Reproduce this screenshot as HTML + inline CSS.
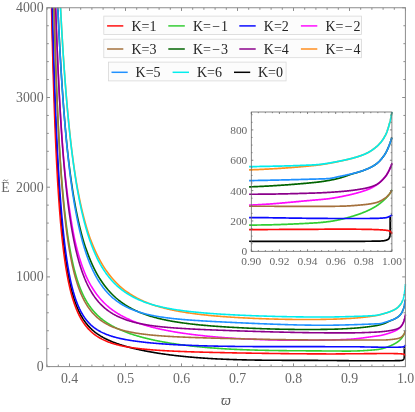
<!DOCTYPE html>
<html><head><meta charset="utf-8"><style>
html,body{margin:0;padding:0;background:#fff;}
svg{display:block;font-family:"Liberation Serif",serif;will-change:transform;}
</style></head><body>
<svg width="415" height="412" viewBox="0 0 415 412">
<rect width="415" height="412" fill="#fff"/>
<defs><clipPath id="cm"><rect x="46.8" y="7.75" width="359.80" height="358.85"/></clipPath>
<clipPath id="ci"><rect x="249.10000000000002" y="112.0" width="144.00" height="139.30"/></clipPath></defs>
<g clip-path="url(#cm)" fill="none" stroke-width="1.6" stroke-linejoin="round" stroke-linecap="butt">
<path d="M51.85,6.90 L52.01,13.29 L52.17,19.62 L52.33,25.90 L52.50,32.11 L52.67,38.26 L52.84,44.34 L53.01,50.35 L53.19,56.30 L53.37,62.17 L53.55,67.97 L53.73,73.69 L53.92,79.34 L54.11,84.91 L54.30,90.41 L54.49,95.82 L54.69,101.16 L54.88,106.41 L55.09,111.58 L55.29,116.68 L55.49,121.69 L55.70,126.61 L55.91,131.46 L56.12,136.22 L56.34,140.90 L56.56,145.50 L56.78,150.02 L57.00,154.45 L57.23,158.81 L57.45,163.08 L57.68,167.27 L57.91,171.38 L58.15,175.41 L58.39,179.36 L58.63,183.23 L58.87,187.03 L59.11,190.74 L59.36,194.38 L59.61,197.95 L59.86,201.44 L60.11,204.85 L60.37,208.20 L60.63,211.47 L60.89,214.67 L61.16,217.80 L61.42,220.86 L61.69,223.86 L61.96,226.78 L62.24,229.64 L62.51,232.44 L62.79,235.17 L63.07,237.84 L63.35,240.45 L63.64,242.99 L63.93,245.48 L64.22,247.91 L64.51,250.28 L64.81,252.60 L65.11,254.86 L65.41,257.07 L65.71,259.22 L66.01,261.32 L66.32,263.38 L66.63,265.38 L66.94,267.33 L67.26,269.24 L67.58,271.10 L67.90,272.91 L68.22,274.68 L68.54,276.41 L68.87,278.09 L69.20,279.74 L69.53,281.34 L69.87,282.90 L70.20,284.42 L70.54,285.91 L70.88,287.36 L71.23,288.77 L71.57,290.15 L71.92,291.50 L72.27,292.81 L72.63,294.09 L72.99,295.34 L73.34,296.55 L73.71,297.74 L74.07,298.90 L74.43,300.03 L74.80,301.13 L75.17,302.20 L75.55,303.25 L75.92,304.27 L76.30,305.27 L76.68,306.24 L77.06,307.19 L77.45,308.12 L77.84,309.02 L78.23,309.90 L78.62,310.77 L79.02,311.61 L79.41,312.43 L79.81,313.23 L80.22,314.01 L80.62,314.77 L81.03,315.52 L81.44,316.25 L81.85,316.96 L82.27,317.66 L82.68,318.34 L83.10,319.00 L83.52,319.65 L83.95,320.28 L84.38,320.90 L84.80,321.51 L85.24,322.10 L85.67,322.68 L86.11,323.25 L86.55,323.80 L86.99,324.35 L87.43,324.88 L87.88,325.40 L88.33,325.90 L88.78,326.40 L89.23,326.89 L89.69,327.37 L90.15,327.84 L90.61,328.29 L91.07,328.74 L91.54,329.18 L92.00,329.62 L92.47,330.04 L92.95,330.45 L93.42,330.86 L93.90,331.26 L94.38,331.65 L94.86,332.04 L95.35,332.41 L95.84,332.79 L96.33,333.15 L96.82,333.51 L97.31,333.86 L97.81,334.20 L98.31,334.54 L98.81,334.87 L99.32,335.20 L99.83,335.52 L100.33,335.84 L100.85,336.15 L101.36,336.46 L101.88,336.76 L102.40,337.06 L102.92,337.35 L103.44,337.64 L103.97,337.92 L104.50,338.20 L105.03,338.48 L105.56,338.75 L106.10,339.01 L106.64,339.28 L107.18,339.54 L107.72,339.79 L108.27,340.05 L108.82,340.29 L109.37,340.54 L109.92,340.78 L110.48,341.02 L111.04,341.26 L111.60,341.49 L112.16,341.72 L112.72,341.95 L113.29,342.17 L113.86,342.39 L114.44,342.61 L115.01,342.83 L115.59,343.04 L116.17,343.25 L116.75,343.46 L117.34,343.67 L117.92,343.87 L118.51,344.08 L119.11,344.28 L119.70,344.47 L120.30,344.67 L120.90,344.86 L121.50,345.05 L122.10,345.24 L122.71,345.43 L123.32,345.62 L123.93,345.80 L124.54,345.98 L125.16,346.16 L125.78,346.34 L126.40,346.52 L127.03,346.69 L127.65,346.86 L128.28,347.04 L128.91,347.20 L129.54,347.37 L130.18,347.54 L130.82,347.70 L131.46,347.87 L132.10,348.03 L132.75,348.19 L133.40,348.35 L134.05,348.51 L134.70,348.66 L135.36,348.82 L136.01,348.97 L136.67,349.12 L137.34,349.27 L138.00,349.42 L138.67,349.57 L139.34,349.72 L140.01,349.86 L140.69,350.01 L141.36,350.15 L142.04,350.29 L142.73,350.43 L143.41,350.57 L144.10,350.71 L144.79,350.85 L145.48,350.98 L146.17,351.12 L146.87,351.25 L147.57,351.38 L148.27,351.51 L148.98,351.64 L149.68,351.77 L150.39,351.90 L151.10,352.03 L151.82,352.15 L152.53,352.28 L153.25,352.40 L153.97,352.52 L154.70,352.64 L155.42,352.76 L156.15,352.88 L156.88,353.00 L157.61,353.12 L158.35,353.23 L159.09,353.35 L159.83,353.46 L160.57,353.57 L161.32,353.68 L162.07,353.79 L162.82,353.90 L163.57,354.01 L164.32,354.12 L165.08,354.22 L165.84,354.33 L166.60,354.43 L167.37,354.54 L168.14,354.64 L168.91,354.74 L169.68,354.84 L170.45,354.94 L171.23,355.04 L172.01,355.13 L172.79,355.23 L173.57,355.32 L174.36,355.42 L175.15,355.51 L175.94,355.60 L176.74,355.69 L177.53,355.78 L178.33,355.87 L179.13,355.96 L179.94,356.05 L180.74,356.14 L181.55,356.22 L182.36,356.30 L183.18,356.39 L183.99,356.47 L184.81,356.55 L185.63,356.63 L186.46,356.71 L187.28,356.79 L188.11,356.87 L188.94,356.94 L189.77,357.02 L190.61,357.09 L191.45,357.17 L192.29,357.24 L193.13,357.31 L193.97,357.38 L194.82,357.45 L195.67,357.52 L196.52,357.59 L197.38,357.65 L198.24,357.72 L199.10,357.78 L199.96,357.85 L200.82,357.91 L201.69,357.97 L202.56,358.03 L203.43,358.09 L204.31,358.15 L205.18,358.21 L206.06,358.27 L206.94,358.32 L207.83,358.38 L208.71,358.44 L209.60,358.49 L210.49,358.54 L211.39,358.59 L212.28,358.64 L213.18,358.69 L214.08,358.74 L214.99,358.79 L215.89,358.84 L216.80,358.89 L217.71,358.93 L218.63,358.98 L219.54,359.02 L220.46,359.06 L221.38,359.11 L222.30,359.15 L223.23,359.19 L224.16,359.23 L225.09,359.27 L226.02,359.30 L226.95,359.34 L227.89,359.38 L228.83,359.41 L229.77,359.45 L230.72,359.48 L231.67,359.51 L232.62,359.55 L233.57,359.58 L234.52,359.61 L235.48,359.64 L236.44,359.67 L237.40,359.70 L238.36,359.72 L239.33,359.75 L240.30,359.78 L241.27,359.80 L242.25,359.83 L243.22,359.85 L244.20,359.87 L245.18,359.90 L246.17,359.92 L247.15,359.94 L248.14,359.96 L249.13,359.98 L250.13,360.00 L251.12,360.02 L252.12,360.04 L253.12,360.05 L254.12,360.07 L255.13,360.09 L256.14,360.10 L257.15,360.12 L258.16,360.13 L259.18,360.14 L260.19,360.16 L261.22,360.17 L262.24,360.18 L263.26,360.19 L264.29,360.20 L265.32,360.21 L266.35,360.23 L267.39,360.23 L268.43,360.24 L269.46,360.25 L270.51,360.26 L271.55,360.27 L272.60,360.28 L273.65,360.28 L274.70,360.29 L275.75,360.30 L276.81,360.30 L277.87,360.31 L278.93,360.31 L280.00,360.32 L281.06,360.32 L282.13,360.33 L283.20,360.33 L284.28,360.33 L285.35,360.34 L286.43,360.34 L287.51,360.34 L288.60,360.35 L289.68,360.35 L290.77,360.35 L291.86,360.36 L292.95,360.36 L294.05,360.36 L295.15,360.36 L296.25,360.37 L297.35,360.37 L298.46,360.37 L299.56,360.37 L300.67,360.37 L301.79,360.38 L302.90,360.38 L304.02,360.38 L305.14,360.38 L306.26,360.39 L307.39,360.39 L308.51,360.39 L309.64,360.39 L310.78,360.40 L311.91,360.40 L313.05,360.40 L314.19,360.41 L315.33,360.41 L316.47,360.42 L317.62,360.42 L318.77,360.43 L319.92,360.43 L321.07,360.44 L322.23,360.45 L323.39,360.45 L324.55,360.46 L325.71,360.47 L326.88,360.48 L328.05,360.49 L329.22,360.49 L330.39,360.50 L331.57,360.52 L332.75,360.53 L333.93,360.54 L335.11,360.55 L336.30,360.56 L337.49,360.58 L338.68,360.59 L339.87,360.60 L341.06,360.62 L342.26,360.63 L343.46,360.64 L344.67,360.65 L345.87,360.66 L347.08,360.67 L348.29,360.67 L349.50,360.68 L349.50,360.68 L349.85,360.68 L350.19,360.68 L350.53,360.69 L350.88,360.69 L351.22,360.69 L351.56,360.69 L351.89,360.69 L352.23,360.69 L352.57,360.70 L352.90,360.70 L353.23,360.70 L353.56,360.70 L353.89,360.70 L354.22,360.70 L354.55,360.71 L354.88,360.71 L355.20,360.71 L355.53,360.71 L355.85,360.71 L356.17,360.71 L356.49,360.72 L356.81,360.72 L357.13,360.72 L357.44,360.72 L357.76,360.72 L358.07,360.72 L358.39,360.72 L358.70,360.73 L359.01,360.73 L359.32,360.73 L359.62,360.73 L359.93,360.73 L360.23,360.73 L360.54,360.73 L360.84,360.74 L361.14,360.74 L361.44,360.74 L361.74,360.74 L362.04,360.74 L362.34,360.74 L362.63,360.74 L362.92,360.74 L363.22,360.74 L363.51,360.75 L363.80,360.75 L364.09,360.75 L364.38,360.75 L364.66,360.75 L364.95,360.75 L365.23,360.75 L365.51,360.75 L365.80,360.75 L366.08,360.75 L366.35,360.76 L366.63,360.76 L366.91,360.76 L367.19,360.76 L367.46,360.76 L367.73,360.76 L368.00,360.76 L368.28,360.76 L368.55,360.76 L368.81,360.76 L369.08,360.76 L369.35,360.76 L369.61,360.76 L369.87,360.76 L370.14,360.76 L370.40,360.77 L370.66,360.77 L370.92,360.77 L371.18,360.77 L371.43,360.77 L371.69,360.77 L371.94,360.77 L372.19,360.77 L372.45,360.77 L372.70,360.77 L372.95,360.77 L373.19,360.77 L373.44,360.77 L373.69,360.77 L373.93,360.77 L374.18,360.77 L374.42,360.77 L374.66,360.77 L374.90,360.77 L375.14,360.77 L375.38,360.77 L375.61,360.77 L375.85,360.77 L376.08,360.77 L376.32,360.77 L376.55,360.77 L376.78,360.77 L377.01,360.77 L377.24,360.77 L377.47,360.77 L377.69,360.77 L377.92,360.77 L378.14,360.77 L378.36,360.77 L378.59,360.77 L378.81,360.76 L379.03,360.76 L379.25,360.76 L379.46,360.76 L379.68,360.76 L379.89,360.76 L380.11,360.76 L380.32,360.76 L380.53,360.76 L380.74,360.76 L380.95,360.76 L381.16,360.76 L381.37,360.76 L381.58,360.76 L381.78,360.76 L381.99,360.76 L382.19,360.75 L382.39,360.75 L382.59,360.75 L382.79,360.75 L382.99,360.75 L383.19,360.75 L383.39,360.75 L383.58,360.75 L383.78,360.75 L383.97,360.75 L384.16,360.75 L384.35,360.74 L384.54,360.74 L384.73,360.74 L384.92,360.74 L385.11,360.74 L385.29,360.74 L385.48,360.74 L385.66,360.74 L385.84,360.74 L386.03,360.74 L386.21,360.73 L386.39,360.73 L386.57,360.73 L386.74,360.73 L386.92,360.73 L387.10,360.73 L387.27,360.73 L387.44,360.73 L387.62,360.73 L387.79,360.73 L387.96,360.72 L388.13,360.72 L388.29,360.72 L388.46,360.72 L388.63,360.72 L388.79,360.72 L388.96,360.72 L389.12,360.72 L389.28,360.72 L389.44,360.71 L389.60,360.71 L389.76,360.71 L389.92,360.71 L390.08,360.71 L390.23,360.71 L390.39,360.71 L390.54,360.71 L390.70,360.71 L390.85,360.71 L391.00,360.70 L391.15,360.70 L391.30,360.70 L391.45,360.70 L391.59,360.70 L391.74,360.70 L391.89,360.70 L392.03,360.70 L392.17,360.70 L392.32,360.69 L392.46,360.69 L392.60,360.69 L392.74,360.69 L392.88,360.69 L393.01,360.69 L393.15,360.69 L393.29,360.69 L393.42,360.69 L393.55,360.68 L393.69,360.68 L393.82,360.68 L393.95,360.68 L394.08,360.68 L394.21,360.68 L394.34,360.68 L394.46,360.68 L394.59,360.68 L394.72,360.68 L394.84,360.67 L394.96,360.67 L395.09,360.67 L395.21,360.67 L395.33,360.67 L395.45,360.67 L395.57,360.67 L395.68,360.67 L395.80,360.67 L395.92,360.66 L396.03,360.66 L396.15,360.66 L396.26,360.66 L396.37,360.66 L396.48,360.66 L396.60,360.66 L396.70,360.65 L396.81,360.65 L396.92,360.65 L397.03,360.65 L397.14,360.65 L397.24,360.65 L397.35,360.65 L397.45,360.64 L397.55,360.64 L397.65,360.64 L397.75,360.64 L397.86,360.64 L397.95,360.64 L398.05,360.63 L398.15,360.63 L398.25,360.63 L398.34,360.63 L398.44,360.63 L398.53,360.62 L398.63,360.62 L398.72,360.62 L398.81,360.62 L398.90,360.62 L398.99,360.61 L399.08,360.61 L399.17,360.61 L399.26,360.61 L399.34,360.61 L399.43,360.60 L399.51,360.60 L399.60,360.60 L399.68,360.60 L399.76,360.59 L399.85,360.59 L399.92,360.59 L400.00,360.59 L400.07,360.58 L400.14,360.58 L400.21,360.58 L400.27,360.57 L400.34,360.57 L400.41,360.57 L400.48,360.56 L400.54,360.56 L400.61,360.55 L400.67,360.55 L400.73,360.54 L400.80,360.53 L400.86,360.53 L400.92,360.52 L400.98,360.52 L401.04,360.51 L401.10,360.50 L401.16,360.50 L401.22,360.49 L401.28,360.48 L401.33,360.48 L401.39,360.47 L401.45,360.46 L401.50,360.45 L401.55,360.45 L401.61,360.44 L401.66,360.43 L401.71,360.42 L401.77,360.41 L401.82,360.41 L401.87,360.40 L401.92,360.39 L401.97,360.38 L402.01,360.37 L402.06,360.36 L402.11,360.35 L402.16,360.33 L402.20,360.32 L402.25,360.31 L402.29,360.29 L402.34,360.28 L402.38,360.26 L402.42,360.25 L402.47,360.23 L402.51,360.22 L402.55,360.20 L402.59,360.18 L402.63,360.16 L402.67,360.15 L402.71,360.13 L402.75,360.11 L402.78,360.09 L402.82,360.07 L402.86,360.05 L402.89,360.03 L402.93,360.01 L402.96,359.99 L403.00,359.97 L403.03,359.95 L403.07,359.92 L403.10,359.90 L403.13,359.88 L403.16,359.86 L403.19,359.84 L403.22,359.81 L403.25,359.79 L403.28,359.77 L403.31,359.75 L403.34,359.72 L403.37,359.70 L403.40,359.68 L403.42,359.65 L403.45,359.63 L403.48,359.61 L403.50,359.59 L403.53,359.56 L403.55,359.54 L403.57,359.51 L403.60,359.48 L403.62,359.45 L403.64,359.41 L403.66,359.38 L403.69,359.34 L403.71,359.31 L403.73,359.27 L403.75,359.23 L403.77,359.19 L403.79,359.14 L403.80,359.10 L403.82,359.06 L403.84,359.01 L403.86,358.96 L403.87,358.92 L403.89,358.87 L403.91,358.82 L403.93,358.77 L403.94,358.72 L403.96,358.67 L403.98,358.62 L403.99,358.57 L404.01,358.52 L404.02,358.47 L404.04,358.42 L404.05,358.37 L404.06,358.32 L404.08,358.27 L404.09,358.23 L404.10,358.18 L404.11,358.13 L404.12,358.09 L404.13,358.05 L404.15,358.00 L404.16,357.95 L404.16,357.90 L404.17,357.85 L404.18,357.79 L404.19,357.72 L404.20,357.65 L404.21,357.58 L404.21,357.50 L404.22,357.42 L404.23,357.33 L404.23,357.24 L404.24,357.16 L404.25,357.07 L404.25,356.97 L404.26,356.88 L404.26,356.80 L404.26,356.71 L404.27,356.62 L404.27,356.54 L404.28,356.36 L404.28,356.09 L404.28,355.76 L404.28,355.41 L404.29,355.07 L404.29,354.75 L404.29,354.45 L404.29,354.19 L404.29,353.96 L404.30,353.76 L404.30,353.60 L404.30,353.47 L404.30,353.36 L404.30,353.28 L404.30,353.22 L404.30,353.18 L404.30,353.16 L404.30,353.15 L404.30,353.15 L404.30,346.33" stroke="#000000"/>
<path d="M51.53,5.75 L51.69,12.92 L51.85,19.99 L52.01,26.94 L52.17,33.79 L52.33,40.53 L52.50,47.16 L52.67,53.68 L52.84,60.08 L53.01,66.38 L53.19,72.57 L53.37,78.64 L53.55,84.60 L53.73,90.46 L53.92,96.20 L54.11,101.84 L54.30,107.36 L54.49,112.78 L54.69,118.09 L54.88,123.30 L55.09,128.40 L55.29,133.40 L55.49,138.29 L55.70,143.08 L55.91,147.78 L56.12,152.37 L56.34,156.87 L56.56,161.27 L56.78,165.58 L57.00,169.79 L57.23,173.92 L57.45,177.95 L57.68,181.89 L57.91,185.75 L58.15,189.52 L58.39,193.21 L58.63,196.81 L58.87,200.33 L59.11,203.78 L59.36,207.14 L59.61,210.43 L59.86,213.65 L60.11,216.79 L60.37,219.86 L60.63,222.86 L60.89,225.79 L61.16,228.65 L61.42,231.45 L61.69,234.18 L61.96,236.84 L62.24,239.45 L62.51,242.00 L62.79,244.48 L63.07,246.91 L63.35,249.28 L63.64,251.60 L63.93,253.86 L64.22,256.07 L64.51,258.22 L64.81,260.33 L65.11,262.39 L65.41,264.40 L65.71,266.36 L66.01,268.28 L66.32,270.15 L66.63,271.97 L66.94,273.76 L67.26,275.50 L67.58,277.20 L67.90,278.87 L68.22,280.49 L68.54,282.07 L68.87,283.62 L69.20,285.13 L69.53,286.61 L69.87,288.05 L70.20,289.46 L70.54,290.84 L70.88,292.18 L71.23,293.49 L71.57,294.78 L71.92,296.03 L72.27,297.25 L72.63,298.45 L72.99,299.61 L73.34,300.75 L73.71,301.87 L74.07,302.96 L74.43,304.02 L74.80,305.06 L75.17,306.07 L75.55,307.07 L75.92,308.04 L76.30,308.98 L76.68,309.91 L77.06,310.81 L77.45,311.70 L77.84,312.56 L78.23,313.40 L78.62,314.23 L79.02,315.04 L79.41,315.82 L79.81,316.59 L80.22,317.35 L80.62,318.08 L81.03,318.80 L81.44,319.51 L81.85,320.20 L82.27,320.87 L82.68,321.53 L83.10,322.17 L83.52,322.80 L83.95,323.41 L84.38,324.01 L84.80,324.60 L85.24,325.18 L85.67,325.74 L86.11,326.29 L86.55,326.83 L86.99,327.35 L87.43,327.87 L87.88,328.37 L88.33,328.86 L88.78,329.35 L89.23,329.82 L89.69,330.28 L90.15,330.73 L90.61,331.17 L91.07,331.60 L91.54,332.02 L92.00,332.44 L92.47,332.84 L92.95,333.24 L93.42,333.63 L93.90,334.01 L94.38,334.38 L94.86,334.74 L95.35,335.10 L95.84,335.44 L96.33,335.79 L96.82,336.12 L97.31,336.45 L97.81,336.77 L98.31,337.08 L98.81,337.39 L99.32,337.69 L99.83,337.98 L100.33,338.27 L100.85,338.55 L101.36,338.82 L101.88,339.10 L102.40,339.36 L102.92,339.62 L103.44,339.87 L103.97,340.12 L104.50,340.37 L105.03,340.60 L105.56,340.84 L106.10,341.07 L106.64,341.29 L107.18,341.51 L107.72,341.73 L108.27,341.94 L108.82,342.14 L109.37,342.35 L109.92,342.54 L110.48,342.74 L111.04,342.93 L111.60,343.12 L112.16,343.30 L112.72,343.48 L113.29,343.65 L113.86,343.83 L114.44,343.99 L115.01,344.16 L115.59,344.32 L116.17,344.48 L116.75,344.64 L117.34,344.79 L117.92,344.94 L118.51,345.09 L119.11,345.23 L119.70,345.37 L120.30,345.51 L120.90,345.65 L121.50,345.78 L122.10,345.91 L122.71,346.04 L123.32,346.16 L123.93,346.29 L124.54,346.41 L125.16,346.52 L125.78,346.64 L126.40,346.76 L127.03,346.87 L127.65,346.98 L128.28,347.08 L128.91,347.19 L129.54,347.29 L130.18,347.40 L130.82,347.49 L131.46,347.59 L132.10,347.69 L132.75,347.78 L133.40,347.88 L134.05,347.97 L134.70,348.06 L135.36,348.14 L136.01,348.23 L136.67,348.31 L137.34,348.40 L138.00,348.48 L138.67,348.56 L139.34,348.64 L140.01,348.71 L140.69,348.79 L141.36,348.86 L142.04,348.94 L142.73,349.01 L143.41,349.08 L144.10,349.15 L144.79,349.21 L145.48,349.28 L146.17,349.35 L146.87,349.41 L147.57,349.47 L148.27,349.54 L148.98,349.60 L149.68,349.66 L150.39,349.72 L151.10,349.77 L151.82,349.83 L152.53,349.89 L153.25,349.94 L153.97,350.00 L154.70,350.05 L155.42,350.10 L156.15,350.15 L156.88,350.21 L157.61,350.26 L158.35,350.30 L159.09,350.35 L159.83,350.40 L160.57,350.45 L161.32,350.49 L162.07,350.54 L162.82,350.58 L163.57,350.63 L164.32,350.67 L165.08,350.71 L165.84,350.76 L166.60,350.80 L167.37,350.84 L168.14,350.88 L168.91,350.92 L169.68,350.96 L170.45,350.99 L171.23,351.03 L172.01,351.07 L172.79,351.11 L173.57,351.14 L174.36,351.18 L175.15,351.21 L175.94,351.25 L176.74,351.28 L177.53,351.32 L178.33,351.35 L179.13,351.38 L179.94,351.41 L180.74,351.45 L181.55,351.48 L182.36,351.51 L183.18,351.54 L183.99,351.57 L184.81,351.60 L185.63,351.63 L186.46,351.66 L187.28,351.69 L188.11,351.72 L188.94,351.75 L189.77,351.77 L190.61,351.80 L191.45,351.83 L192.29,351.86 L193.13,351.88 L193.97,351.91 L194.82,351.94 L195.67,351.96 L196.52,351.99 L197.38,352.01 L198.24,352.04 L199.10,352.06 L199.96,352.09 L200.82,352.11 L201.69,352.14 L202.56,352.16 L203.43,352.18 L204.31,352.21 L205.18,352.23 L206.06,352.25 L206.94,352.27 L207.83,352.30 L208.71,352.32 L209.60,352.34 L210.49,352.36 L211.39,352.39 L212.28,352.41 L213.18,352.43 L214.08,352.45 L214.99,352.47 L215.89,352.49 L216.80,352.51 L217.71,352.53 L218.63,352.55 L219.54,352.57 L220.46,352.59 L221.38,352.61 L222.30,352.63 L223.23,352.65 L224.16,352.67 L225.09,352.69 L226.02,352.71 L226.95,352.73 L227.89,352.75 L228.83,352.77 L229.77,352.79 L230.72,352.80 L231.67,352.82 L232.62,352.84 L233.57,352.86 L234.52,352.88 L235.48,352.90 L236.44,352.91 L237.40,352.93 L238.36,352.95 L239.33,352.97 L240.30,352.98 L241.27,353.00 L242.25,353.02 L243.22,353.03 L244.20,353.05 L245.18,353.07 L246.17,353.09 L247.15,353.10 L248.14,353.12 L249.13,353.13 L250.13,353.15 L251.12,353.17 L252.12,353.18 L253.12,353.20 L254.12,353.21 L255.13,353.23 L256.14,353.25 L257.15,353.26 L258.16,353.28 L259.18,353.29 L260.19,353.31 L261.22,353.32 L262.24,353.34 L263.26,353.35 L264.29,353.37 L265.32,353.38 L266.35,353.39 L267.39,353.41 L268.43,353.42 L269.46,353.44 L270.51,353.45 L271.55,353.46 L272.60,353.48 L273.65,353.49 L274.70,353.50 L275.75,353.52 L276.81,353.53 L277.87,353.54 L278.93,353.56 L280.00,353.57 L281.06,353.58 L282.13,353.59 L283.20,353.61 L284.28,353.62 L285.35,353.63 L286.43,353.64 L287.51,353.65 L288.60,353.66 L289.68,353.68 L290.77,353.69 L291.86,353.70 L292.95,353.71 L294.05,353.72 L295.15,353.73 L296.25,353.74 L297.35,353.75 L298.46,353.76 L299.56,353.77 L300.67,353.78 L301.79,353.79 L302.90,353.80 L304.02,353.80 L305.14,353.81 L306.26,353.82 L307.39,353.83 L308.51,353.84 L309.64,353.84 L310.78,353.85 L311.91,353.86 L313.05,353.87 L314.19,353.87 L315.33,353.88 L316.47,353.88 L317.62,353.89 L318.77,353.90 L319.92,353.90 L321.07,353.91 L322.23,353.91 L323.39,353.92 L324.55,353.92 L325.71,353.92 L326.88,353.93 L328.05,353.93 L329.22,353.93 L330.39,353.93 L331.57,353.94 L332.75,353.93 L333.93,353.93 L335.11,353.93 L336.30,353.92 L337.49,353.91 L338.68,353.90 L339.87,353.89 L341.06,353.88 L342.26,353.86 L343.46,353.84 L344.67,353.83 L345.87,353.81 L347.08,353.80 L348.29,353.78 L349.50,353.77 L349.50,353.77 L349.85,353.77 L350.20,353.77 L350.55,353.77 L350.89,353.76 L351.24,353.76 L351.58,353.76 L351.92,353.76 L352.26,353.75 L352.60,353.75 L352.94,353.75 L353.28,353.75 L353.62,353.74 L353.95,353.74 L354.28,353.74 L354.62,353.74 L354.95,353.74 L355.28,353.73 L355.60,353.73 L355.93,353.73 L356.26,353.73 L356.58,353.72 L356.90,353.72 L357.22,353.72 L357.54,353.72 L357.86,353.72 L358.18,353.71 L358.50,353.71 L358.81,353.71 L359.13,353.71 L359.44,353.71 L359.75,353.70 L360.06,353.70 L360.37,353.70 L360.68,353.70 L360.98,353.70 L361.29,353.69 L361.59,353.69 L361.90,353.69 L362.20,353.69 L362.50,353.68 L362.80,353.68 L363.09,353.68 L363.39,353.68 L363.69,353.68 L363.98,353.67 L364.27,353.67 L364.56,353.67 L364.85,353.67 L365.14,353.67 L365.43,353.66 L365.72,353.66 L366.00,353.66 L366.29,353.66 L366.57,353.66 L366.85,353.65 L367.13,353.65 L367.41,353.65 L367.69,353.65 L367.96,353.65 L368.24,353.64 L368.51,353.64 L368.79,353.64 L369.06,353.64 L369.33,353.64 L369.60,353.63 L369.87,353.63 L370.13,353.63 L370.40,353.63 L370.66,353.63 L370.93,353.62 L371.19,353.62 L371.45,353.62 L371.71,353.62 L371.97,353.62 L372.22,353.61 L372.48,353.61 L372.74,353.61 L372.99,353.61 L373.24,353.61 L373.49,353.60 L373.74,353.60 L373.99,353.60 L374.24,353.60 L374.49,353.60 L374.73,353.59 L374.98,353.59 L375.22,353.59 L375.46,353.59 L375.70,353.59 L375.94,353.58 L376.18,353.58 L376.42,353.58 L376.66,353.58 L376.89,353.57 L377.12,353.57 L377.36,353.57 L377.59,353.57 L377.82,353.56 L378.05,353.56 L378.28,353.56 L378.50,353.55 L378.73,353.55 L378.95,353.55 L379.18,353.55 L379.40,353.54 L379.62,353.54 L379.84,353.54 L380.06,353.54 L380.28,353.53 L380.50,353.53 L380.71,353.53 L380.93,353.53 L381.14,353.52 L381.35,353.52 L381.56,353.52 L381.77,353.52 L381.98,353.52 L382.19,353.51 L382.40,353.51 L382.60,353.51 L382.81,353.51 L383.01,353.51 L383.21,353.51 L383.42,353.51 L383.62,353.51 L383.81,353.51 L384.01,353.50 L384.21,353.50 L384.41,353.50 L384.60,353.50 L384.79,353.50 L384.99,353.50 L385.18,353.50 L385.37,353.50 L385.56,353.50 L385.75,353.50 L385.93,353.51 L386.12,353.51 L386.30,353.51 L386.49,353.51 L386.67,353.51 L386.85,353.51 L387.03,353.51 L387.21,353.51 L387.39,353.51 L387.57,353.51 L387.75,353.51 L387.92,353.51 L388.10,353.52 L388.27,353.52 L388.44,353.52 L388.62,353.52 L388.79,353.52 L388.95,353.52 L389.12,353.52 L389.29,353.53 L389.46,353.53 L389.62,353.53 L389.79,353.53 L389.95,353.53 L390.11,353.53 L390.27,353.53 L390.43,353.54 L390.59,353.54 L390.75,353.54 L390.91,353.54 L391.06,353.54 L391.22,353.54 L391.37,353.55 L391.53,353.55 L391.68,353.55 L391.83,353.55 L391.98,353.55 L392.13,353.56 L392.28,353.56 L392.42,353.56 L392.57,353.56 L392.71,353.56 L392.86,353.57 L393.00,353.57 L393.14,353.57 L393.28,353.57 L393.42,353.57 L393.56,353.57 L393.70,353.58 L393.84,353.58 L393.98,353.58 L394.11,353.58 L394.25,353.58 L394.38,353.59 L394.51,353.59 L394.64,353.59 L394.77,353.59 L394.90,353.59 L395.03,353.60 L395.16,353.60 L395.29,353.60 L395.41,353.60 L395.54,353.61 L395.66,353.61 L395.79,353.61 L395.91,353.61 L396.03,353.62 L396.15,353.62 L396.27,353.62 L396.39,353.63 L396.50,353.63 L396.62,353.63 L396.74,353.64 L396.85,353.64 L396.97,353.64 L397.08,353.65 L397.19,353.65 L397.30,353.65 L397.41,353.66 L397.52,353.66 L397.63,353.67 L397.74,353.67 L397.85,353.67 L397.95,353.68 L398.06,353.68 L398.16,353.69 L398.26,353.69 L398.37,353.70 L398.47,353.70 L398.57,353.70 L398.67,353.71 L398.77,353.71 L398.86,353.72 L398.96,353.72 L399.06,353.73 L399.15,353.73 L399.25,353.74 L399.34,353.74 L399.43,353.75 L399.53,353.75 L399.62,353.76 L399.71,353.76 L399.80,353.76 L399.89,353.77 L399.97,353.77 L400.06,353.78 L400.15,353.78 L400.23,353.79 L400.32,353.79 L400.40,353.80 L400.48,353.80 L400.57,353.81 L400.65,353.81 L400.73,353.82 L400.81,353.82 L400.89,353.83 L400.96,353.84 L401.04,353.84 L401.12,353.85 L401.19,353.85 L401.27,353.86 L401.34,353.87 L401.42,353.87 L401.49,353.88 L401.56,353.88 L401.63,353.89 L401.70,353.90 L401.77,353.90 L401.84,353.91 L401.91,353.92 L401.97,353.92 L402.04,353.93 L402.11,353.94 L402.17,353.94 L402.24,353.95 L402.30,353.96 L402.36,353.97 L402.42,353.97 L402.48,353.98 L402.55,353.99 L402.60,354.00 L402.66,354.01 L402.72,354.01 L402.78,354.02 L402.84,354.03 L402.89,354.04 L402.95,354.05 L403.00,354.06 L403.06,354.06 L403.11,354.07 L403.16,354.08 L403.21,354.09 L403.27,354.10 L403.32,354.11 L403.37,354.12 L403.41,354.12 L403.46,354.13 L403.51,354.14 L403.56,354.15 L403.60,354.16 L403.65,354.17 L403.69,354.18 L403.74,354.19 L403.78,354.20 L403.83,354.21 L403.87,354.22 L403.91,354.23 L403.95,354.24 L403.99,354.25 L404.03,354.26 L404.07,354.28 L404.11,354.29 L404.15,354.30 L404.18,354.31 L404.22,354.33 L404.26,354.34 L404.29,354.35 L404.33,354.37 L404.36,354.38 L404.39,354.40 L404.43,354.41 L404.46,354.43 L404.49,354.44 L404.52,354.46 L404.55,354.48 L404.58,354.49 L404.61,354.51 L404.64,354.52 L404.67,354.54 L404.70,354.56 L404.73,354.57 L404.75,354.59 L404.78,354.61 L404.80,354.63 L404.83,354.64 L404.85,354.66 L404.88,354.68 L404.90,354.70 L404.92,354.71 L404.95,354.73 L404.97,354.75 L404.99,354.77 L405.01,354.79 L405.03,354.81 L405.05,354.84 L405.07,354.87 L405.09,354.91 L405.10,354.94 L405.12,354.98 L405.14,355.02 L405.16,355.06 L405.17,355.10 L405.19,355.14 L405.20,355.18 L405.22,355.22 L405.23,355.26 L405.25,355.30 L405.26,355.34 L405.27,355.38 L405.29,355.42 L405.30,355.45 L405.31,355.49 L405.32,355.53 L405.33,355.56 L405.34,355.60 L405.35,355.63 L405.36,355.66 L405.37,355.69 L405.38,355.72 L405.39,355.75 L405.40,355.77 L405.41,355.80 L405.41,355.82 L405.42,355.85 L405.43,355.87 L405.43,355.89 L405.44,355.91 L405.44,355.93 L405.45,355.94 L405.46,355.96 L405.46,355.98 L405.46,355.99 L405.47,356.00 L405.47,356.02 L405.48,356.03 L405.48,356.04 L405.48,356.05 L405.48,356.06 L405.49,356.06 L405.49,356.07 L405.49,356.08 L405.49,356.08 L405.49,356.09 L405.50,356.09 L405.50,356.09 L405.50,356.10 L405.50,356.10 L405.50,356.10 L405.50,356.10 L405.50,356.10 L405.50,356.10 L405.50,356.11 L405.50,356.11" stroke="#ff0d0d"/>
<path d="M53.87,3.74 L53.90,4.74 L53.92,5.74 L53.95,6.74 L53.98,7.73 L54.00,8.73 L54.03,9.73 L54.06,10.73 L54.08,11.72 L54.11,12.72 L54.14,13.72 L54.17,14.72 L54.20,15.71 L54.22,16.71 L54.25,17.71 L54.28,18.71 L54.31,19.70 L54.34,20.70 L54.37,21.70 L54.39,22.70 L54.42,23.69 L54.45,24.69 L54.48,25.69 L54.51,26.69 L54.54,27.68 L54.57,28.68 L54.60,29.68 L54.63,30.68 L54.66,31.67 L54.69,32.67 L54.72,33.67 L54.75,34.67 L54.78,35.66 L54.81,36.66 L54.84,37.66 L54.87,38.66 L54.90,39.65 L54.94,40.65 L54.97,41.65 L55.00,42.65 L55.03,43.64 L55.06,44.64 L55.09,45.64 L55.13,46.64 L55.16,47.63 L55.19,48.63 L55.22,49.63 L55.26,50.63 L55.29,51.62 L55.32,52.62 L55.36,53.62 L55.39,54.62 L55.42,55.61 L55.46,56.61 L55.49,57.61 L55.53,58.61 L55.56,59.60 L55.59,60.60 L55.63,61.60 L55.66,62.60 L55.70,63.59 L55.73,64.59 L55.77,65.59 L55.80,66.59 L55.84,67.58 L55.88,68.58 L55.91,69.58 L55.95,70.58 L55.99,71.57 L56.02,72.57 L56.06,73.57 L56.10,74.57 L56.13,75.56 L56.17,76.56 L56.21,77.56 L56.25,78.56 L56.28,79.55 L56.32,80.55 L56.36,81.55 L56.40,82.55 L56.44,83.54 L56.48,84.54 L56.52,85.54 L56.56,86.54 L56.60,87.53 L56.64,88.53 L56.68,89.53 L56.72,90.53 L56.76,91.52 L56.80,92.52 L56.84,93.52 L56.88,94.52 L56.92,95.51 L56.97,96.51 L57.01,97.51 L57.05,98.51 L57.09,99.50 L57.14,100.50 L57.18,101.50 L57.22,102.50 L57.27,103.49 L57.31,104.49 L57.35,105.49 L57.40,106.49 L57.44,107.48 L57.49,108.48 L57.53,109.48 L57.58,110.48 L57.62,111.47 L57.67,112.47 L57.72,113.47 L57.76,114.47 L57.81,115.46 L57.86,116.46 L57.91,117.46 L57.95,118.46 L58.00,119.45 L58.05,120.45 L58.10,121.45 L58.15,122.45 L58.20,123.44 L58.25,124.44 L58.30,125.44 L58.35,126.44 L58.40,127.43 L58.45,128.43 L58.50,129.43 L58.55,130.43 L58.60,131.42 L58.66,132.42 L58.71,133.42 L58.76,134.42 L58.82,135.41 L58.87,136.41 L58.92,137.41 L58.98,138.41 L59.03,139.40 L59.09,140.40 L59.15,141.40 L59.20,142.40 L59.26,143.39 L59.32,144.39 L59.37,145.39 L59.43,146.39 L59.49,147.38 L59.55,148.38 L59.61,149.38 L59.67,150.38 L59.73,151.37 L59.79,152.37 L59.86,153.37 L59.92,154.37 L59.99,155.36 L60.05,156.36 L60.12,157.36 L60.18,158.36 L60.25,159.35 L60.32,160.35 L60.38,161.35 L60.45,162.35 L60.52,163.34 L60.59,164.34 L60.66,165.34 L60.73,166.34 L60.80,167.33 L60.87,168.33 L60.94,169.33 L61.02,170.33 L61.09,171.32 L61.16,172.32 L61.24,173.32 L61.31,174.32 L61.39,175.31 L61.46,176.31 L61.54,177.31 L61.62,178.31 L61.70,179.30 L61.78,180.30 L61.86,181.30 L61.94,182.30 L62.03,183.29 L62.11,184.29 L62.20,185.29 L62.28,186.29 L62.37,187.28 L62.46,188.28 L62.54,189.28 L62.63,190.28 L62.72,191.27 L62.81,192.27 L62.90,193.27 L63.00,194.27 L63.09,195.26 L63.18,196.26 L63.28,197.26 L63.37,198.26 L63.47,199.25 L63.57,200.25 L63.66,201.25 L63.76,202.25 L63.86,203.24 L63.96,204.24 L64.07,205.24 L64.17,206.24 L64.27,207.23 L64.38,208.23 L64.48,209.23 L64.59,210.23 L64.70,211.22 L64.81,212.22 L64.92,213.22 L65.03,214.22 L65.15,215.21 L65.26,216.21 L65.38,217.21 L65.49,218.21 L65.61,219.20 L65.73,220.20 L65.85,221.20 L65.98,222.20 L66.10,223.19 L66.22,224.19 L66.35,225.19 L66.48,226.19 L66.61,227.18 L66.74,228.18 L66.87,229.18 L67.01,230.18 L67.14,231.17 L67.28,232.17 L67.42,233.17 L67.56,234.17 L67.70,235.16 L67.85,236.16 L68.00,237.16 L68.14,238.16 L68.30,239.15 L68.45,240.15 L68.62,241.15 L68.78,242.15 L68.94,243.14 L69.11,244.14 L69.28,245.14 L69.45,246.14 L69.63,247.13 L69.80,248.13 L69.98,249.13 L70.16,250.13 L70.34,251.12 L70.53,252.12 L70.72,253.12 L70.91,254.12 L71.10,255.11 L71.30,256.11 L71.50,257.11 L71.71,258.11 L71.91,259.10 L72.12,260.10 L72.34,261.10 L72.55,262.10 L72.77,263.09 L73.00,264.09 L73.23,265.09 L73.46,266.09 L73.70,267.08 L73.94,268.08 L74.19,269.08 L74.44,270.08 L74.70,271.07 L74.96,272.07 L75.23,273.07 L75.51,274.07 L75.79,275.06 L76.08,276.06 L76.37,277.06 L76.67,278.06 L76.98,279.05 L77.29,280.05 L77.62,281.05 L77.95,282.05 L78.29,283.04 L78.63,284.04 L78.99,285.04 L79.36,286.04 L79.73,287.03 L80.12,288.03 L80.52,289.03 L80.93,290.03 L81.35,291.02 L81.78,292.02 L82.23,293.02 L82.69,294.02 L83.16,295.01 L83.65,296.01 L84.15,297.01 L84.67,298.01 L85.21,299.00 L85.76,300.00 L86.11,300.60 L86.55,301.35 L86.99,302.09 L87.43,302.81 L87.88,303.51 L88.33,304.21 L88.78,304.88 L89.23,305.55 L89.69,306.20 L90.15,306.84 L90.61,307.46 L91.07,308.08 L91.54,308.68 L92.00,309.27 L92.47,309.85 L92.95,310.42 L93.42,310.98 L93.90,311.53 L94.38,312.06 L94.86,312.59 L95.35,313.11 L95.84,313.62 L96.33,314.12 L96.82,314.61 L97.31,315.10 L97.81,315.57 L98.31,316.04 L98.81,316.50 L99.32,316.95 L99.83,317.39 L100.33,317.83 L100.85,318.26 L101.36,318.68 L101.88,319.09 L102.40,319.50 L102.92,319.91 L103.44,320.30 L103.97,320.69 L104.50,321.07 L105.03,321.45 L105.56,321.82 L106.10,322.19 L106.64,322.55 L107.18,322.91 L107.72,323.26 L108.27,323.60 L108.82,323.94 L109.37,324.28 L109.92,324.61 L110.48,324.93 L111.04,325.26 L111.60,325.57 L112.16,325.89 L112.72,326.19 L113.29,326.50 L113.86,326.80 L114.44,327.10 L115.01,327.39 L115.59,327.68 L116.17,327.96 L116.75,328.25 L117.34,328.52 L117.92,328.80 L118.51,329.07 L119.11,329.34 L119.70,329.60 L120.30,329.87 L120.90,330.12 L121.50,330.38 L122.10,330.63 L122.71,330.88 L123.32,331.13 L123.93,331.37 L124.54,331.61 L125.16,331.85 L125.78,332.09 L126.40,332.32 L127.03,332.55 L127.65,332.78 L128.28,333.01 L128.91,333.23 L129.54,333.45 L130.18,333.67 L130.82,333.89 L131.46,334.10 L132.10,334.31 L132.75,334.52 L133.40,334.73 L134.05,334.94 L134.70,335.14 L135.36,335.34 L136.01,335.54 L136.67,335.74 L137.34,335.93 L138.00,336.13 L138.67,336.32 L139.34,336.51 L140.01,336.70 L140.69,336.88 L141.36,337.07 L142.04,337.25 L142.73,337.43 L143.41,337.61 L144.10,337.79 L144.79,337.96 L145.48,338.14 L146.17,338.31 L146.87,338.48 L147.57,338.65 L148.27,338.82 L148.98,338.98 L149.68,339.15 L150.39,339.31 L151.10,339.47 L151.82,339.63 L152.53,339.79 L153.25,339.95 L153.97,340.10 L154.70,340.26 L155.42,340.41 L156.15,340.56 L156.88,340.71 L157.61,340.86 L158.35,341.00 L159.09,341.15 L159.83,341.29 L160.57,341.44 L161.32,341.58 L162.07,341.72 L162.82,341.86 L163.57,341.99 L164.32,342.13 L165.08,342.26 L165.84,342.40 L166.60,342.53 L167.37,342.66 L168.14,342.79 L168.91,342.92 L169.68,343.05 L170.45,343.17 L171.23,343.30 L172.01,343.42 L172.79,343.54 L173.57,343.66 L174.36,343.78 L175.15,343.90 L175.94,344.02 L176.74,344.13 L177.53,344.25 L178.33,344.36 L179.13,344.47 L179.94,344.58 L180.74,344.69 L181.55,344.80 L182.36,344.91 L183.18,345.02 L183.99,345.12 L184.81,345.23 L185.63,345.33 L186.46,345.43 L187.28,345.53 L188.11,345.63 L188.94,345.73 L189.77,345.83 L190.61,345.92 L191.45,346.02 L192.29,346.11 L193.13,346.20 L193.97,346.30 L194.82,346.39 L195.67,346.48 L196.52,346.56 L197.38,346.65 L198.24,346.74 L199.10,346.82 L199.96,346.91 L200.82,346.99 L201.69,347.07 L202.56,347.15 L203.43,347.23 L204.31,347.31 L205.18,347.39 L206.06,347.46 L206.94,347.54 L207.83,347.61 L208.71,347.69 L209.60,347.76 L210.49,347.83 L211.39,347.90 L212.28,347.97 L213.18,348.04 L214.08,348.10 L214.99,348.17 L215.89,348.23 L216.80,348.30 L217.71,348.36 L218.63,348.42 L219.54,348.48 L220.46,348.54 L221.38,348.60 L222.30,348.66 L223.23,348.72 L224.16,348.78 L225.09,348.83 L226.02,348.88 L226.95,348.94 L227.89,348.99 L228.83,349.04 L229.77,349.09 L230.72,349.14 L231.67,349.19 L232.62,349.24 L233.57,349.28 L234.52,349.33 L235.48,349.38 L236.44,349.42 L237.40,349.46 L238.36,349.50 L239.33,349.55 L240.30,349.59 L241.27,349.63 L242.25,349.67 L243.22,349.70 L244.20,349.74 L245.18,349.78 L246.17,349.81 L247.15,349.85 L248.14,349.88 L249.13,349.91 L250.13,349.95 L251.12,349.98 L252.12,350.01 L253.12,350.04 L254.12,350.07 L255.13,350.10 L256.14,350.13 L257.15,350.15 L258.16,350.18 L259.18,350.20 L260.19,350.23 L261.22,350.25 L262.24,350.28 L263.26,350.30 L264.29,350.32 L265.32,350.35 L266.35,350.37 L267.39,350.39 L268.43,350.41 L269.46,350.43 L270.51,350.44 L271.55,350.46 L272.60,350.48 L273.65,350.50 L274.70,350.51 L275.75,350.53 L276.81,350.55 L277.87,350.56 L278.93,350.58 L280.00,350.59 L281.06,350.60 L282.13,350.62 L283.20,350.63 L284.28,350.64 L285.35,350.65 L286.43,350.66 L287.51,350.68 L288.60,350.69 L289.68,350.70 L290.77,350.71 L291.86,350.72 L292.95,350.73 L294.05,350.74 L295.15,350.75 L296.25,350.75 L297.35,350.76 L298.46,350.77 L299.56,350.78 L300.67,350.79 L301.79,350.79 L302.90,350.80 L304.02,350.81 L305.14,350.82 L306.26,350.83 L307.39,350.83 L308.51,350.84 L309.64,350.85 L310.78,350.85 L311.91,350.86 L313.05,350.87 L314.19,350.88 L315.33,350.88 L316.47,350.89 L317.62,350.90 L318.77,350.91 L319.92,350.91 L321.07,350.92 L322.23,350.93 L323.39,350.94 L324.55,350.95 L325.71,350.96 L326.88,350.97 L328.05,350.98 L329.22,350.99 L330.39,351.00 L331.57,351.01 L332.75,351.02 L333.93,351.03 L335.11,351.04 L336.30,351.05 L337.49,351.05 L338.68,351.06 L339.87,351.07 L341.06,351.07 L342.26,351.08 L343.46,351.08 L344.67,351.08 L345.87,351.08 L347.08,351.08 L348.29,351.08 L349.50,351.08 L349.50,351.08 L349.85,351.08 L350.20,351.08 L350.55,351.08 L350.89,351.08 L351.24,351.07 L351.58,351.07 L351.92,351.07 L352.26,351.06 L352.60,351.06 L352.94,351.05 L353.28,351.05 L353.62,351.04 L353.95,351.03 L354.28,351.02 L354.62,351.02 L354.95,351.01 L355.28,351.00 L355.60,350.99 L355.93,350.98 L356.26,350.97 L356.58,350.96 L356.90,350.95 L357.22,350.94 L357.54,350.92 L357.86,350.91 L358.18,350.90 L358.50,350.89 L358.81,350.87 L359.13,350.86 L359.44,350.85 L359.75,350.83 L360.06,350.82 L360.37,350.80 L360.68,350.79 L360.98,350.77 L361.29,350.76 L361.59,350.74 L361.90,350.73 L362.20,350.71 L362.50,350.69 L362.80,350.68 L363.09,350.66 L363.39,350.64 L363.69,350.63 L363.98,350.61 L364.27,350.59 L364.56,350.57 L364.85,350.56 L365.14,350.54 L365.43,350.52 L365.72,350.50 L366.00,350.48 L366.29,350.47 L366.57,350.45 L366.85,350.43 L367.13,350.41 L367.41,350.39 L367.69,350.37 L367.96,350.35 L368.24,350.33 L368.51,350.31 L368.79,350.29 L369.06,350.27 L369.33,350.26 L369.60,350.24 L369.87,350.22 L370.13,350.20 L370.40,350.18 L370.66,350.16 L370.93,350.14 L371.19,350.12 L371.45,350.10 L371.71,350.08 L371.97,350.06 L372.22,350.04 L372.48,350.02 L372.74,350.00 L372.99,349.98 L373.24,349.96 L373.49,349.94 L373.74,349.92 L373.99,349.90 L374.24,349.88 L374.49,349.86 L374.73,349.84 L374.98,349.82 L375.22,349.80 L375.46,349.78 L375.70,349.75 L375.94,349.73 L376.18,349.70 L376.42,349.67 L376.66,349.65 L376.89,349.62 L377.12,349.59 L377.36,349.55 L377.59,349.52 L377.82,349.49 L378.05,349.46 L378.28,349.42 L378.50,349.39 L378.73,349.35 L378.95,349.31 L379.18,349.28 L379.40,349.24 L379.62,349.20 L379.84,349.16 L380.06,349.12 L380.28,349.09 L380.50,349.04 L380.71,349.00 L380.93,348.96 L381.14,348.91 L381.35,348.86 L381.56,348.81 L381.77,348.76 L381.98,348.71 L382.19,348.66 L382.40,348.61 L382.60,348.55 L382.81,348.50 L383.01,348.44 L383.21,348.39 L383.42,348.33 L383.62,348.27 L383.81,348.21 L384.01,348.16 L384.21,348.10 L384.41,348.04 L384.60,347.98 L384.79,347.92 L384.99,347.86 L385.18,347.80 L385.37,347.74 L385.56,347.68 L385.75,347.61 L385.93,347.55 L386.12,347.48 L386.30,347.42 L386.49,347.35 L386.67,347.29 L386.85,347.22 L387.03,347.15 L387.21,347.08 L387.39,347.01 L387.57,346.94 L387.75,346.87 L387.92,346.80 L388.10,346.74 L388.27,346.67 L388.44,346.60 L388.62,346.53 L388.79,346.46 L388.95,346.39 L389.12,346.32 L389.29,346.25 L389.46,346.18 L389.62,346.11 L389.79,346.04 L389.95,345.97 L390.11,345.91 L390.27,345.84 L390.43,345.77 L390.59,345.70 L390.75,345.64 L390.91,345.57 L391.06,345.50 L391.22,345.43 L391.37,345.36 L391.53,345.30 L391.68,345.23 L391.83,345.16 L391.98,345.09 L392.13,345.02 L392.28,344.96 L392.42,344.89 L392.57,344.82 L392.71,344.75 L392.86,344.68 L393.00,344.61 L393.14,344.54 L393.28,344.47 L393.42,344.41 L393.56,344.34 L393.70,344.27 L393.84,344.20 L393.98,344.13 L394.11,344.05 L394.25,343.98 L394.38,343.91 L394.51,343.84 L394.64,343.77 L394.77,343.70 L394.90,343.63 L395.03,343.55 L395.16,343.48 L395.29,343.41 L395.41,343.34 L395.54,343.26 L395.66,343.19 L395.79,343.12 L395.91,343.04 L396.03,342.97 L396.15,342.90 L396.27,342.82 L396.39,342.75 L396.50,342.68 L396.62,342.60 L396.74,342.53 L396.85,342.45 L396.97,342.38 L397.08,342.30 L397.19,342.23 L397.30,342.15 L397.41,342.08 L397.52,342.00 L397.63,341.93 L397.74,341.85 L397.85,341.77 L397.95,341.70 L398.06,341.62 L398.16,341.54 L398.26,341.46 L398.37,341.39 L398.47,341.31 L398.57,341.23 L398.67,341.15 L398.77,341.07 L398.86,340.99 L398.96,340.91 L399.06,340.84 L399.15,340.76 L399.25,340.68 L399.34,340.60 L399.43,340.51 L399.53,340.43 L399.62,340.35 L399.71,340.27 L399.80,340.19 L399.89,340.11 L399.97,340.03 L400.06,339.94 L400.15,339.86 L400.23,339.78 L400.32,339.69 L400.40,339.61 L400.48,339.52 L400.57,339.44 L400.65,339.35 L400.73,339.27 L400.81,339.18 L400.89,339.09 L400.96,339.00 L401.04,338.92 L401.12,338.83 L401.19,338.74 L401.27,338.65 L401.34,338.56 L401.42,338.47 L401.49,338.38 L401.56,338.29 L401.63,338.20 L401.70,338.11 L401.77,338.02 L401.84,337.93 L401.91,337.84 L401.97,337.75 L402.04,337.66 L402.11,337.57 L402.17,337.48 L402.24,337.39 L402.30,337.30 L402.36,337.21 L402.42,337.12 L402.48,337.03 L402.55,336.94 L402.60,336.85 L402.66,336.76 L402.72,336.67 L402.78,336.58 L402.84,336.49 L402.89,336.40 L402.95,336.31 L403.00,336.23 L403.06,336.14 L403.11,336.05 L403.16,335.96 L403.21,335.88 L403.27,335.79 L403.32,335.71 L403.37,335.62 L403.41,335.54 L403.46,335.45 L403.51,335.37 L403.56,335.29 L403.60,335.20 L403.65,335.12 L403.69,335.04 L403.74,334.96 L403.78,334.88 L403.83,334.79 L403.87,334.71 L403.91,334.63 L403.95,334.55 L403.99,334.47 L404.03,334.39 L404.07,334.31 L404.11,334.23 L404.15,334.15 L404.18,334.07 L404.22,334.00 L404.26,333.92 L404.29,333.84 L404.33,333.76 L404.36,333.69 L404.39,333.61 L404.43,333.54 L404.46,333.46 L404.49,333.39 L404.52,333.32 L404.55,333.24 L404.58,333.17 L404.61,333.10 L404.64,333.03 L404.67,332.96 L404.70,332.89 L404.73,332.82 L404.75,332.76 L404.78,332.69 L404.80,332.62 L404.83,332.56 L404.85,332.50 L404.88,332.43 L404.90,332.37 L404.92,332.31 L404.95,332.25 L404.97,332.19 L404.99,332.13 L405.01,332.08 L405.03,332.02 L405.05,331.96 L405.07,331.90 L405.09,331.85 L405.10,331.79 L405.12,331.74 L405.14,331.68 L405.16,331.63 L405.17,331.58 L405.19,331.53 L405.20,331.48 L405.22,331.43 L405.23,331.38 L405.25,331.33 L405.26,331.29 L405.27,331.24 L405.29,331.20 L405.30,331.16 L405.31,331.12 L405.32,331.08 L405.33,331.04 L405.34,331.01 L405.35,330.97 L405.36,330.94 L405.37,330.90 L405.38,330.87 L405.39,330.84 L405.40,330.81 L405.41,330.79 L405.41,330.76 L405.42,330.73 L405.43,330.71 L405.43,330.69 L405.44,330.67 L405.44,330.65 L405.45,330.63 L405.46,330.61 L405.46,330.59 L405.46,330.58 L405.47,330.56 L405.47,330.55 L405.48,330.54 L405.48,330.53 L405.48,330.52 L405.48,330.51 L405.49,330.50 L405.49,330.49 L405.49,330.48 L405.49,330.48 L405.49,330.47 L405.50,330.47 L405.50,330.46 L405.50,330.46 L405.50,330.46 L405.50,330.45 L405.50,330.45 L405.50,330.45 L405.50,330.45 L405.50,330.45 L405.50,330.45" stroke="#32cd32"/>
<path d="M52.17,3.76 L52.33,10.10 L52.50,16.37 L52.67,22.59 L52.84,28.75 L53.01,34.85 L53.19,40.88 L53.37,46.85 L53.55,52.75 L53.73,58.58 L53.92,64.34 L54.11,70.03 L54.30,75.64 L54.49,81.19 L54.69,86.65 L54.88,92.04 L55.09,97.35 L55.29,102.59 L55.49,107.74 L55.70,112.82 L55.91,117.82 L56.12,122.74 L56.34,127.58 L56.56,132.34 L56.78,137.02 L57.00,141.62 L57.23,146.14 L57.45,150.58 L57.68,154.94 L57.91,159.22 L58.15,163.43 L58.39,167.55 L58.63,171.60 L58.87,175.57 L59.11,179.46 L59.36,183.28 L59.61,187.02 L59.86,190.69 L60.11,194.28 L60.37,197.80 L60.63,201.24 L60.89,204.62 L61.16,207.92 L61.42,211.15 L61.69,214.32 L61.96,217.41 L62.24,220.44 L62.51,223.40 L62.79,226.30 L63.07,229.13 L63.35,231.90 L63.64,234.61 L63.93,237.25 L64.22,239.84 L64.51,242.36 L64.81,244.83 L65.11,247.24 L65.41,249.59 L65.71,251.89 L66.01,254.13 L66.32,256.32 L66.63,258.46 L66.94,260.55 L67.26,262.59 L67.58,264.57 L67.90,266.51 L68.22,268.41 L68.54,270.25 L68.87,272.05 L69.20,273.81 L69.53,275.52 L69.87,277.19 L70.20,278.82 L70.54,280.41 L70.88,281.96 L71.23,283.47 L71.57,284.95 L71.92,286.38 L72.27,287.78 L72.63,289.14 L72.99,290.47 L73.34,291.77 L73.71,293.03 L74.07,294.27 L74.43,295.47 L74.80,296.63 L75.17,297.77 L75.55,298.89 L75.92,299.97 L76.30,301.02 L76.68,302.05 L77.06,303.05 L77.45,304.03 L77.84,304.98 L78.23,305.91 L78.62,306.81 L79.02,307.69 L79.41,308.55 L79.81,309.38 L80.22,310.20 L80.62,310.99 L81.03,311.76 L81.44,312.52 L81.85,313.25 L82.27,313.97 L82.68,314.66 L83.10,315.34 L83.52,316.01 L83.95,316.65 L84.38,317.28 L84.80,317.90 L85.24,318.49 L85.67,319.08 L86.11,319.65 L86.55,320.20 L86.99,320.74 L87.43,321.27 L87.88,321.78 L88.33,322.29 L88.78,322.78 L89.23,323.25 L89.69,323.72 L90.15,324.17 L90.61,324.62 L91.07,325.05 L91.54,325.47 L92.00,325.88 L92.47,326.28 L92.95,326.68 L93.42,327.06 L93.90,327.43 L94.38,327.80 L94.86,328.15 L95.35,328.50 L95.84,328.84 L96.33,329.17 L96.82,329.50 L97.31,329.82 L97.81,330.13 L98.31,330.43 L98.81,330.72 L99.32,331.01 L99.83,331.30 L100.33,331.57 L100.85,331.84 L101.36,332.11 L101.88,332.37 L102.40,332.62 L102.92,332.87 L103.44,333.11 L103.97,333.35 L104.50,333.58 L105.03,333.80 L105.56,334.03 L106.10,334.24 L106.64,334.46 L107.18,334.67 L107.72,334.87 L108.27,335.07 L108.82,335.27 L109.37,335.46 L109.92,335.65 L110.48,335.83 L111.04,336.01 L111.60,336.19 L112.16,336.37 L112.72,336.54 L113.29,336.71 L113.86,336.87 L114.44,337.03 L115.01,337.19 L115.59,337.34 L116.17,337.50 L116.75,337.65 L117.34,337.79 L117.92,337.94 L118.51,338.08 L119.11,338.22 L119.70,338.36 L120.30,338.49 L120.90,338.62 L121.50,338.75 L122.10,338.88 L122.71,339.01 L123.32,339.13 L123.93,339.25 L124.54,339.37 L125.16,339.49 L125.78,339.61 L126.40,339.72 L127.03,339.83 L127.65,339.94 L128.28,340.05 L128.91,340.16 L129.54,340.26 L130.18,340.37 L130.82,340.47 L131.46,340.57 L132.10,340.67 L132.75,340.76 L133.40,340.86 L134.05,340.96 L134.70,341.05 L135.36,341.14 L136.01,341.23 L136.67,341.32 L137.34,341.41 L138.00,341.49 L138.67,341.58 L139.34,341.66 L140.01,341.75 L140.69,341.83 L141.36,341.91 L142.04,341.99 L142.73,342.07 L143.41,342.15 L144.10,342.22 L144.79,342.30 L145.48,342.37 L146.17,342.45 L146.87,342.52 L147.57,342.59 L148.27,342.66 L148.98,342.73 L149.68,342.80 L150.39,342.87 L151.10,342.93 L151.82,343.00 L152.53,343.06 L153.25,343.13 L153.97,343.19 L154.70,343.25 L155.42,343.32 L156.15,343.38 L156.88,343.44 L157.61,343.50 L158.35,343.55 L159.09,343.61 L159.83,343.67 L160.57,343.73 L161.32,343.78 L162.07,343.84 L162.82,343.89 L163.57,343.94 L164.32,344.00 L165.08,344.05 L165.84,344.10 L166.60,344.15 L167.37,344.20 L168.14,344.25 L168.91,344.30 L169.68,344.35 L170.45,344.39 L171.23,344.44 L172.01,344.49 L172.79,344.53 L173.57,344.58 L174.36,344.62 L175.15,344.66 L175.94,344.71 L176.74,344.75 L177.53,344.79 L178.33,344.83 L179.13,344.87 L179.94,344.91 L180.74,344.95 L181.55,344.99 L182.36,345.03 L183.18,345.07 L183.99,345.11 L184.81,345.14 L185.63,345.18 L186.46,345.21 L187.28,345.25 L188.11,345.28 L188.94,345.32 L189.77,345.35 L190.61,345.38 L191.45,345.42 L192.29,345.45 L193.13,345.48 L193.97,345.51 L194.82,345.54 L195.67,345.57 L196.52,345.60 L197.38,345.63 L198.24,345.66 L199.10,345.69 L199.96,345.71 L200.82,345.74 L201.69,345.77 L202.56,345.79 L203.43,345.82 L204.31,345.84 L205.18,345.87 L206.06,345.89 L206.94,345.91 L207.83,345.94 L208.71,345.96 L209.60,345.98 L210.49,346.00 L211.39,346.03 L212.28,346.05 L213.18,346.07 L214.08,346.09 L214.99,346.11 L215.89,346.13 L216.80,346.14 L217.71,346.16 L218.63,346.18 L219.54,346.20 L220.46,346.21 L221.38,346.23 L222.30,346.25 L223.23,346.26 L224.16,346.28 L225.09,346.29 L226.02,346.31 L226.95,346.32 L227.89,346.34 L228.83,346.35 L229.77,346.36 L230.72,346.38 L231.67,346.39 L232.62,346.40 L233.57,346.41 L234.52,346.42 L235.48,346.43 L236.44,346.44 L237.40,346.45 L238.36,346.46 L239.33,346.47 L240.30,346.48 L241.27,346.49 L242.25,346.50 L243.22,346.51 L244.20,346.52 L245.18,346.52 L246.17,346.53 L247.15,346.54 L248.14,346.55 L249.13,346.55 L250.13,346.56 L251.12,346.56 L252.12,346.57 L253.12,346.58 L254.12,346.58 L255.13,346.59 L256.14,346.59 L257.15,346.59 L258.16,346.60 L259.18,346.60 L260.19,346.61 L261.22,346.61 L262.24,346.61 L263.26,346.62 L264.29,346.62 L265.32,346.62 L266.35,346.62 L267.39,346.63 L268.43,346.63 L269.46,346.63 L270.51,346.63 L271.55,346.63 L272.60,346.63 L273.65,346.64 L274.70,346.64 L275.75,346.64 L276.81,346.64 L277.87,346.64 L278.93,346.64 L280.00,346.64 L281.06,346.64 L282.13,346.64 L283.20,346.64 L284.28,346.64 L285.35,346.64 L286.43,346.64 L287.51,346.64 L288.60,346.64 L289.68,346.64 L290.77,346.64 L291.86,346.64 L292.95,346.64 L294.05,346.64 L295.15,346.64 L296.25,346.64 L297.35,346.64 L298.46,346.64 L299.56,346.64 L300.67,346.64 L301.79,346.64 L302.90,346.64 L304.02,346.64 L305.14,346.64 L306.26,346.64 L307.39,346.64 L308.51,346.64 L309.64,346.64 L310.78,346.65 L311.91,346.65 L313.05,346.65 L314.19,346.65 L315.33,346.65 L316.47,346.65 L317.62,346.66 L318.77,346.66 L319.92,346.66 L321.07,346.66 L322.23,346.67 L323.39,346.67 L324.55,346.67 L325.71,346.68 L326.88,346.68 L328.05,346.69 L329.22,346.69 L330.39,346.70 L331.57,346.70 L332.75,346.71 L333.93,346.71 L335.11,346.71 L336.30,346.71 L337.49,346.71 L338.68,346.71 L339.87,346.71 L341.06,346.71 L342.26,346.71 L343.46,346.70 L344.67,346.70 L345.87,346.69 L347.08,346.69 L348.29,346.69 L349.50,346.69 L349.50,346.69 L349.85,346.69 L350.20,346.69 L350.55,346.69 L350.89,346.69 L351.24,346.69 L351.58,346.69 L351.92,346.70 L352.26,346.70 L352.60,346.70 L352.94,346.71 L353.28,346.71 L353.62,346.71 L353.95,346.72 L354.28,346.72 L354.62,346.73 L354.95,346.73 L355.28,346.73 L355.60,346.74 L355.93,346.75 L356.26,346.75 L356.58,346.76 L356.90,346.76 L357.22,346.77 L357.54,346.77 L357.86,346.78 L358.18,346.79 L358.50,346.79 L358.81,346.80 L359.13,346.81 L359.44,346.81 L359.75,346.82 L360.06,346.83 L360.37,346.83 L360.68,346.84 L360.98,346.85 L361.29,346.85 L361.59,346.86 L361.90,346.87 L362.20,346.88 L362.50,346.88 L362.80,346.89 L363.09,346.90 L363.39,346.90 L363.69,346.91 L363.98,346.92 L364.27,346.92 L364.56,346.93 L364.85,346.94 L365.14,346.95 L365.43,346.95 L365.72,346.96 L366.00,346.97 L366.29,346.97 L366.57,346.98 L366.85,346.99 L367.13,346.99 L367.41,347.00 L367.69,347.01 L367.96,347.01 L368.24,347.02 L368.51,347.02 L368.79,347.03 L369.06,347.04 L369.33,347.04 L369.60,347.05 L369.87,347.05 L370.13,347.06 L370.40,347.06 L370.66,347.07 L370.93,347.07 L371.19,347.08 L371.45,347.08 L371.71,347.09 L371.97,347.09 L372.22,347.10 L372.48,347.10 L372.74,347.11 L372.99,347.11 L373.24,347.11 L373.49,347.12 L373.74,347.12 L373.99,347.12 L374.24,347.13 L374.49,347.13 L374.73,347.13 L374.98,347.14 L375.22,347.14 L375.46,347.14 L375.70,347.14 L375.94,347.15 L376.18,347.15 L376.42,347.15 L376.66,347.16 L376.89,347.16 L377.12,347.16 L377.36,347.17 L377.59,347.17 L377.82,347.17 L378.05,347.17 L378.28,347.18 L378.50,347.18 L378.73,347.18 L378.95,347.18 L379.18,347.19 L379.40,347.19 L379.62,347.19 L379.84,347.19 L380.06,347.20 L380.28,347.20 L380.50,347.20 L380.71,347.20 L380.93,347.21 L381.14,347.21 L381.35,347.21 L381.56,347.21 L381.77,347.21 L381.98,347.21 L382.19,347.22 L382.40,347.22 L382.60,347.22 L382.81,347.22 L383.01,347.22 L383.21,347.22 L383.42,347.22 L383.62,347.22 L383.81,347.22 L384.01,347.22 L384.21,347.22 L384.41,347.22 L384.60,347.22 L384.79,347.22 L384.99,347.22 L385.18,347.22 L385.37,347.22 L385.56,347.22 L385.75,347.22 L385.93,347.22 L386.12,347.22 L386.30,347.22 L386.49,347.22 L386.67,347.22 L386.85,347.22 L387.03,347.22 L387.21,347.22 L387.39,347.22 L387.57,347.22 L387.75,347.22 L387.92,347.22 L388.10,347.22 L388.27,347.22 L388.44,347.22 L388.62,347.22 L388.79,347.22 L388.95,347.22 L389.12,347.22 L389.29,347.22 L389.46,347.22 L389.62,347.22 L389.79,347.22 L389.95,347.22 L390.11,347.22 L390.27,347.22 L390.43,347.22 L390.59,347.22 L390.75,347.22 L390.91,347.22 L391.06,347.22 L391.22,347.22 L391.37,347.22 L391.53,347.22 L391.68,347.22 L391.83,347.22 L391.98,347.22 L392.13,347.22 L392.28,347.22 L392.42,347.22 L392.57,347.22 L392.71,347.22 L392.86,347.22 L393.00,347.22 L393.14,347.22 L393.28,347.22 L393.42,347.22 L393.56,347.22 L393.70,347.22 L393.84,347.22 L393.98,347.22 L394.11,347.22 L394.25,347.22 L394.38,347.22 L394.51,347.22 L394.64,347.22 L394.77,347.22 L394.90,347.22 L395.03,347.22 L395.16,347.22 L395.29,347.22 L395.41,347.22 L395.54,347.22 L395.66,347.22 L395.79,347.22 L395.91,347.22 L396.03,347.22 L396.15,347.22 L396.27,347.22 L396.39,347.22 L396.50,347.21 L396.62,347.21 L396.74,347.21 L396.85,347.21 L396.97,347.21 L397.08,347.21 L397.19,347.20 L397.30,347.20 L397.41,347.20 L397.52,347.20 L397.63,347.20 L397.74,347.19 L397.85,347.19 L397.95,347.19 L398.06,347.19 L398.16,347.18 L398.26,347.18 L398.37,347.18 L398.47,347.18 L398.57,347.17 L398.67,347.17 L398.77,347.17 L398.86,347.17 L398.96,347.16 L399.06,347.16 L399.15,347.16 L399.25,347.16 L399.34,347.15 L399.43,347.15 L399.53,347.15 L399.62,347.15 L399.71,347.14 L399.80,347.14 L399.89,347.14 L399.97,347.13 L400.06,347.13 L400.15,347.13 L400.23,347.12 L400.32,347.12 L400.40,347.12 L400.48,347.11 L400.57,347.11 L400.65,347.11 L400.73,347.10 L400.81,347.10 L400.89,347.09 L400.96,347.09 L401.04,347.08 L401.12,347.08 L401.19,347.07 L401.27,347.07 L401.34,347.06 L401.42,347.06 L401.49,347.05 L401.56,347.04 L401.63,347.04 L401.70,347.03 L401.77,347.02 L401.84,347.02 L401.91,347.01 L401.97,347.00 L402.04,347.00 L402.11,346.99 L402.17,346.98 L402.24,346.97 L402.30,346.96 L402.36,346.96 L402.42,346.95 L402.48,346.94 L402.55,346.93 L402.60,346.92 L402.66,346.91 L402.72,346.91 L402.78,346.90 L402.84,346.89 L402.89,346.88 L402.95,346.87 L403.00,346.86 L403.06,346.85 L403.11,346.84 L403.16,346.83 L403.21,346.82 L403.27,346.81 L403.32,346.80 L403.37,346.79 L403.41,346.78 L403.46,346.77 L403.51,346.76 L403.56,346.75 L403.60,346.74 L403.65,346.72 L403.69,346.71 L403.74,346.69 L403.78,346.67 L403.83,346.65 L403.87,346.63 L403.91,346.61 L403.95,346.59 L403.99,346.57 L404.03,346.54 L404.07,346.52 L404.11,346.50 L404.15,346.47 L404.18,346.45 L404.22,346.42 L404.26,346.40 L404.29,346.37 L404.33,346.35 L404.36,346.32 L404.39,346.30 L404.43,346.27 L404.46,346.25 L404.49,346.22 L404.52,346.20 L404.55,346.17 L404.58,346.15 L404.61,346.12 L404.64,346.10 L404.67,346.07 L404.70,346.05 L404.73,346.02 L404.75,346.00 L404.78,345.98 L404.80,345.95 L404.83,345.93 L404.85,345.91 L404.88,345.89 L404.90,345.87 L404.92,345.84 L404.95,345.82 L404.97,345.80 L404.99,345.78 L405.01,345.76 L405.03,345.74 L405.05,345.72 L405.07,345.70 L405.09,345.68 L405.10,345.65 L405.12,345.63 L405.14,345.61 L405.16,345.59 L405.17,345.57 L405.19,345.54 L405.20,345.52 L405.22,345.50 L405.23,345.48 L405.25,345.46 L405.26,345.44 L405.27,345.42 L405.29,345.40 L405.30,345.39 L405.31,345.37 L405.32,345.35 L405.33,345.33 L405.34,345.32 L405.35,345.30 L405.36,345.29 L405.37,345.27 L405.38,345.26 L405.39,345.25 L405.40,345.23 L405.41,345.22 L405.41,345.21 L405.42,345.20 L405.43,345.19 L405.43,345.18 L405.44,345.17 L405.44,345.16 L405.45,345.15 L405.46,345.14 L405.46,345.14 L405.46,345.13 L405.47,345.12 L405.47,345.12 L405.48,345.11 L405.48,345.11 L405.48,345.10 L405.48,345.10 L405.49,345.09 L405.49,345.09 L405.49,345.09 L405.49,345.08 L405.49,345.08 L405.50,345.08 L405.50,345.08 L405.50,345.08 L405.50,345.07 L405.50,345.07 L405.50,345.07 L405.50,345.07 L405.50,345.07 L405.50,345.07 L405.50,345.07" stroke="#0a0aff"/>
<path d="M55.50,3.74 L55.54,4.74 L55.57,5.74 L55.60,6.74 L55.64,7.73 L55.67,8.73 L55.70,9.73 L55.74,10.73 L55.77,11.72 L55.81,12.72 L55.84,13.72 L55.88,14.72 L55.91,15.71 L55.95,16.71 L55.99,17.71 L56.02,18.71 L56.06,19.70 L56.09,20.70 L56.13,21.70 L56.17,22.70 L56.20,23.69 L56.24,24.69 L56.28,25.69 L56.31,26.69 L56.35,27.68 L56.39,28.68 L56.43,29.68 L56.46,30.68 L56.50,31.67 L56.54,32.67 L56.58,33.67 L56.62,34.67 L56.66,35.66 L56.69,36.66 L56.73,37.66 L56.77,38.66 L56.81,39.65 L56.85,40.65 L56.89,41.65 L56.93,42.65 L56.97,43.64 L57.01,44.64 L57.05,45.64 L57.09,46.64 L57.14,47.63 L57.18,48.63 L57.22,49.63 L57.26,50.63 L57.30,51.62 L57.34,52.62 L57.39,53.62 L57.43,54.62 L57.47,55.61 L57.51,56.61 L57.56,57.61 L57.60,58.61 L57.64,59.60 L57.69,60.60 L57.73,61.60 L57.78,62.60 L57.82,63.59 L57.87,64.59 L57.91,65.59 L57.96,66.59 L58.00,67.58 L58.05,68.58 L58.09,69.58 L58.14,70.58 L58.19,71.57 L58.23,72.57 L58.28,73.57 L58.33,74.57 L58.38,75.56 L58.42,76.56 L58.47,77.56 L58.52,78.56 L58.57,79.55 L58.62,80.55 L58.67,81.55 L58.72,82.55 L58.77,83.54 L58.82,84.54 L58.87,85.54 L58.92,86.54 L58.97,87.53 L59.02,88.53 L59.07,89.53 L59.12,90.53 L59.18,91.52 L59.23,92.52 L59.28,93.52 L59.33,94.52 L59.39,95.51 L59.44,96.51 L59.49,97.51 L59.55,98.51 L59.60,99.50 L59.66,100.50 L59.71,101.50 L59.77,102.50 L59.83,103.49 L59.88,104.49 L59.94,105.49 L60.00,106.49 L60.05,107.48 L60.11,108.48 L60.17,109.48 L60.23,110.48 L60.29,111.47 L60.35,112.47 L60.41,113.47 L60.47,114.47 L60.53,115.46 L60.59,116.46 L60.65,117.46 L60.71,118.46 L60.77,119.45 L60.84,120.45 L60.90,121.45 L60.96,122.45 L61.03,123.44 L61.09,124.44 L61.15,125.44 L61.22,126.44 L61.28,127.43 L61.35,128.43 L61.42,129.43 L61.48,130.43 L61.55,131.42 L61.62,132.42 L61.69,133.42 L61.76,134.42 L61.83,135.41 L61.90,136.41 L61.97,137.41 L62.04,138.41 L62.11,139.40 L62.18,140.40 L62.25,141.40 L62.33,142.40 L62.40,143.39 L62.47,144.39 L62.55,145.39 L62.62,146.39 L62.70,147.38 L62.77,148.38 L62.85,149.38 L62.93,150.38 L63.02,151.37 L63.10,152.37 L63.19,153.37 L63.27,154.37 L63.36,155.36 L63.45,156.36 L63.53,157.36 L63.62,158.36 L63.71,159.35 L63.80,160.35 L63.89,161.35 L63.98,162.35 L64.08,163.34 L64.17,164.34 L64.26,165.34 L64.36,166.34 L64.45,167.33 L64.55,168.33 L64.64,169.33 L64.74,170.33 L64.84,171.32 L64.94,172.32 L65.04,173.32 L65.14,174.32 L65.24,175.31 L65.34,176.31 L65.44,177.31 L65.55,178.31 L65.66,179.30 L65.77,180.30 L65.88,181.30 L65.99,182.30 L66.11,183.29 L66.22,184.29 L66.34,185.29 L66.46,186.29 L66.58,187.28 L66.70,188.28 L66.82,189.28 L66.94,190.28 L67.06,191.27 L67.18,192.27 L67.31,193.27 L67.43,194.27 L67.56,195.26 L67.69,196.26 L67.82,197.26 L67.95,198.26 L68.08,199.25 L68.22,200.25 L68.35,201.25 L68.49,202.25 L68.62,203.24 L68.76,204.24 L68.90,205.24 L69.04,206.24 L69.18,207.23 L69.33,208.23 L69.47,209.23 L69.62,210.23 L69.77,211.22 L69.91,212.22 L70.06,213.22 L70.21,214.22 L70.37,215.21 L70.52,216.21 L70.68,217.21 L70.83,218.21 L70.99,219.20 L71.15,220.20 L71.32,221.20 L71.48,222.20 L71.65,223.19 L71.82,224.19 L71.99,225.19 L72.16,226.19 L72.34,227.18 L72.51,228.18 L72.69,229.18 L72.88,230.18 L73.06,231.17 L73.25,232.17 L73.44,233.17 L73.63,234.17 L73.82,235.16 L74.02,236.16 L74.22,237.16 L74.42,238.16 L74.63,239.15 L74.85,240.15 L75.08,241.15 L75.32,242.15 L75.55,243.14 L75.79,244.14 L76.04,245.14 L76.28,246.14 L76.53,247.13 L76.78,248.13 L77.04,249.13 L77.30,250.13 L77.57,251.12 L77.84,252.12 L78.11,253.12 L78.39,254.12 L78.67,255.11 L78.96,256.11 L79.25,257.11 L79.55,258.11 L79.85,259.10 L80.16,260.10 L80.47,261.10 L80.79,262.10 L81.12,263.09 L81.45,264.09 L81.79,265.09 L82.14,266.09 L82.50,267.08 L82.86,268.08 L83.24,269.08 L83.62,270.08 L84.00,271.07 L84.40,272.07 L84.81,273.07 L85.22,274.07 L85.65,275.06 L86.09,276.06 L86.54,277.06 L87.00,278.06 L87.48,279.05 L87.97,280.05 L88.47,281.05 L88.99,282.05 L89.52,283.04 L90.06,284.04 L90.62,285.04 L91.20,286.04 L91.79,287.03 L92.40,288.03 L93.03,289.03 L93.68,290.03 L94.35,291.02 L95.03,292.02 L95.74,293.02 L96.46,294.02 L97.21,295.01 L97.99,296.01 L98.79,297.01 L99.61,298.01 L100.47,299.00 L101.36,300.00 L101.36,300.00 L101.88,300.56 L102.40,301.12 L102.92,301.66 L103.44,302.20 L103.97,302.73 L104.50,303.25 L105.03,303.76 L105.56,304.26 L106.10,304.76 L106.64,305.25 L107.18,305.73 L107.72,306.20 L108.27,306.67 L108.82,307.13 L109.37,307.58 L109.92,308.02 L110.48,308.46 L111.04,308.89 L111.60,309.32 L112.16,309.74 L112.72,310.15 L113.29,310.56 L113.86,310.96 L114.44,311.35 L115.01,311.74 L115.59,312.12 L116.17,312.50 L116.75,312.87 L117.34,313.24 L117.92,313.60 L118.51,313.96 L119.11,314.31 L119.70,314.66 L120.30,315.00 L120.90,315.34 L121.50,315.67 L122.10,316.00 L122.71,316.32 L123.32,316.64 L123.93,316.95 L124.54,317.26 L125.16,317.57 L125.78,317.87 L126.40,318.17 L127.03,318.47 L127.65,318.76 L128.28,319.04 L128.91,319.32 L129.54,319.60 L130.18,319.88 L130.82,320.15 L131.46,320.42 L132.10,320.68 L132.75,320.95 L133.40,321.20 L134.05,321.46 L134.70,321.71 L135.36,321.96 L136.01,322.20 L136.67,322.45 L137.34,322.69 L138.00,322.92 L138.67,323.16 L139.34,323.39 L140.01,323.62 L140.69,323.84 L141.36,324.06 L142.04,324.28 L142.73,324.50 L143.41,324.71 L144.10,324.93 L144.79,325.14 L145.48,325.34 L146.17,325.55 L146.87,325.75 L147.57,325.95 L148.27,326.15 L148.98,326.34 L149.68,326.54 L150.39,326.73 L151.10,326.92 L151.82,327.10 L152.53,327.29 L153.25,327.47 L153.97,327.65 L154.70,327.83 L155.42,328.00 L156.15,328.18 L156.88,328.35 L157.61,328.52 L158.35,328.69 L159.09,328.86 L159.83,329.02 L160.57,329.18 L161.32,329.35 L162.07,329.51 L162.82,329.66 L163.57,329.82 L164.32,329.97 L165.08,330.13 L165.84,330.28 L166.60,330.43 L167.37,330.58 L168.14,330.72 L168.91,330.87 L169.68,331.01 L170.45,331.15 L171.23,331.29 L172.01,331.43 L172.79,331.57 L173.57,331.70 L174.36,331.84 L175.15,331.97 L175.94,332.10 L176.74,332.23 L177.53,332.36 L178.33,332.49 L179.13,332.62 L179.94,332.74 L180.74,332.87 L181.55,332.99 L182.36,333.11 L183.18,333.23 L183.99,333.35 L184.81,333.46 L185.63,333.58 L186.46,333.70 L187.28,333.81 L188.11,333.92 L188.94,334.03 L189.77,334.14 L190.61,334.25 L191.45,334.36 L192.29,334.47 L193.13,334.57 L193.97,334.68 L194.82,334.78 L195.67,334.88 L196.52,334.98 L197.38,335.08 L198.24,335.18 L199.10,335.28 L199.96,335.38 L200.82,335.47 L201.69,335.57 L202.56,335.66 L203.43,335.75 L204.31,335.84 L205.18,335.94 L206.06,336.02 L206.94,336.11 L207.83,336.20 L208.71,336.29 L209.60,336.37 L210.49,336.46 L211.39,336.54 L212.28,336.62 L213.18,336.71 L214.08,336.79 L214.99,336.87 L215.89,336.95 L216.80,337.02 L217.71,337.10 L218.63,337.18 L219.54,337.25 L220.46,337.33 L221.38,337.40 L222.30,337.47 L223.23,337.54 L224.16,337.61 L225.09,337.68 L226.02,337.75 L226.95,337.82 L227.89,337.88 L228.83,337.95 L229.77,338.02 L230.72,338.08 L231.67,338.14 L232.62,338.20 L233.57,338.27 L234.52,338.33 L235.48,338.39 L236.44,338.44 L237.40,338.50 L238.36,338.56 L239.33,338.62 L240.30,338.67 L241.27,338.72 L242.25,338.78 L243.22,338.83 L244.20,338.88 L245.18,338.93 L246.17,338.98 L247.15,339.03 L248.14,339.08 L249.13,339.13 L250.13,339.17 L251.12,339.22 L252.12,339.26 L253.12,339.31 L254.12,339.35 L255.13,339.39 L256.14,339.43 L257.15,339.47 L258.16,339.51 L259.18,339.55 L260.19,339.59 L261.22,339.62 L262.24,339.66 L263.26,339.69 L264.29,339.73 L265.32,339.76 L266.35,339.79 L267.39,339.82 L268.43,339.85 L269.46,339.88 L270.51,339.91 L271.55,339.94 L272.60,339.96 L273.65,339.99 L274.70,340.01 L275.75,340.03 L276.81,340.06 L277.87,340.08 L278.93,340.10 L280.00,340.12 L281.06,340.14 L282.13,340.16 L283.20,340.17 L284.28,340.19 L285.35,340.20 L286.43,340.22 L287.51,340.23 L288.60,340.24 L289.68,340.26 L290.77,340.27 L291.86,340.27 L292.95,340.28 L294.05,340.29 L295.15,340.30 L296.25,340.30 L297.35,340.31 L298.46,340.31 L299.56,340.31 L300.67,340.31 L301.79,340.31 L302.90,340.31 L304.02,340.31 L305.14,340.31 L306.26,340.30 L307.39,340.30 L308.51,340.29 L309.64,340.29 L310.78,340.28 L311.91,340.27 L313.05,340.26 L314.19,340.25 L315.33,340.23 L316.47,340.22 L317.62,340.21 L318.77,340.19 L319.92,340.17 L321.07,340.16 L322.23,340.14 L323.39,340.12 L324.55,340.10 L325.71,340.07 L326.88,340.05 L328.05,340.03 L329.22,340.00 L330.39,339.97 L331.57,339.95 L332.75,339.92 L333.93,339.89 L335.11,339.85 L336.30,339.82 L337.49,339.78 L338.68,339.74 L339.87,339.70 L341.06,339.65 L342.26,339.60 L343.46,339.55 L344.67,339.49 L345.87,339.43 L347.08,339.37 L348.29,339.31 L349.50,339.24 L349.50,339.24 L349.85,339.22 L350.20,339.20 L350.55,339.18 L350.89,339.16 L351.24,339.13 L351.58,339.11 L351.92,339.08 L352.26,339.06 L352.60,339.03 L352.94,339.00 L353.28,338.98 L353.62,338.95 L353.95,338.92 L354.28,338.89 L354.62,338.86 L354.95,338.83 L355.28,338.79 L355.60,338.76 L355.93,338.73 L356.26,338.70 L356.58,338.66 L356.90,338.63 L357.22,338.59 L357.54,338.56 L357.86,338.52 L358.18,338.49 L358.50,338.45 L358.81,338.41 L359.13,338.38 L359.44,338.34 L359.75,338.30 L360.06,338.26 L360.37,338.23 L360.68,338.19 L360.98,338.15 L361.29,338.11 L361.59,338.07 L361.90,338.03 L362.20,338.00 L362.50,337.96 L362.80,337.92 L363.09,337.88 L363.39,337.84 L363.69,337.80 L363.98,337.76 L364.27,337.72 L364.56,337.68 L364.85,337.64 L365.14,337.60 L365.43,337.57 L365.72,337.53 L366.00,337.49 L366.29,337.45 L366.57,337.41 L366.85,337.37 L367.13,337.33 L367.41,337.29 L367.69,337.26 L367.96,337.22 L368.24,337.18 L368.51,337.14 L368.79,337.10 L369.06,337.07 L369.33,337.03 L369.60,336.99 L369.87,336.95 L370.13,336.92 L370.40,336.88 L370.66,336.84 L370.93,336.81 L371.19,336.77 L371.45,336.74 L371.71,336.70 L371.97,336.67 L372.22,336.63 L372.48,336.60 L372.74,336.56 L372.99,336.53 L373.24,336.50 L373.49,336.46 L373.74,336.43 L373.99,336.40 L374.24,336.37 L374.49,336.33 L374.73,336.30 L374.98,336.27 L375.22,336.24 L375.46,336.21 L375.70,336.18 L375.94,336.15 L376.18,336.12 L376.42,336.09 L376.66,336.06 L376.89,336.03 L377.12,336.00 L377.36,335.97 L377.59,335.94 L377.82,335.91 L378.05,335.88 L378.28,335.85 L378.50,335.82 L378.73,335.79 L378.95,335.76 L379.18,335.72 L379.40,335.69 L379.62,335.65 L379.84,335.62 L380.06,335.58 L380.28,335.54 L380.50,335.50 L380.71,335.46 L380.93,335.42 L381.14,335.38 L381.35,335.33 L381.56,335.28 L381.77,335.24 L381.98,335.19 L382.19,335.14 L382.40,335.09 L382.60,335.04 L382.81,334.99 L383.01,334.94 L383.21,334.89 L383.42,334.84 L383.62,334.79 L383.81,334.73 L384.01,334.68 L384.21,334.63 L384.41,334.58 L384.60,334.52 L384.79,334.47 L384.99,334.42 L385.18,334.36 L385.37,334.31 L385.56,334.26 L385.75,334.20 L385.93,334.15 L386.12,334.10 L386.30,334.04 L386.49,333.99 L386.67,333.94 L386.85,333.88 L387.03,333.83 L387.21,333.78 L387.39,333.72 L387.57,333.67 L387.75,333.62 L387.92,333.56 L388.10,333.51 L388.27,333.45 L388.44,333.40 L388.62,333.34 L388.79,333.29 L388.95,333.24 L389.12,333.18 L389.29,333.13 L389.46,333.07 L389.62,333.02 L389.79,332.96 L389.95,332.91 L390.11,332.85 L390.27,332.80 L390.43,332.74 L390.59,332.68 L390.75,332.63 L390.91,332.57 L391.06,332.52 L391.22,332.46 L391.37,332.41 L391.53,332.35 L391.68,332.29 L391.83,332.24 L391.98,332.18 L392.13,332.12 L392.28,332.07 L392.42,332.01 L392.57,331.95 L392.71,331.90 L392.86,331.84 L393.00,331.78 L393.14,331.73 L393.28,331.67 L393.42,331.61 L393.56,331.56 L393.70,331.50 L393.84,331.44 L393.98,331.38 L394.11,331.33 L394.25,331.27 L394.38,331.21 L394.51,331.15 L394.64,331.10 L394.77,331.04 L394.90,330.98 L395.03,330.92 L395.16,330.86 L395.29,330.81 L395.41,330.75 L395.54,330.69 L395.66,330.63 L395.79,330.57 L395.91,330.51 L396.03,330.44 L396.15,330.38 L396.27,330.32 L396.39,330.26 L396.50,330.19 L396.62,330.13 L396.74,330.06 L396.85,330.00 L396.97,329.93 L397.08,329.87 L397.19,329.80 L397.30,329.73 L397.41,329.66 L397.52,329.59 L397.63,329.52 L397.74,329.45 L397.85,329.38 L397.95,329.31 L398.06,329.24 L398.16,329.17 L398.26,329.09 L398.37,329.02 L398.47,328.94 L398.57,328.87 L398.67,328.79 L398.77,328.71 L398.86,328.63 L398.96,328.55 L399.06,328.47 L399.15,328.39 L399.25,328.31 L399.34,328.23 L399.43,328.15 L399.53,328.06 L399.62,327.98 L399.71,327.89 L399.80,327.81 L399.89,327.72 L399.97,327.63 L400.06,327.54 L400.15,327.45 L400.23,327.36 L400.32,327.27 L400.40,327.18 L400.48,327.09 L400.57,327.00 L400.65,326.90 L400.73,326.81 L400.81,326.71 L400.89,326.62 L400.96,326.52 L401.04,326.42 L401.12,326.33 L401.19,326.23 L401.27,326.13 L401.34,326.03 L401.42,325.93 L401.49,325.83 L401.56,325.73 L401.63,325.62 L401.70,325.52 L401.77,325.42 L401.84,325.32 L401.91,325.21 L401.97,325.11 L402.04,325.01 L402.11,324.90 L402.17,324.80 L402.24,324.69 L402.30,324.58 L402.36,324.48 L402.42,324.37 L402.48,324.27 L402.55,324.16 L402.60,324.05 L402.66,323.95 L402.72,323.84 L402.78,323.73 L402.84,323.63 L402.89,323.52 L402.95,323.41 L403.00,323.31 L403.06,323.20 L403.11,323.09 L403.16,322.99 L403.21,322.88 L403.27,322.77 L403.32,322.67 L403.37,322.56 L403.41,322.46 L403.46,322.35 L403.51,322.25 L403.56,322.14 L403.60,322.03 L403.65,321.91 L403.69,321.80 L403.74,321.68 L403.78,321.57 L403.83,321.45 L403.87,321.33 L403.91,321.21 L403.95,321.09 L403.99,320.97 L404.03,320.84 L404.07,320.72 L404.11,320.60 L404.15,320.48 L404.18,320.35 L404.22,320.23 L404.26,320.11 L404.29,319.99 L404.33,319.87 L404.36,319.75 L404.39,319.63 L404.43,319.51 L404.46,319.39 L404.49,319.28 L404.52,319.16 L404.55,319.05 L404.58,318.93 L404.61,318.82 L404.64,318.71 L404.67,318.60 L404.70,318.49 L404.73,318.39 L404.75,318.28 L404.78,318.18 L404.80,318.08 L404.83,317.98 L404.85,317.88 L404.88,317.78 L404.90,317.69 L404.92,317.59 L404.95,317.50 L404.97,317.41 L404.99,317.32 L405.01,317.23 L405.03,317.15 L405.05,317.06 L405.07,316.97 L405.09,316.89 L405.10,316.80 L405.12,316.72 L405.14,316.64 L405.16,316.56 L405.17,316.48 L405.19,316.40 L405.20,316.32 L405.22,316.25 L405.23,316.17 L405.25,316.10 L405.26,316.03 L405.27,315.97 L405.29,315.90 L405.30,315.84 L405.31,315.77 L405.32,315.71 L405.33,315.66 L405.34,315.60 L405.35,315.55 L405.36,315.50 L405.37,315.45 L405.38,315.40 L405.39,315.35 L405.40,315.31 L405.41,315.27 L405.41,315.23 L405.42,315.19 L405.43,315.15 L405.43,315.12 L405.44,315.08 L405.44,315.05 L405.45,315.02 L405.46,315.00 L405.46,314.97 L405.46,314.95 L405.47,314.93 L405.47,314.90 L405.48,314.89 L405.48,314.87 L405.48,314.85 L405.48,314.84 L405.49,314.82 L405.49,314.81 L405.49,314.80 L405.49,314.79 L405.49,314.78 L405.50,314.78 L405.50,314.77 L405.50,314.77 L405.50,314.76 L405.50,314.76 L405.50,314.76 L405.50,314.75 L405.50,314.75 L405.50,314.75 L405.50,314.75" stroke="#ff0aff"/>
<path d="M53.92,5.55 L54.11,12.64 L54.30,19.60 L54.49,26.43 L54.69,33.14 L54.88,39.72 L55.09,46.18 L55.29,52.51 L55.49,58.72 L55.70,64.80 L55.91,70.77 L56.12,76.62 L56.34,82.35 L56.56,87.96 L56.78,93.46 L57.00,98.85 L57.23,104.12 L57.45,109.28 L57.68,114.34 L57.91,119.29 L58.15,124.13 L58.39,128.88 L58.63,133.52 L58.87,138.05 L59.11,142.50 L59.36,146.84 L59.61,151.09 L59.86,155.25 L60.11,159.32 L60.37,163.29 L60.63,167.18 L60.89,170.99 L61.16,174.71 L61.42,178.34 L61.69,181.90 L61.96,185.37 L62.24,188.77 L62.51,192.09 L62.79,195.34 L63.07,198.51 L63.35,201.62 L63.64,204.65 L63.93,207.61 L64.22,210.51 L64.51,213.34 L64.81,216.11 L65.11,218.81 L65.41,221.45 L65.71,224.04 L66.01,226.56 L66.32,229.03 L66.63,231.44 L66.94,233.79 L67.26,236.10 L67.58,238.35 L67.90,240.54 L68.22,242.69 L68.54,244.79 L68.87,246.84 L69.20,248.85 L69.53,250.81 L69.87,252.72 L70.20,254.59 L70.54,256.42 L70.88,258.21 L71.23,259.96 L71.57,261.66 L71.92,263.33 L72.27,264.96 L72.63,266.56 L72.99,268.11 L73.34,269.64 L73.71,271.12 L74.07,272.58 L74.43,274.00 L74.80,275.39 L75.17,276.75 L75.55,278.07 L75.92,279.37 L76.30,280.64 L76.68,281.88 L77.06,283.09 L77.45,284.28 L77.84,285.44 L78.23,286.57 L78.62,287.67 L79.02,288.76 L79.41,289.82 L79.81,290.85 L80.22,291.86 L80.62,292.85 L81.03,293.82 L81.44,294.77 L81.85,295.69 L82.27,296.60 L82.68,297.48 L83.10,298.34 L83.52,299.19 L83.95,300.02 L84.38,300.83 L84.80,301.62 L85.24,302.39 L85.67,303.15 L86.11,303.89 L86.55,304.61 L86.99,305.32 L87.43,306.02 L87.88,306.69 L88.33,307.36 L88.78,308.01 L89.23,308.64 L89.69,309.26 L90.15,309.87 L90.61,310.46 L91.07,311.04 L91.54,311.61 L92.00,312.17 L92.47,312.71 L92.95,313.25 L93.42,313.77 L93.90,314.28 L94.38,314.78 L94.86,315.27 L95.35,315.74 L95.84,316.21 L96.33,316.67 L96.82,317.12 L97.31,317.56 L97.81,317.99 L98.31,318.41 L98.81,318.82 L99.32,319.22 L99.83,319.61 L100.33,320.00 L100.85,320.38 L101.36,320.75 L101.88,321.11 L102.40,321.46 L102.92,321.81 L103.44,322.15 L103.97,322.48 L104.50,322.80 L105.03,323.12 L105.56,323.43 L106.10,323.74 L106.64,324.04 L107.18,324.33 L107.72,324.61 L108.27,324.89 L108.82,325.17 L109.37,325.44 L109.92,325.70 L110.48,325.96 L111.04,326.21 L111.60,326.46 L112.16,326.70 L112.72,326.93 L113.29,327.17 L113.86,327.39 L114.44,327.62 L115.01,327.83 L115.59,328.05 L116.17,328.26 L116.75,328.46 L117.34,328.66 L117.92,328.86 L118.51,329.05 L119.11,329.24 L119.70,329.42 L120.30,329.60 L120.90,329.78 L121.50,329.95 L122.10,330.12 L122.71,330.29 L123.32,330.45 L123.93,330.61 L124.54,330.76 L125.16,330.92 L125.78,331.07 L126.40,331.21 L127.03,331.36 L127.65,331.50 L128.28,331.64 L128.91,331.77 L129.54,331.91 L130.18,332.04 L130.82,332.16 L131.46,332.29 L132.10,332.41 L132.75,332.53 L133.40,332.65 L134.05,332.76 L134.70,332.87 L135.36,332.98 L136.01,333.09 L136.67,333.20 L137.34,333.30 L138.00,333.41 L138.67,333.51 L139.34,333.60 L140.01,333.70 L140.69,333.79 L141.36,333.89 L142.04,333.98 L142.73,334.07 L143.41,334.15 L144.10,334.24 L144.79,334.32 L145.48,334.40 L146.17,334.49 L146.87,334.56 L147.57,334.64 L148.27,334.72 L148.98,334.79 L149.68,334.87 L150.39,334.94 L151.10,335.01 L151.82,335.08 L152.53,335.15 L153.25,335.21 L153.97,335.28 L154.70,335.34 L155.42,335.41 L156.15,335.47 L156.88,335.53 L157.61,335.59 L158.35,335.65 L159.09,335.71 L159.83,335.76 L160.57,335.82 L161.32,335.87 L162.07,335.93 L162.82,335.98 L163.57,336.03 L164.32,336.08 L165.08,336.13 L165.84,336.18 L166.60,336.23 L167.37,336.28 L168.14,336.33 L168.91,336.37 L169.68,336.42 L170.45,336.46 L171.23,336.51 L172.01,336.55 L172.79,336.59 L173.57,336.64 L174.36,336.68 L175.15,336.72 L175.94,336.76 L176.74,336.80 L177.53,336.84 L178.33,336.88 L179.13,336.92 L179.94,336.95 L180.74,336.99 L181.55,337.03 L182.36,337.06 L183.18,337.10 L183.99,337.13 L184.81,337.17 L185.63,337.20 L186.46,337.24 L187.28,337.27 L188.11,337.30 L188.94,337.34 L189.77,337.37 L190.61,337.40 L191.45,337.43 L192.29,337.46 L193.13,337.49 L193.97,337.53 L194.82,337.56 L195.67,337.59 L196.52,337.62 L197.38,337.64 L198.24,337.67 L199.10,337.70 L199.96,337.73 L200.82,337.76 L201.69,337.79 L202.56,337.82 L203.43,337.84 L204.31,337.87 L205.18,337.90 L206.06,337.92 L206.94,337.95 L207.83,337.98 L208.71,338.00 L209.60,338.03 L210.49,338.06 L211.39,338.08 L212.28,338.11 L213.18,338.13 L214.08,338.16 L214.99,338.18 L215.89,338.21 L216.80,338.23 L217.71,338.26 L218.63,338.28 L219.54,338.31 L220.46,338.33 L221.38,338.36 L222.30,338.38 L223.23,338.40 L224.16,338.43 L225.09,338.45 L226.02,338.48 L226.95,338.50 L227.89,338.52 L228.83,338.55 L229.77,338.57 L230.72,338.59 L231.67,338.61 L232.62,338.64 L233.57,338.66 L234.52,338.68 L235.48,338.71 L236.44,338.73 L237.40,338.75 L238.36,338.77 L239.33,338.79 L240.30,338.82 L241.27,338.84 L242.25,338.86 L243.22,338.88 L244.20,338.90 L245.18,338.93 L246.17,338.95 L247.15,338.97 L248.14,338.99 L249.13,339.01 L250.13,339.03 L251.12,339.05 L252.12,339.07 L253.12,339.09 L254.12,339.11 L255.13,339.14 L256.14,339.16 L257.15,339.18 L258.16,339.20 L259.18,339.22 L260.19,339.24 L261.22,339.26 L262.24,339.28 L263.26,339.30 L264.29,339.31 L265.32,339.33 L266.35,339.35 L267.39,339.37 L268.43,339.39 L269.46,339.41 L270.51,339.43 L271.55,339.45 L272.60,339.46 L273.65,339.48 L274.70,339.50 L275.75,339.52 L276.81,339.54 L277.87,339.55 L278.93,339.57 L280.00,339.59 L281.06,339.60 L282.13,339.62 L283.20,339.64 L284.28,339.65 L285.35,339.67 L286.43,339.68 L287.51,339.70 L288.60,339.71 L289.68,339.73 L290.77,339.74 L291.86,339.76 L292.95,339.77 L294.05,339.78 L295.15,339.80 L296.25,339.81 L297.35,339.82 L298.46,339.84 L299.56,339.85 L300.67,339.86 L301.79,339.87 L302.90,339.88 L304.02,339.89 L305.14,339.90 L306.26,339.91 L307.39,339.92 L308.51,339.93 L309.64,339.94 L310.78,339.95 L311.91,339.96 L313.05,339.97 L314.19,339.97 L315.33,339.98 L316.47,339.99 L317.62,339.99 L318.77,340.00 L319.92,340.00 L321.07,340.01 L322.23,340.01 L323.39,340.02 L324.55,340.02 L325.71,340.02 L326.88,340.02 L328.05,340.02 L329.22,340.02 L330.39,340.02 L331.57,340.02 L332.75,340.02 L333.93,340.02 L335.11,340.01 L336.30,340.01 L337.49,340.00 L338.68,340.00 L339.87,339.99 L341.06,339.98 L342.26,339.98 L343.46,339.97 L344.67,339.97 L345.87,339.96 L347.08,339.96 L348.29,339.96 L349.50,339.96 L349.50,339.96 L349.85,339.96 L350.20,339.96 L350.55,339.96 L350.89,339.96 L351.24,339.96 L351.58,339.96 L351.92,339.96 L352.26,339.96 L352.60,339.96 L352.94,339.96 L353.28,339.96 L353.62,339.97 L353.95,339.97 L354.28,339.97 L354.62,339.97 L354.95,339.97 L355.28,339.97 L355.60,339.97 L355.93,339.97 L356.26,339.97 L356.58,339.98 L356.90,339.98 L357.22,339.98 L357.54,339.98 L357.86,339.98 L358.18,339.98 L358.50,339.98 L358.81,339.99 L359.13,339.99 L359.44,339.99 L359.75,339.99 L360.06,339.99 L360.37,339.99 L360.68,340.00 L360.98,340.00 L361.29,340.00 L361.59,340.00 L361.90,340.00 L362.20,340.00 L362.50,340.01 L362.80,340.01 L363.09,340.01 L363.39,340.01 L363.69,340.01 L363.98,340.01 L364.27,340.01 L364.56,340.02 L364.85,340.02 L365.14,340.02 L365.43,340.02 L365.72,340.02 L366.00,340.02 L366.29,340.02 L366.57,340.03 L366.85,340.03 L367.13,340.03 L367.41,340.03 L367.69,340.03 L367.96,340.03 L368.24,340.03 L368.51,340.03 L368.79,340.04 L369.06,340.04 L369.33,340.04 L369.60,340.04 L369.87,340.04 L370.13,340.04 L370.40,340.04 L370.66,340.04 L370.93,340.04 L371.19,340.04 L371.45,340.04 L371.71,340.04 L371.97,340.05 L372.22,340.05 L372.48,340.05 L372.74,340.05 L372.99,340.05 L373.24,340.05 L373.49,340.05 L373.74,340.05 L373.99,340.05 L374.24,340.05 L374.49,340.05 L374.73,340.05 L374.98,340.05 L375.22,340.05 L375.46,340.05 L375.70,340.05 L375.94,340.05 L376.18,340.05 L376.42,340.05 L376.66,340.05 L376.89,340.04 L377.12,340.04 L377.36,340.04 L377.59,340.04 L377.82,340.04 L378.05,340.04 L378.28,340.04 L378.50,340.04 L378.73,340.03 L378.95,340.03 L379.18,340.03 L379.40,340.03 L379.62,340.03 L379.84,340.02 L380.06,340.02 L380.28,340.02 L380.50,340.02 L380.71,340.01 L380.93,340.01 L381.14,340.01 L381.35,340.01 L381.56,340.00 L381.77,340.00 L381.98,340.00 L382.19,340.00 L382.40,339.99 L382.60,339.99 L382.81,339.99 L383.01,339.99 L383.21,339.98 L383.42,339.98 L383.62,339.98 L383.81,339.97 L384.01,339.97 L384.21,339.97 L384.41,339.96 L384.60,339.96 L384.79,339.96 L384.99,339.95 L385.18,339.95 L385.37,339.94 L385.56,339.94 L385.75,339.93 L385.93,339.93 L386.12,339.92 L386.30,339.91 L386.49,339.90 L386.67,339.89 L386.85,339.88 L387.03,339.87 L387.21,339.86 L387.39,339.85 L387.57,339.84 L387.75,339.83 L387.92,339.81 L388.10,339.80 L388.27,339.79 L388.44,339.77 L388.62,339.76 L388.79,339.75 L388.95,339.73 L389.12,339.72 L389.29,339.70 L389.46,339.69 L389.62,339.67 L389.79,339.66 L389.95,339.64 L390.11,339.62 L390.27,339.61 L390.43,339.59 L390.59,339.58 L390.75,339.56 L390.91,339.54 L391.06,339.53 L391.22,339.51 L391.37,339.49 L391.53,339.48 L391.68,339.46 L391.83,339.44 L391.98,339.42 L392.13,339.41 L392.28,339.39 L392.42,339.37 L392.57,339.35 L392.71,339.34 L392.86,339.32 L393.00,339.30 L393.14,339.28 L393.28,339.27 L393.42,339.25 L393.56,339.23 L393.70,339.21 L393.84,339.20 L393.98,339.18 L394.11,339.16 L394.25,339.15 L394.38,339.13 L394.51,339.11 L394.64,339.09 L394.77,339.08 L394.90,339.06 L395.03,339.04 L395.16,339.02 L395.29,339.01 L395.41,338.99 L395.54,338.97 L395.66,338.95 L395.79,338.93 L395.91,338.91 L396.03,338.89 L396.15,338.87 L396.27,338.85 L396.39,338.83 L396.50,338.81 L396.62,338.79 L396.74,338.77 L396.85,338.75 L396.97,338.72 L397.08,338.70 L397.19,338.68 L397.30,338.65 L397.41,338.63 L397.52,338.61 L397.63,338.58 L397.74,338.56 L397.85,338.53 L397.95,338.51 L398.06,338.48 L398.16,338.45 L398.26,338.43 L398.37,338.40 L398.47,338.37 L398.57,338.35 L398.67,338.32 L398.77,338.29 L398.86,338.26 L398.96,338.23 L399.06,338.20 L399.15,338.17 L399.25,338.14 L399.34,338.11 L399.43,338.08 L399.53,338.05 L399.62,338.02 L399.71,337.98 L399.80,337.95 L399.89,337.92 L399.97,337.89 L400.06,337.85 L400.15,337.82 L400.23,337.78 L400.32,337.74 L400.40,337.70 L400.48,337.66 L400.57,337.62 L400.65,337.57 L400.73,337.53 L400.81,337.48 L400.89,337.43 L400.96,337.38 L401.04,337.33 L401.12,337.28 L401.19,337.23 L401.27,337.18 L401.34,337.12 L401.42,337.07 L401.49,337.01 L401.56,336.96 L401.63,336.90 L401.70,336.84 L401.77,336.79 L401.84,336.73 L401.91,336.67 L401.97,336.61 L402.04,336.55 L402.11,336.49 L402.17,336.43 L402.24,336.37 L402.30,336.31 L402.36,336.24 L402.42,336.18 L402.48,336.12 L402.55,336.06 L402.60,336.00 L402.66,335.94 L402.72,335.87 L402.78,335.81 L402.84,335.75 L402.89,335.69 L402.95,335.62 L403.00,335.56 L403.06,335.50 L403.11,335.44 L403.16,335.38 L403.21,335.31 L403.27,335.25 L403.32,335.19 L403.37,335.13 L403.41,335.07 L403.46,335.01 L403.51,334.95 L403.56,334.89 L403.60,334.83 L403.65,334.76 L403.69,334.70 L403.74,334.63 L403.78,334.57 L403.83,334.50 L403.87,334.44 L403.91,334.37 L403.95,334.30 L403.99,334.24 L404.03,334.17 L404.07,334.10 L404.11,334.03 L404.15,333.96 L404.18,333.90 L404.22,333.83 L404.26,333.76 L404.29,333.69 L404.33,333.62 L404.36,333.56 L404.39,333.49 L404.43,333.42 L404.46,333.35 L404.49,333.29 L404.52,333.22 L404.55,333.16 L404.58,333.09 L404.61,333.03 L404.64,332.96 L404.67,332.90 L404.70,332.83 L404.73,332.77 L404.75,332.71 L404.78,332.65 L404.80,332.59 L404.83,332.53 L404.85,332.47 L404.88,332.41 L404.90,332.36 L404.92,332.30 L404.95,332.24 L404.97,332.19 L404.99,332.14 L405.01,332.08 L405.03,332.03 L405.05,331.97 L405.07,331.92 L405.09,331.86 L405.10,331.81 L405.12,331.76 L405.14,331.70 L405.16,331.65 L405.17,331.60 L405.19,331.55 L405.20,331.50 L405.22,331.45 L405.23,331.40 L405.25,331.35 L405.26,331.31 L405.27,331.26 L405.29,331.22 L405.30,331.18 L405.31,331.13 L405.32,331.09 L405.33,331.06 L405.34,331.02 L405.35,330.98 L405.36,330.95 L405.37,330.91 L405.38,330.88 L405.39,330.85 L405.40,330.82 L405.41,330.79 L405.41,330.77 L405.42,330.74 L405.43,330.72 L405.43,330.69 L405.44,330.67 L405.44,330.65 L405.45,330.63 L405.46,330.61 L405.46,330.60 L405.46,330.58 L405.47,330.57 L405.47,330.55 L405.48,330.54 L405.48,330.53 L405.48,330.52 L405.48,330.51 L405.49,330.50 L405.49,330.49 L405.49,330.48 L405.49,330.48 L405.49,330.47 L405.50,330.47 L405.50,330.46 L405.50,330.46 L405.50,330.46 L405.50,330.45 L405.50,330.45 L405.50,330.45 L405.50,330.45 L405.50,330.45 L405.50,330.45" stroke="#a5713c"/>
<path d="M57.67,3.74 L57.71,4.74 L57.75,5.74 L57.80,6.74 L57.84,7.73 L57.88,8.73 L57.93,9.73 L57.97,10.73 L58.02,11.72 L58.06,12.72 L58.11,13.72 L58.16,14.72 L58.20,15.71 L58.25,16.71 L58.30,17.71 L58.34,18.71 L58.39,19.70 L58.44,20.70 L58.48,21.70 L58.53,22.70 L58.58,23.69 L58.63,24.69 L58.68,25.69 L58.72,26.69 L58.77,27.68 L58.82,28.68 L58.87,29.68 L58.92,30.68 L58.97,31.67 L59.02,32.67 L59.07,33.67 L59.12,34.67 L59.17,35.66 L59.22,36.66 L59.28,37.66 L59.33,38.66 L59.38,39.65 L59.43,40.65 L59.48,41.65 L59.54,42.65 L59.59,43.64 L59.64,44.64 L59.70,45.64 L59.75,46.64 L59.80,47.63 L59.86,48.63 L59.91,49.63 L59.97,50.63 L60.02,51.62 L60.08,52.62 L60.13,53.62 L60.19,54.62 L60.24,55.61 L60.30,56.61 L60.36,57.61 L60.41,58.61 L60.47,59.60 L60.53,60.60 L60.59,61.60 L60.65,62.60 L60.71,63.59 L60.76,64.59 L60.82,65.59 L60.88,66.59 L60.94,67.58 L61.00,68.58 L61.06,69.58 L61.13,70.58 L61.19,71.57 L61.25,72.57 L61.31,73.57 L61.37,74.57 L61.44,75.56 L61.50,76.56 L61.56,77.56 L61.63,78.56 L61.69,79.55 L61.75,80.55 L61.82,81.55 L61.88,82.55 L61.95,83.54 L62.02,84.54 L62.08,85.54 L62.15,86.54 L62.22,87.53 L62.28,88.53 L62.35,89.53 L62.42,90.53 L62.49,91.52 L62.56,92.52 L62.63,93.52 L62.70,94.52 L62.77,95.51 L62.84,96.51 L62.91,97.51 L62.98,98.51 L63.06,99.50 L63.13,100.50 L63.20,101.50 L63.27,102.50 L63.35,103.49 L63.42,104.49 L63.50,105.49 L63.57,106.49 L63.65,107.48 L63.73,108.48 L63.80,109.48 L63.88,110.48 L63.96,111.47 L64.04,112.47 L64.12,113.47 L64.20,114.47 L64.28,115.46 L64.36,116.46 L64.44,117.46 L64.52,118.46 L64.60,119.45 L64.69,120.45 L64.77,121.45 L64.85,122.45 L64.94,123.44 L65.02,124.44 L65.11,125.44 L65.19,126.44 L65.28,127.43 L65.37,128.43 L65.46,129.43 L65.55,130.43 L65.63,131.42 L65.72,132.42 L65.82,133.42 L65.91,134.42 L66.00,135.41 L66.09,136.41 L66.18,137.41 L66.28,138.41 L66.37,139.40 L66.47,140.40 L66.56,141.40 L66.66,142.40 L66.76,143.39 L66.86,144.39 L66.96,145.39 L67.06,146.39 L67.16,147.38 L67.26,148.38 L67.36,149.38 L67.47,150.38 L67.58,151.37 L67.69,152.37 L67.80,153.37 L67.91,154.37 L68.02,155.36 L68.14,156.36 L68.25,157.36 L68.37,158.36 L68.49,159.35 L68.60,160.35 L68.72,161.35 L68.84,162.35 L68.96,163.34 L69.08,164.34 L69.21,165.34 L69.33,166.34 L69.46,167.33 L69.58,168.33 L69.71,169.33 L69.84,170.33 L69.96,171.32 L70.09,172.32 L70.22,173.32 L70.36,174.32 L70.49,175.31 L70.62,176.31 L70.76,177.31 L70.90,178.31 L71.03,179.30 L71.18,180.30 L71.32,181.30 L71.46,182.30 L71.61,183.29 L71.76,184.29 L71.91,185.29 L72.05,186.29 L72.21,187.28 L72.36,188.28 L72.51,189.28 L72.67,190.28 L72.82,191.27 L72.98,192.27 L73.14,193.27 L73.30,194.27 L73.47,195.26 L73.63,196.26 L73.80,197.26 L73.96,198.26 L74.13,199.25 L74.30,200.25 L74.48,201.25 L74.65,202.25 L74.83,203.24 L75.01,204.24 L75.19,205.24 L75.37,206.24 L75.55,207.23 L75.74,208.23 L75.92,209.23 L76.12,210.23 L76.32,211.22 L76.52,212.22 L76.72,213.22 L76.93,214.22 L77.14,215.21 L77.35,216.21 L77.56,217.21 L77.77,218.21 L77.99,219.20 L78.21,220.20 L78.43,221.20 L78.66,222.20 L78.89,223.19 L79.12,224.19 L79.35,225.19 L79.59,226.19 L79.83,227.18 L80.07,228.18 L80.32,229.18 L80.57,230.18 L80.82,231.17 L81.07,232.17 L81.33,233.17 L81.59,234.17 L81.86,235.16 L82.13,236.16 L82.40,237.16 L82.68,238.16 L82.96,239.15 L83.26,240.15 L83.56,241.15 L83.87,242.15 L84.18,243.14 L84.50,244.14 L84.82,245.14 L85.15,246.14 L85.48,247.13 L85.81,248.13 L86.16,249.13 L86.50,250.13 L86.86,251.12 L87.22,252.12 L87.58,253.12 L87.95,254.12 L88.33,255.11 L88.71,256.11 L89.10,257.11 L89.50,258.11 L89.91,259.10 L90.32,260.10 L90.74,261.10 L91.17,262.10 L91.61,263.09 L92.05,264.09 L92.51,265.09 L92.97,266.09 L93.45,267.08 L93.93,268.08 L94.43,269.08 L94.93,270.08 L95.45,271.07 L95.97,272.07 L96.51,273.07 L97.06,274.07 L97.63,275.06 L98.21,276.06 L98.80,277.06 L99.41,278.06 L100.04,279.05 L100.68,280.05 L101.34,281.05 L102.02,282.05 L102.71,283.04 L103.43,284.04 L104.16,285.04 L104.92,286.04 L105.69,287.03 L106.50,288.03 L107.32,289.03 L108.17,290.03 L109.05,291.02 L109.96,292.02 L110.89,293.02 L111.86,294.02 L112.86,295.01 L113.90,296.01 L114.98,297.01 L116.10,298.01 L117.26,299.00 L118.48,300.00 L118.51,300.03 L119.11,300.50 L119.70,300.96 L120.30,301.42 L120.90,301.87 L121.50,302.31 L122.10,302.74 L122.71,303.17 L123.32,303.59 L123.93,304.01 L124.54,304.42 L125.16,304.82 L125.78,305.21 L126.40,305.60 L127.03,305.98 L127.65,306.36 L128.28,306.73 L128.91,307.10 L129.54,307.46 L130.18,307.81 L130.82,308.16 L131.46,308.50 L132.10,308.84 L132.75,309.17 L133.40,309.49 L134.05,309.81 L134.70,310.13 L135.36,310.44 L136.01,310.75 L136.67,311.05 L137.34,311.34 L138.00,311.64 L138.67,311.92 L139.34,312.21 L140.01,312.48 L140.69,312.76 L141.36,313.03 L142.04,313.29 L142.73,313.55 L143.41,313.81 L144.10,314.06 L144.79,314.31 L145.48,314.56 L146.17,314.80 L146.87,315.03 L147.57,315.27 L148.27,315.50 L148.98,315.72 L149.68,315.95 L150.39,316.16 L151.10,316.38 L151.82,316.59 L152.53,316.80 L153.25,317.01 L153.97,317.21 L154.70,317.41 L155.42,317.60 L156.15,317.80 L156.88,317.99 L157.61,318.17 L158.35,318.36 L159.09,318.54 L159.83,318.72 L160.57,318.89 L161.32,319.07 L162.07,319.24 L162.82,319.41 L163.57,319.57 L164.32,319.73 L165.08,319.89 L165.84,320.05 L166.60,320.21 L167.37,320.36 L168.14,320.51 L168.91,320.66 L169.68,320.80 L170.45,320.95 L171.23,321.09 L172.01,321.23 L172.79,321.36 L173.57,321.50 L174.36,321.63 L175.15,321.76 L175.94,321.89 L176.74,322.02 L177.53,322.15 L178.33,322.27 L179.13,322.39 L179.94,322.51 L180.74,322.63 L181.55,322.75 L182.36,322.86 L183.18,322.97 L183.99,323.08 L184.81,323.19 L185.63,323.30 L186.46,323.41 L187.28,323.51 L188.11,323.62 L188.94,323.72 L189.77,323.82 L190.61,323.92 L191.45,324.02 L192.29,324.11 L193.13,324.21 L193.97,324.30 L194.82,324.40 L195.67,324.49 L196.52,324.58 L197.38,324.67 L198.24,324.75 L199.10,324.84 L199.96,324.93 L200.82,325.01 L201.69,325.09 L202.56,325.17 L203.43,325.26 L204.31,325.34 L205.18,325.41 L206.06,325.49 L206.94,325.57 L207.83,325.64 L208.71,325.72 L209.60,325.79 L210.49,325.86 L211.39,325.94 L212.28,326.01 L213.18,326.08 L214.08,326.15 L214.99,326.21 L215.89,326.28 L216.80,326.35 L217.71,326.41 L218.63,326.48 L219.54,326.54 L220.46,326.61 L221.38,326.67 L222.30,326.73 L223.23,326.79 L224.16,326.85 L225.09,326.91 L226.02,326.97 L226.95,327.03 L227.89,327.09 L228.83,327.14 L229.77,327.20 L230.72,327.25 L231.67,327.31 L232.62,327.36 L233.57,327.41 L234.52,327.47 L235.48,327.52 L236.44,327.57 L237.40,327.62 L238.36,327.67 L239.33,327.72 L240.30,327.77 L241.27,327.82 L242.25,327.86 L243.22,327.91 L244.20,327.96 L245.18,328.00 L246.17,328.05 L247.15,328.09 L248.14,328.13 L249.13,328.18 L250.13,328.22 L251.12,328.26 L252.12,328.30 L253.12,328.34 L254.12,328.38 L255.13,328.42 L256.14,328.46 L257.15,328.50 L258.16,328.54 L259.18,328.57 L260.19,328.61 L261.22,328.65 L262.24,328.68 L263.26,328.72 L264.29,328.75 L265.32,328.78 L266.35,328.82 L267.39,328.85 L268.43,328.88 L269.46,328.91 L270.51,328.94 L271.55,328.97 L272.60,329.00 L273.65,329.03 L274.70,329.05 L275.75,329.08 L276.81,329.10 L277.87,329.13 L278.93,329.15 L280.00,329.18 L281.06,329.20 L282.13,329.22 L283.20,329.24 L284.28,329.27 L285.35,329.29 L286.43,329.30 L287.51,329.32 L288.60,329.34 L289.68,329.36 L290.77,329.37 L291.86,329.39 L292.95,329.40 L294.05,329.41 L295.15,329.43 L296.25,329.44 L297.35,329.45 L298.46,329.46 L299.56,329.47 L300.67,329.47 L301.79,329.48 L302.90,329.49 L304.02,329.49 L305.14,329.49 L306.26,329.50 L307.39,329.50 L308.51,329.50 L309.64,329.50 L310.78,329.50 L311.91,329.49 L313.05,329.49 L314.19,329.48 L315.33,329.48 L316.47,329.47 L317.62,329.46 L318.77,329.45 L319.92,329.44 L321.07,329.42 L322.23,329.41 L323.39,329.39 L324.55,329.38 L325.71,329.36 L326.88,329.34 L328.05,329.32 L329.22,329.30 L330.39,329.27 L331.57,329.25 L332.75,329.22 L333.93,329.19 L335.11,329.15 L336.30,329.12 L337.49,329.08 L338.68,329.03 L339.87,328.98 L341.06,328.93 L342.26,328.87 L343.46,328.81 L344.67,328.75 L345.87,328.68 L347.08,328.61 L348.29,328.55 L349.50,328.48 L349.50,328.48 L349.85,328.46 L350.20,328.44 L350.55,328.42 L350.89,328.40 L351.24,328.38 L351.58,328.35 L351.92,328.33 L352.26,328.31 L352.60,328.29 L352.94,328.26 L353.28,328.24 L353.62,328.22 L353.95,328.19 L354.28,328.17 L354.62,328.14 L354.95,328.12 L355.28,328.09 L355.60,328.07 L355.93,328.04 L356.26,328.02 L356.58,327.99 L356.90,327.96 L357.22,327.94 L357.54,327.91 L357.86,327.88 L358.18,327.85 L358.50,327.83 L358.81,327.80 L359.13,327.77 L359.44,327.74 L359.75,327.71 L360.06,327.68 L360.37,327.65 L360.68,327.62 L360.98,327.59 L361.29,327.56 L361.59,327.53 L361.90,327.50 L362.20,327.47 L362.50,327.44 L362.80,327.41 L363.09,327.38 L363.39,327.34 L363.69,327.31 L363.98,327.28 L364.27,327.25 L364.56,327.22 L364.85,327.18 L365.14,327.15 L365.43,327.12 L365.72,327.08 L366.00,327.05 L366.29,327.02 L366.57,326.98 L366.85,326.95 L367.13,326.92 L367.41,326.88 L367.69,326.85 L367.96,326.82 L368.24,326.78 L368.51,326.75 L368.79,326.71 L369.06,326.68 L369.33,326.64 L369.60,326.61 L369.87,326.57 L370.13,326.54 L370.40,326.50 L370.66,326.47 L370.93,326.43 L371.19,326.40 L371.45,326.36 L371.71,326.33 L371.97,326.29 L372.22,326.26 L372.48,326.22 L372.74,326.19 L372.99,326.15 L373.24,326.11 L373.49,326.08 L373.74,326.04 L373.99,326.01 L374.24,325.97 L374.49,325.94 L374.73,325.90 L374.98,325.86 L375.22,325.83 L375.46,325.79 L375.70,325.75 L375.94,325.71 L376.18,325.67 L376.42,325.62 L376.66,325.58 L376.89,325.53 L377.12,325.49 L377.36,325.44 L377.59,325.39 L377.82,325.34 L378.05,325.29 L378.28,325.24 L378.50,325.19 L378.73,325.14 L378.95,325.09 L379.18,325.04 L379.40,324.98 L379.62,324.93 L379.84,324.88 L380.06,324.82 L380.28,324.77 L380.50,324.71 L380.71,324.66 L380.93,324.60 L381.14,324.54 L381.35,324.48 L381.56,324.42 L381.77,324.36 L381.98,324.29 L382.19,324.23 L382.40,324.17 L382.60,324.10 L382.81,324.04 L383.01,323.97 L383.21,323.90 L383.42,323.83 L383.62,323.77 L383.81,323.70 L384.01,323.63 L384.21,323.56 L384.41,323.48 L384.60,323.41 L384.79,323.34 L384.99,323.27 L385.18,323.19 L385.37,323.11 L385.56,323.03 L385.75,322.95 L385.93,322.86 L386.12,322.78 L386.30,322.69 L386.49,322.61 L386.67,322.52 L386.85,322.43 L387.03,322.35 L387.21,322.26 L387.39,322.17 L387.57,322.08 L387.75,321.99 L387.92,321.91 L388.10,321.82 L388.27,321.73 L388.44,321.65 L388.62,321.57 L388.79,321.48 L388.95,321.40 L389.12,321.32 L389.29,321.24 L389.46,321.17 L389.62,321.09 L389.79,321.02 L389.95,320.94 L390.11,320.87 L390.27,320.80 L390.43,320.73 L390.59,320.67 L390.75,320.60 L390.91,320.54 L391.06,320.47 L391.22,320.41 L391.37,320.35 L391.53,320.29 L391.68,320.22 L391.83,320.16 L391.98,320.10 L392.13,320.04 L392.28,319.98 L392.42,319.92 L392.57,319.86 L392.71,319.80 L392.86,319.74 L393.00,319.68 L393.14,319.62 L393.28,319.56 L393.42,319.49 L393.56,319.43 L393.70,319.37 L393.84,319.31 L393.98,319.24 L394.11,319.18 L394.25,319.11 L394.38,319.05 L394.51,318.98 L394.64,318.92 L394.77,318.85 L394.90,318.78 L395.03,318.71 L395.16,318.64 L395.29,318.57 L395.41,318.51 L395.54,318.44 L395.66,318.37 L395.79,318.30 L395.91,318.23 L396.03,318.16 L396.15,318.10 L396.27,318.03 L396.39,317.96 L396.50,317.89 L396.62,317.82 L396.74,317.75 L396.85,317.68 L396.97,317.61 L397.08,317.54 L397.19,317.47 L397.30,317.39 L397.41,317.32 L397.52,317.25 L397.63,317.17 L397.74,317.10 L397.85,317.02 L397.95,316.95 L398.06,316.87 L398.16,316.79 L398.26,316.72 L398.37,316.64 L398.47,316.56 L398.57,316.48 L398.67,316.40 L398.77,316.31 L398.86,316.23 L398.96,316.15 L399.06,316.06 L399.15,315.98 L399.25,315.89 L399.34,315.81 L399.43,315.72 L399.53,315.63 L399.62,315.54 L399.71,315.45 L399.80,315.36 L399.89,315.27 L399.97,315.18 L400.06,315.08 L400.15,314.99 L400.23,314.89 L400.32,314.79 L400.40,314.69 L400.48,314.58 L400.57,314.48 L400.65,314.37 L400.73,314.26 L400.81,314.15 L400.89,314.04 L400.96,313.93 L401.04,313.82 L401.12,313.70 L401.19,313.58 L401.27,313.47 L401.34,313.35 L401.42,313.22 L401.49,313.10 L401.56,312.98 L401.63,312.86 L401.70,312.73 L401.77,312.60 L401.84,312.48 L401.91,312.35 L401.97,312.22 L402.04,312.09 L402.11,311.96 L402.17,311.83 L402.24,311.69 L402.30,311.56 L402.36,311.43 L402.42,311.29 L402.48,311.16 L402.55,311.03 L402.60,310.89 L402.66,310.75 L402.72,310.62 L402.78,310.48 L402.84,310.35 L402.89,310.21 L402.95,310.07 L403.00,309.94 L403.06,309.80 L403.11,309.66 L403.16,309.53 L403.21,309.39 L403.27,309.25 L403.32,309.12 L403.37,308.98 L403.41,308.85 L403.46,308.71 L403.51,308.57 L403.56,308.43 L403.60,308.29 L403.65,308.14 L403.69,307.99 L403.74,307.83 L403.78,307.68 L403.83,307.52 L403.87,307.36 L403.91,307.20 L403.95,307.04 L403.99,306.88 L404.03,306.72 L404.07,306.56 L404.11,306.39 L404.15,306.23 L404.18,306.07 L404.22,305.91 L404.26,305.75 L404.29,305.59 L404.33,305.44 L404.36,305.28 L404.39,305.12 L404.43,304.97 L404.46,304.82 L404.49,304.67 L404.52,304.52 L404.55,304.37 L404.58,304.23 L404.61,304.09 L404.64,303.95 L404.67,303.81 L404.70,303.68 L404.73,303.54 L404.75,303.41 L404.78,303.28 L404.80,303.16 L404.83,303.04 L404.85,302.92 L404.88,302.80 L404.90,302.68 L404.92,302.57 L404.95,302.46 L404.97,302.35 L404.99,302.25 L405.01,302.14 L405.03,302.04 L405.05,301.94 L405.07,301.84 L405.09,301.74 L405.10,301.65 L405.12,301.55 L405.14,301.46 L405.16,301.37 L405.17,301.28 L405.19,301.19 L405.20,301.11 L405.22,301.03 L405.23,300.95 L405.25,300.87 L405.26,300.79 L405.27,300.72 L405.29,300.65 L405.30,300.58 L405.31,300.51 L405.32,300.45 L405.33,300.39 L405.34,300.33 L405.35,300.27 L405.36,300.21 L405.37,300.16 L405.38,300.11 L405.39,300.06 L405.40,300.01" stroke="#006400"/>
<path d="M55.49,3.43 L55.70,9.67 L55.91,15.81 L56.12,21.84 L56.34,27.77 L56.56,33.61 L56.78,39.34 L57.00,44.98 L57.23,50.52 L57.45,55.96 L57.68,61.31 L57.91,66.57 L58.15,71.73 L58.39,76.79 L58.63,81.77 L58.87,86.65 L59.11,91.45 L59.36,96.16 L59.61,100.78 L59.86,105.31 L60.11,109.76 L60.37,114.13 L60.63,118.41 L60.89,122.62 L61.16,126.74 L61.42,130.79 L61.69,134.75 L61.96,138.65 L62.24,142.46 L62.51,146.21 L62.79,149.88 L63.07,153.48 L63.35,157.01 L63.64,160.47 L63.93,163.86 L64.22,167.19 L64.51,170.45 L64.81,173.64 L65.11,176.78 L65.41,179.85 L65.71,182.86 L66.01,185.81 L66.32,188.70 L66.63,191.54 L66.94,194.32 L67.26,197.04 L67.58,199.71 L67.90,202.33 L68.22,204.89 L68.54,207.41 L68.87,209.87 L69.20,212.28 L69.53,214.65 L69.87,216.96 L70.20,219.23 L70.54,221.46 L70.88,223.64 L71.23,225.78 L71.57,227.87 L71.92,229.92 L72.27,231.93 L72.63,233.90 L72.99,235.83 L73.34,237.73 L73.71,239.58 L74.07,241.40 L74.43,243.18 L74.80,244.92 L75.17,246.63 L75.55,248.30 L75.92,249.95 L76.30,251.55 L76.68,253.13 L77.06,254.67 L77.45,256.19 L77.84,257.67 L78.23,259.12 L78.62,260.55 L79.02,261.94 L79.41,263.31 L79.81,264.65 L80.22,265.96 L80.62,267.25 L81.03,268.51 L81.44,269.74 L81.85,270.95 L82.27,272.14 L82.68,273.30 L83.10,274.44 L83.52,275.56 L83.95,276.65 L84.38,277.73 L84.80,278.78 L85.24,279.81 L85.67,280.82 L86.11,281.81 L86.55,282.78 L86.99,283.73 L87.43,284.66 L87.88,285.57 L88.33,286.46 L88.78,287.34 L89.23,288.20 L89.69,289.04 L90.15,289.87 L90.61,290.68 L91.07,291.47 L91.54,292.25 L92.00,293.01 L92.47,293.75 L92.95,294.49 L93.42,295.20 L93.90,295.91 L94.38,296.59 L94.86,297.27 L95.35,297.93 L95.84,298.58 L96.33,299.21 L96.82,299.84 L97.31,300.45 L97.81,301.05 L98.31,301.63 L98.81,302.21 L99.32,302.77 L99.83,303.32 L100.33,303.87 L100.85,304.40 L101.36,304.92 L101.88,305.43 L102.40,305.93 L102.92,306.42 L103.44,306.90 L103.97,307.37 L104.50,307.83 L105.03,308.28 L105.56,308.72 L106.10,309.16 L106.64,309.58 L107.18,310.00 L107.72,310.41 L108.27,310.81 L108.82,311.20 L109.37,311.59 L109.92,311.96 L110.48,312.33 L111.04,312.70 L111.60,313.05 L112.16,313.40 L112.72,313.74 L113.29,314.08 L113.86,314.40 L114.44,314.72 L115.01,315.04 L115.59,315.35 L116.17,315.65 L116.75,315.95 L117.34,316.24 L117.92,316.52 L118.51,316.80 L119.11,317.08 L119.70,317.34 L120.30,317.61 L120.90,317.86 L121.50,318.12 L122.10,318.36 L122.71,318.61 L123.32,318.84 L123.93,319.08 L124.54,319.30 L125.16,319.53 L125.78,319.75 L126.40,319.96 L127.03,320.17 L127.65,320.38 L128.28,320.58 L128.91,320.78 L129.54,320.97 L130.18,321.16 L130.82,321.35 L131.46,321.53 L132.10,321.71 L132.75,321.89 L133.40,322.06 L134.05,322.23 L134.70,322.40 L135.36,322.56 L136.01,322.72 L136.67,322.87 L137.34,323.03 L138.00,323.18 L138.67,323.32 L139.34,323.47 L140.01,323.61 L140.69,323.75 L141.36,323.88 L142.04,324.01 L142.73,324.14 L143.41,324.27 L144.10,324.40 L144.79,324.52 L145.48,324.64 L146.17,324.76 L146.87,324.87 L147.57,324.99 L148.27,325.10 L148.98,325.21 L149.68,325.31 L150.39,325.42 L151.10,325.52 L151.82,325.62 L152.53,325.72 L153.25,325.82 L153.97,325.92 L154.70,326.01 L155.42,326.10 L156.15,326.19 L156.88,326.28 L157.61,326.37 L158.35,326.45 L159.09,326.53 L159.83,326.62 L160.57,326.70 L161.32,326.78 L162.07,326.85 L162.82,326.93 L163.57,327.01 L164.32,327.08 L165.08,327.15 L165.84,327.22 L166.60,327.29 L167.37,327.36 L168.14,327.43 L168.91,327.49 L169.68,327.56 L170.45,327.62 L171.23,327.69 L172.01,327.75 L172.79,327.81 L173.57,327.87 L174.36,327.93 L175.15,327.99 L175.94,328.04 L176.74,328.10 L177.53,328.16 L178.33,328.21 L179.13,328.27 L179.94,328.32 L180.74,328.37 L181.55,328.42 L182.36,328.47 L183.18,328.52 L183.99,328.57 L184.81,328.62 L185.63,328.67 L186.46,328.72 L187.28,328.76 L188.11,328.81 L188.94,328.86 L189.77,328.90 L190.61,328.95 L191.45,328.99 L192.29,329.03 L193.13,329.08 L193.97,329.12 L194.82,329.16 L195.67,329.20 L196.52,329.25 L197.38,329.29 L198.24,329.33 L199.10,329.37 L199.96,329.41 L200.82,329.45 L201.69,329.49 L202.56,329.52 L203.43,329.56 L204.31,329.60 L205.18,329.64 L206.06,329.68 L206.94,329.71 L207.83,329.75 L208.71,329.79 L209.60,329.82 L210.49,329.86 L211.39,329.90 L212.28,329.93 L213.18,329.97 L214.08,330.00 L214.99,330.04 L215.89,330.07 L216.80,330.11 L217.71,330.14 L218.63,330.18 L219.54,330.21 L220.46,330.24 L221.38,330.28 L222.30,330.31 L223.23,330.35 L224.16,330.38 L225.09,330.41 L226.02,330.45 L226.95,330.48 L227.89,330.51 L228.83,330.55 L229.77,330.58 L230.72,330.61 L231.67,330.64 L232.62,330.68 L233.57,330.71 L234.52,330.74 L235.48,330.77 L236.44,330.81 L237.40,330.84 L238.36,330.87 L239.33,330.90 L240.30,330.93 L241.27,330.97 L242.25,331.00 L243.22,331.03 L244.20,331.06 L245.18,331.09 L246.17,331.12 L247.15,331.15 L248.14,331.19 L249.13,331.22 L250.13,331.25 L251.12,331.28 L252.12,331.31 L253.12,331.34 L254.12,331.37 L255.13,331.40 L256.14,331.43 L257.15,331.46 L258.16,331.49 L259.18,331.52 L260.19,331.55 L261.22,331.58 L262.24,331.61 L263.26,331.64 L264.29,331.67 L265.32,331.70 L266.35,331.73 L267.39,331.76 L268.43,331.79 L269.46,331.81 L270.51,331.84 L271.55,331.87 L272.60,331.90 L273.65,331.93 L274.70,331.96 L275.75,331.98 L276.81,332.01 L277.87,332.04 L278.93,332.06 L280.00,332.09 L281.06,332.12 L282.13,332.14 L283.20,332.17 L284.28,332.19 L285.35,332.22 L286.43,332.24 L287.51,332.27 L288.60,332.29 L289.68,332.32 L290.77,332.34 L291.86,332.36 L292.95,332.39 L294.05,332.41 L295.15,332.43 L296.25,332.45 L297.35,332.48 L298.46,332.50 L299.56,332.52 L300.67,332.54 L301.79,332.56 L302.90,332.58 L304.02,332.59 L305.14,332.61 L306.26,332.63 L307.39,332.65 L308.51,332.66 L309.64,332.68 L310.78,332.69 L311.91,332.71 L313.05,332.72 L314.19,332.74 L315.33,332.75 L316.47,332.76 L317.62,332.77 L318.77,332.78 L319.92,332.80 L321.07,332.80 L322.23,332.81 L323.39,332.82 L324.55,332.83 L325.71,332.83 L326.88,332.84 L328.05,332.85 L329.22,332.85 L330.39,332.85 L331.57,332.85 L332.75,332.86 L333.93,332.86 L335.11,332.86 L336.30,332.86 L337.49,332.86 L338.68,332.86 L339.87,332.86 L341.06,332.86 L342.26,332.86 L343.46,332.86 L344.67,332.86 L345.87,332.87 L347.08,332.87 L348.29,332.87 L349.50,332.87 L349.50,332.87 L349.85,332.87 L350.20,332.87 L350.55,332.87 L350.89,332.87 L351.24,332.87 L351.58,332.87 L351.92,332.86 L352.26,332.86 L352.60,332.86 L352.94,332.86 L353.28,332.85 L353.62,332.85 L353.95,332.84 L354.28,332.84 L354.62,332.83 L354.95,332.83 L355.28,332.82 L355.60,332.82 L355.93,332.81 L356.26,332.81 L356.58,332.80 L356.90,332.79 L357.22,332.79 L357.54,332.78 L357.86,332.77 L358.18,332.77 L358.50,332.76 L358.81,332.75 L359.13,332.74 L359.44,332.74 L359.75,332.73 L360.06,332.72 L360.37,332.71 L360.68,332.70 L360.98,332.69 L361.29,332.69 L361.59,332.68 L361.90,332.67 L362.20,332.66 L362.50,332.65 L362.80,332.64 L363.09,332.63 L363.39,332.62 L363.69,332.61 L363.98,332.60 L364.27,332.59 L364.56,332.58 L364.85,332.57 L365.14,332.56 L365.43,332.55 L365.72,332.54 L366.00,332.53 L366.29,332.52 L366.57,332.51 L366.85,332.50 L367.13,332.49 L367.41,332.47 L367.69,332.46 L367.96,332.45 L368.24,332.44 L368.51,332.43 L368.79,332.42 L369.06,332.41 L369.33,332.40 L369.60,332.39 L369.87,332.38 L370.13,332.36 L370.40,332.35 L370.66,332.34 L370.93,332.33 L371.19,332.32 L371.45,332.31 L371.71,332.30 L371.97,332.29 L372.22,332.27 L372.48,332.26 L372.74,332.25 L372.99,332.24 L373.24,332.23 L373.49,332.22 L373.74,332.21 L373.99,332.20 L374.24,332.18 L374.49,332.17 L374.73,332.16 L374.98,332.15 L375.22,332.14 L375.46,332.13 L375.70,332.12 L375.94,332.10 L376.18,332.09 L376.42,332.08 L376.66,332.06 L376.89,332.05 L377.12,332.03 L377.36,332.02 L377.59,332.00 L377.82,331.99 L378.05,331.97 L378.28,331.95 L378.50,331.94 L378.73,331.92 L378.95,331.90 L379.18,331.89 L379.40,331.87 L379.62,331.85 L379.84,331.83 L380.06,331.81 L380.28,331.79 L380.50,331.77 L380.71,331.76 L380.93,331.74 L381.14,331.72 L381.35,331.70 L381.56,331.68 L381.77,331.66 L381.98,331.64 L382.19,331.62 L382.40,331.60 L382.60,331.57 L382.81,331.55 L383.01,331.53 L383.21,331.51 L383.42,331.49 L383.62,331.47 L383.81,331.45 L384.01,331.43 L384.21,331.41 L384.41,331.38 L384.60,331.36 L384.79,331.34 L384.99,331.32 L385.18,331.30 L385.37,331.27 L385.56,331.25 L385.75,331.23 L385.93,331.21 L386.12,331.18 L386.30,331.16 L386.49,331.13 L386.67,331.11 L386.85,331.09 L387.03,331.06 L387.21,331.04 L387.39,331.01 L387.57,330.99 L387.75,330.96 L387.92,330.93 L388.10,330.91 L388.27,330.88 L388.44,330.86 L388.62,330.83 L388.79,330.80 L388.95,330.77 L389.12,330.75 L389.29,330.72 L389.46,330.69 L389.62,330.66 L389.79,330.64 L389.95,330.61 L390.11,330.58 L390.27,330.55 L390.43,330.52 L390.59,330.49 L390.75,330.46 L390.91,330.43 L391.06,330.40 L391.22,330.37 L391.37,330.34 L391.53,330.31 L391.68,330.28 L391.83,330.25 L391.98,330.22 L392.13,330.19 L392.28,330.16 L392.42,330.13 L392.57,330.10 L392.71,330.07 L392.86,330.03 L393.00,330.00 L393.14,329.97 L393.28,329.94 L393.42,329.91 L393.56,329.88 L393.70,329.84 L393.84,329.81 L393.98,329.78 L394.11,329.75 L394.25,329.71 L394.38,329.68 L394.51,329.65 L394.64,329.61 L394.77,329.58 L394.90,329.55 L395.03,329.52 L395.16,329.48 L395.29,329.45 L395.41,329.41 L395.54,329.38 L395.66,329.34 L395.79,329.31 L395.91,329.27 L396.03,329.23 L396.15,329.19 L396.27,329.16 L396.39,329.12 L396.50,329.08 L396.62,329.04 L396.74,329.00 L396.85,328.96 L396.97,328.92 L397.08,328.87 L397.19,328.83 L397.30,328.79 L397.41,328.74 L397.52,328.70 L397.63,328.65 L397.74,328.61 L397.85,328.56 L397.95,328.52 L398.06,328.47 L398.16,328.42 L398.26,328.37 L398.37,328.32 L398.47,328.27 L398.57,328.22 L398.67,328.17 L398.77,328.12 L398.86,328.06 L398.96,328.01 L399.06,327.96 L399.15,327.90 L399.25,327.85 L399.34,327.79 L399.43,327.74 L399.53,327.68 L399.62,327.62 L399.71,327.56 L399.80,327.50 L399.89,327.44 L399.97,327.38 L400.06,327.32 L400.15,327.26 L400.23,327.19 L400.32,327.12 L400.40,327.05 L400.48,326.98 L400.57,326.90 L400.65,326.82 L400.73,326.74 L400.81,326.66 L400.89,326.57 L400.96,326.49 L401.04,326.40 L401.12,326.31 L401.19,326.22 L401.27,326.13 L401.34,326.03 L401.42,325.94 L401.49,325.84 L401.56,325.74 L401.63,325.65 L401.70,325.55 L401.77,325.45 L401.84,325.34 L401.91,325.24 L401.97,325.14 L402.04,325.03 L402.11,324.93 L402.17,324.82 L402.24,324.72 L402.30,324.61 L402.36,324.50 L402.42,324.40 L402.48,324.29 L402.55,324.18 L402.60,324.07 L402.66,323.97 L402.72,323.86 L402.78,323.75 L402.84,323.64 L402.89,323.53 L402.95,323.42 L403.00,323.31 L403.06,323.21 L403.11,323.10 L403.16,322.99 L403.21,322.88 L403.27,322.78 L403.32,322.67 L403.37,322.56 L403.41,322.46 L403.46,322.35 L403.51,322.25 L403.56,322.14 L403.60,322.03 L403.65,321.91 L403.69,321.80 L403.74,321.68 L403.78,321.57 L403.83,321.45 L403.87,321.33 L403.91,321.21 L403.95,321.09 L403.99,320.96 L404.03,320.84 L404.07,320.72 L404.11,320.60 L404.15,320.48 L404.18,320.35 L404.22,320.23 L404.26,320.11 L404.29,319.99 L404.33,319.87 L404.36,319.75 L404.39,319.63 L404.43,319.51 L404.46,319.39 L404.49,319.28 L404.52,319.16 L404.55,319.05 L404.58,318.93 L404.61,318.82 L404.64,318.71 L404.67,318.60 L404.70,318.49 L404.73,318.39 L404.75,318.28 L404.78,318.18 L404.80,318.08 L404.83,317.98 L404.85,317.88 L404.88,317.78 L404.90,317.69 L404.92,317.59 L404.95,317.50 L404.97,317.41 L404.99,317.32 L405.01,317.23 L405.03,317.15 L405.05,317.06 L405.07,316.97 L405.09,316.89 L405.10,316.80 L405.12,316.72 L405.14,316.64 L405.16,316.56 L405.17,316.48 L405.19,316.40 L405.20,316.32 L405.22,316.25 L405.23,316.17 L405.25,316.10 L405.26,316.03 L405.27,315.97 L405.29,315.90 L405.30,315.84 L405.31,315.77 L405.32,315.71 L405.33,315.66 L405.34,315.60 L405.35,315.55 L405.36,315.50 L405.37,315.45 L405.38,315.40 L405.39,315.35 L405.40,315.31 L405.41,315.27 L405.41,315.23 L405.42,315.19 L405.43,315.15 L405.43,315.12 L405.44,315.08 L405.44,315.05 L405.45,315.02 L405.46,315.00 L405.46,314.97 L405.46,314.95 L405.47,314.93 L405.47,314.90 L405.48,314.89 L405.48,314.87 L405.48,314.85 L405.48,314.84 L405.49,314.82 L405.49,314.81 L405.49,314.80 L405.49,314.79 L405.49,314.78 L405.50,314.78 L405.50,314.77 L405.50,314.77 L405.50,314.76 L405.50,314.76 L405.50,314.76 L405.50,314.75 L405.50,314.75 L405.50,314.75 L405.50,314.75" stroke="#8b008b"/>
<path d="M60.33,3.74 L60.38,4.74 L60.43,5.74 L60.48,6.74 L60.53,7.73 L60.58,8.73 L60.64,9.73 L60.69,10.73 L60.74,11.72 L60.79,12.72 L60.85,13.72 L60.90,14.72 L60.95,15.71 L61.01,16.71 L61.06,17.71 L61.12,18.71 L61.17,19.70 L61.23,20.70 L61.28,21.70 L61.34,22.70 L61.39,23.69 L61.45,24.69 L61.50,25.69 L61.56,26.69 L61.62,27.68 L61.67,28.68 L61.73,29.68 L61.79,30.68 L61.85,31.67 L61.91,32.67 L61.96,33.67 L62.02,34.67 L62.08,35.66 L62.14,36.66 L62.20,37.66 L62.26,38.66 L62.32,39.65 L62.38,40.65 L62.44,41.65 L62.50,42.65 L62.57,43.64 L62.63,44.64 L62.69,45.64 L62.75,46.64 L62.82,47.63 L62.88,48.63 L62.94,49.63 L63.01,50.63 L63.07,51.62 L63.13,52.62 L63.20,53.62 L63.26,54.62 L63.33,55.61 L63.40,56.61 L63.46,57.61 L63.53,58.61 L63.59,59.60 L63.66,60.60 L63.73,61.60 L63.80,62.60 L63.87,63.59 L63.93,64.59 L64.00,65.59 L64.07,66.59 L64.14,67.58 L64.21,68.58 L64.28,69.58 L64.36,70.58 L64.43,71.57 L64.50,72.57 L64.57,73.57 L64.64,74.57 L64.72,75.56 L64.79,76.56 L64.86,77.56 L64.94,78.56 L65.01,79.55 L65.09,80.55 L65.16,81.55 L65.24,82.55 L65.32,83.54 L65.39,84.54 L65.47,85.54 L65.55,86.54 L65.63,87.53 L65.71,88.53 L65.79,89.53 L65.87,90.53 L65.95,91.52 L66.03,92.52 L66.11,93.52 L66.19,94.52 L66.27,95.51 L66.36,96.51 L66.44,97.51 L66.52,98.51 L66.61,99.50 L66.69,100.50 L66.78,101.50 L66.87,102.50 L66.95,103.49 L67.04,104.49 L67.13,105.49 L67.22,106.49 L67.30,107.48 L67.39,108.48 L67.48,109.48 L67.57,110.48 L67.67,111.47 L67.76,112.47 L67.85,113.47 L67.94,114.47 L68.04,115.46 L68.13,116.46 L68.23,117.46 L68.32,118.46 L68.42,119.45 L68.52,120.45 L68.61,121.45 L68.71,122.45 L68.81,123.44 L68.91,124.44 L69.01,125.44 L69.11,126.44 L69.22,127.43 L69.32,128.43 L69.42,129.43 L69.53,130.43 L69.63,131.42 L69.74,132.42 L69.85,133.42 L69.95,134.42 L70.06,135.41 L70.17,136.41 L70.28,137.41 L70.39,138.41 L70.50,139.40 L70.61,140.40 L70.73,141.40 L70.84,142.40 L70.96,143.39 L71.07,144.39 L71.19,145.39 L71.31,146.39 L71.43,147.38 L71.55,148.38 L71.67,149.38 L71.79,150.38 L71.92,151.37 L72.04,152.37 L72.17,153.37 L72.30,154.37 L72.43,155.36 L72.56,156.36 L72.69,157.36 L72.82,158.36 L72.96,159.35 L73.09,160.35 L73.23,161.35 L73.37,162.35 L73.51,163.34 L73.65,164.34 L73.79,165.34 L73.93,166.34 L74.07,167.33 L74.22,168.33 L74.36,169.33 L74.51,170.33 L74.66,171.32 L74.81,172.32 L74.96,173.32 L75.12,174.32 L75.27,175.31 L75.43,176.31 L75.58,177.31 L75.74,178.31 L75.91,179.30 L76.07,180.30 L76.24,181.30 L76.41,182.30 L76.59,183.29 L76.76,184.29 L76.94,185.29 L77.12,186.29 L77.30,187.28 L77.48,188.28 L77.66,189.28 L77.85,190.28 L78.03,191.27 L78.22,192.27 L78.41,193.27 L78.61,194.27 L78.80,195.26 L79.00,196.26 L79.20,197.26 L79.40,198.26 L79.60,199.25 L79.81,200.25 L80.02,201.25 L80.23,202.25 L80.44,203.24 L80.65,204.24 L80.87,205.24 L81.09,206.24 L81.31,207.23 L81.54,208.23 L81.77,209.23 L82.00,210.23 L82.24,211.22 L82.48,212.22 L82.73,213.22 L82.98,214.22 L83.23,215.21 L83.49,216.21 L83.75,217.21 L84.01,218.21 L84.27,219.20 L84.54,220.20 L84.82,221.20 L85.09,222.20 L85.37,223.19 L85.65,224.19 L85.94,225.19 L86.23,226.19 L86.53,227.18 L86.83,228.18 L87.13,229.18 L87.44,230.18 L87.75,231.17 L88.06,232.17 L88.39,233.17 L88.71,234.17 L89.04,235.16 L89.38,236.16 L89.72,237.16 L90.07,238.16 L90.43,239.15 L90.80,240.15 L91.18,241.15 L91.57,242.15 L91.97,243.14 L92.37,244.14 L92.77,245.14 L93.19,246.14 L93.61,247.13 L94.04,248.13 L94.48,249.13 L94.92,250.13 L95.37,251.12 L95.83,252.12 L96.30,253.12 L96.78,254.12 L97.27,255.11 L97.76,256.11 L98.27,257.11 L98.78,258.11 L99.31,259.10 L99.85,260.10 L100.39,261.10 L100.95,262.10 L101.53,263.09 L102.11,264.09 L102.71,265.09 L103.32,266.09 L103.95,267.08 L104.59,268.08 L105.24,269.08 L105.92,270.08 L106.60,271.07 L107.31,272.07 L108.03,273.07 L108.78,274.07 L109.54,275.06 L110.33,276.06 L111.14,277.06 L111.98,278.06 L112.84,279.05 L113.73,280.05 L114.64,281.05 L115.59,282.05 L116.57,283.04 L117.58,284.04 L118.63,285.04 L119.71,286.04 L120.84,287.03 L122.01,288.03 L123.22,289.03 L124.48,290.03 L125.80,291.02 L127.17,292.02 L128.61,293.02 L130.11,294.02 L131.68,295.01 L133.34,296.01 L135.08,297.01 L136.91,298.01 L138.85,299.00 L140.90,300.00 L141.36,300.22 L142.04,300.53 L142.73,300.84 L143.41,301.14 L144.10,301.44 L144.79,301.74 L145.48,302.03 L146.17,302.31 L146.87,302.59 L147.57,302.87 L148.27,303.14 L148.98,303.41 L149.68,303.67 L150.39,303.93 L151.10,304.19 L151.82,304.44 L152.53,304.69 L153.25,304.94 L153.97,305.18 L154.70,305.41 L155.42,305.65 L156.15,305.88 L156.88,306.10 L157.61,306.33 L158.35,306.54 L159.09,306.76 L159.83,306.97 L160.57,307.18 L161.32,307.39 L162.07,307.59 L162.82,307.79 L163.57,307.99 L164.32,308.18 L165.08,308.38 L165.84,308.56 L166.60,308.75 L167.37,308.93 L168.14,309.11 L168.91,309.29 L169.68,309.46 L170.45,309.64 L171.23,309.81 L172.01,309.97 L172.79,310.14 L173.57,310.30 L174.36,310.46 L175.15,310.62 L175.94,310.77 L176.74,310.92 L177.53,311.07 L178.33,311.22 L179.13,311.37 L179.94,311.51 L180.74,311.65 L181.55,311.79 L182.36,311.93 L183.18,312.07 L183.99,312.20 L184.81,312.33 L185.63,312.46 L186.46,312.59 L187.28,312.71 L188.11,312.84 L188.94,312.96 L189.77,313.08 L190.61,313.20 L191.45,313.32 L192.29,313.43 L193.13,313.55 L193.97,313.66 L194.82,313.77 L195.67,313.88 L196.52,313.99 L197.38,314.09 L198.24,314.20 L199.10,314.30 L199.96,314.40 L200.82,314.50 L201.69,314.60 L202.56,314.70 L203.43,314.79 L204.31,314.89 L205.18,314.98 L206.06,315.07 L206.94,315.16 L207.83,315.25 L208.71,315.34 L209.60,315.43 L210.49,315.51 L211.39,315.60 L212.28,315.68 L213.18,315.76 L214.08,315.85 L214.99,315.93 L215.89,316.01 L216.80,316.08 L217.71,316.16 L218.63,316.24 L219.54,316.31 L220.46,316.38 L221.38,316.46 L222.30,316.53 L223.23,316.60 L224.16,316.67 L225.09,316.74 L226.02,316.80 L226.95,316.87 L227.89,316.94 L228.83,317.00 L229.77,317.07 L230.72,317.13 L231.67,317.19 L232.62,317.25 L233.57,317.31 L234.52,317.37 L235.48,317.43 L236.44,317.49 L237.40,317.55 L238.36,317.60 L239.33,317.66 L240.30,317.71 L241.27,317.77 L242.25,317.82 L243.22,317.87 L244.20,317.92 L245.18,317.97 L246.17,318.02 L247.15,318.07 L248.14,318.12 L249.13,318.17 L250.13,318.21 L251.12,318.26 L252.12,318.30 L253.12,318.35 L254.12,318.39 L255.13,318.43 L256.14,318.48 L257.15,318.52 L258.16,318.56 L259.18,318.60 L260.19,318.64 L261.22,318.67 L262.24,318.71 L263.26,318.75 L264.29,318.78 L265.32,318.82 L266.35,318.85 L267.39,318.88 L268.43,318.92 L269.46,318.95 L270.51,318.98 L271.55,319.01 L272.60,319.04 L273.65,319.07 L274.70,319.09 L275.75,319.12 L276.81,319.15 L277.87,319.17 L278.93,319.20 L280.00,319.22 L281.06,319.24 L282.13,319.27 L283.20,319.29 L284.28,319.31 L285.35,319.33 L286.43,319.34 L287.51,319.36 L288.60,319.38 L289.68,319.39 L290.77,319.41 L291.86,319.42 L292.95,319.43 L294.05,319.45 L295.15,319.46 L296.25,319.47 L297.35,319.48 L298.46,319.48 L299.56,319.49 L300.67,319.50 L301.79,319.50 L302.90,319.50 L304.02,319.51 L305.14,319.51 L306.26,319.51 L307.39,319.51 L308.51,319.51 L309.64,319.50 L310.78,319.50 L311.91,319.50 L313.05,319.49 L314.19,319.48 L315.33,319.47 L316.47,319.46 L317.62,319.45 L318.77,319.44 L319.92,319.43 L321.07,319.41 L322.23,319.39 L323.39,319.38 L324.55,319.36 L325.71,319.34 L326.88,319.32 L328.05,319.29 L329.22,319.27 L330.39,319.24 L331.57,319.21 L332.75,319.19 L333.93,319.15 L335.11,319.12 L336.30,319.08 L337.49,319.04 L338.68,318.99 L339.87,318.94 L341.06,318.89 L342.26,318.83 L343.46,318.77 L344.67,318.71 L345.87,318.64 L347.08,318.57 L348.29,318.50 L349.50,318.43 L349.50,318.43 L349.85,318.41 L350.20,318.39 L350.55,318.37 L350.89,318.35 L351.24,318.33 L351.58,318.31 L351.92,318.29 L352.26,318.26 L352.60,318.24 L352.94,318.22 L353.28,318.20 L353.62,318.17 L353.95,318.15 L354.28,318.12 L354.62,318.10 L354.95,318.08 L355.28,318.05 L355.60,318.03 L355.93,318.00 L356.26,317.98 L356.58,317.95 L356.90,317.92 L357.22,317.90 L357.54,317.87 L357.86,317.84 L358.18,317.82 L358.50,317.79 L358.81,317.76 L359.13,317.73 L359.44,317.71 L359.75,317.68 L360.06,317.65 L360.37,317.62 L360.68,317.59 L360.98,317.56 L361.29,317.53 L361.59,317.50 L361.90,317.47 L362.20,317.44 L362.50,317.41 L362.80,317.38 L363.09,317.35 L363.39,317.32 L363.69,317.29 L363.98,317.26 L364.27,317.22 L364.56,317.19 L364.85,317.16 L365.14,317.13 L365.43,317.10 L365.72,317.06 L366.00,317.03 L366.29,317.00 L366.57,316.96 L366.85,316.93 L367.13,316.90 L367.41,316.86 L367.69,316.83 L367.96,316.79 L368.24,316.76 L368.51,316.72 L368.79,316.69 L369.06,316.66 L369.33,316.62 L369.60,316.58 L369.87,316.55 L370.13,316.51 L370.40,316.48 L370.66,316.44 L370.93,316.41 L371.19,316.37 L371.45,316.33 L371.71,316.30 L371.97,316.26 L372.22,316.23 L372.48,316.19 L372.74,316.15 L372.99,316.12 L373.24,316.08 L373.49,316.04 L373.74,316.00 L373.99,315.97 L374.24,315.93 L374.49,315.89 L374.73,315.85 L374.98,315.82 L375.22,315.78 L375.46,315.74 L375.70,315.70 L375.94,315.65 L376.18,315.61 L376.42,315.57 L376.66,315.52 L376.89,315.47 L377.12,315.42 L377.36,315.38 L377.59,315.33 L377.82,315.28 L378.05,315.22 L378.28,315.17 L378.50,315.12 L378.73,315.07 L378.95,315.01 L379.18,314.96 L379.40,314.90 L379.62,314.85 L379.84,314.79 L380.06,314.74 L380.28,314.68 L380.50,314.62 L380.71,314.56 L380.93,314.51 L381.14,314.45 L381.35,314.39 L381.56,314.33 L381.77,314.27 L381.98,314.21 L382.19,314.15 L382.40,314.10 L382.60,314.04 L382.81,313.98 L383.01,313.92 L383.21,313.86 L383.42,313.80 L383.62,313.74 L383.81,313.68 L384.01,313.62 L384.21,313.56 L384.41,313.51 L384.60,313.45 L384.79,313.39 L384.99,313.33 L385.18,313.27 L385.37,313.21 L385.56,313.16 L385.75,313.10 L385.93,313.04 L386.12,312.98 L386.30,312.93 L386.49,312.87 L386.67,312.81 L386.85,312.75 L387.03,312.69 L387.21,312.64 L387.39,312.58 L387.57,312.52 L387.75,312.46 L387.92,312.40 L388.10,312.35 L388.27,312.29 L388.44,312.23 L388.62,312.17 L388.79,312.11 L388.95,312.05 L389.12,311.99 L389.29,311.93 L389.46,311.87 L389.62,311.81 L389.79,311.75 L389.95,311.69 L390.11,311.63 L390.27,311.57 L390.43,311.50 L390.59,311.44 L390.75,311.38 L390.91,311.32 L391.06,311.25 L391.22,311.19 L391.37,311.13 L391.53,311.06 L391.68,311.00 L391.83,310.94 L391.98,310.87 L392.13,310.81 L392.28,310.74 L392.42,310.68 L392.57,310.61 L392.71,310.54 L392.86,310.48 L393.00,310.41 L393.14,310.34 L393.28,310.28 L393.42,310.21 L393.56,310.14 L393.70,310.07 L393.84,310.01 L393.98,309.94 L394.11,309.87 L394.25,309.80 L394.38,309.73 L394.51,309.66 L394.64,309.59 L394.77,309.52 L394.90,309.45 L395.03,309.38 L395.16,309.31 L395.29,309.23 L395.41,309.16 L395.54,309.08 L395.66,309.01 L395.79,308.93 L395.91,308.85 L396.03,308.77 L396.15,308.69 L396.27,308.61 L396.39,308.53 L396.50,308.44 L396.62,308.36 L396.74,308.27 L396.85,308.19 L396.97,308.10 L397.08,308.01 L397.19,307.92 L397.30,307.83 L397.41,307.74 L397.52,307.65 L397.63,307.56 L397.74,307.46 L397.85,307.37 L397.95,307.28 L398.06,307.18 L398.16,307.08 L398.26,306.99 L398.37,306.89 L398.47,306.79 L398.57,306.69 L398.67,306.59 L398.77,306.49 L398.86,306.39 L398.96,306.29 L399.06,306.19 L399.15,306.08 L399.25,305.98 L399.34,305.87 L399.43,305.77 L399.53,305.66 L399.62,305.56 L399.71,305.45 L399.80,305.34 L399.89,305.23 L399.97,305.13 L400.06,305.02 L400.15,304.91 L400.23,304.80 L400.32,304.68 L400.40,304.57 L400.48,304.46 L400.57,304.34 L400.65,304.22 L400.73,304.11 L400.81,303.99 L400.89,303.87 L400.96,303.75 L401.04,303.62 L401.12,303.50 L401.19,303.37 L401.27,303.25 L401.34,303.12 L401.42,302.99 L401.49,302.86 L401.56,302.73 L401.63,302.59 L401.70,302.46 L401.77,302.32 L401.84,302.19 L401.91,302.05 L401.97,301.91 L402.04,301.77 L402.11,301.63 L402.17,301.48 L402.24,301.34 L402.30,301.19 L402.36,301.05 L402.42,300.90 L402.48,300.75 L402.55,300.60 L402.60,300.45 L402.66,300.30 L402.72,300.15" stroke="#ff8f1f"/>
<path d="M57.68,4.13 L57.91,9.44 L58.15,14.66 L58.39,19.82 L58.63,24.90 L58.87,29.91 L59.11,34.85 L59.36,39.71 L59.61,44.51 L59.86,49.23 L60.11,53.88 L60.37,58.46 L60.63,62.98 L60.89,67.42 L61.16,71.80 L61.42,76.11 L61.69,80.36 L61.96,84.54 L62.24,88.65 L62.51,92.70 L62.79,96.69 L63.07,100.61 L63.35,104.47 L63.64,108.27 L63.93,112.01 L64.22,115.69 L64.51,119.31 L64.81,122.87 L65.11,126.37 L65.41,129.82 L65.71,133.21 L66.01,136.55 L66.32,139.83 L66.63,143.06 L66.94,146.23 L67.26,149.35 L67.58,152.42 L67.90,155.44 L68.22,158.41 L68.54,161.33 L68.87,164.20 L69.20,167.03 L69.53,169.80 L69.87,172.53 L70.20,175.22 L70.54,177.86 L70.88,180.45 L71.23,183.00 L71.57,185.51 L71.92,187.97 L72.27,190.39 L72.63,192.77 L72.99,195.12 L73.34,197.42 L73.71,199.68 L74.07,201.90 L74.43,204.09 L74.80,206.23 L75.17,208.35 L75.55,210.42 L75.92,212.46 L76.30,214.46 L76.68,216.43 L77.06,218.37 L77.45,220.27 L77.84,222.14 L78.23,223.98 L78.62,225.78 L79.02,227.55 L79.41,229.30 L79.81,231.01 L80.22,232.69 L80.62,234.35 L81.03,235.97 L81.44,237.57 L81.85,239.14 L82.27,240.68 L82.68,242.19 L83.10,243.68 L83.52,245.14 L83.95,246.58 L84.38,247.99 L84.80,249.38 L85.24,250.74 L85.67,252.08 L86.11,253.39 L86.55,254.68 L86.99,255.95 L87.43,257.20 L87.88,258.42 L88.33,259.62 L88.78,260.81 L89.23,261.97 L89.69,263.11 L90.15,264.23 L90.61,265.32 L91.07,266.40 L91.54,267.47 L92.00,268.51 L92.47,269.53 L92.95,270.54 L93.42,271.52 L93.90,272.49 L94.38,273.44 L94.86,274.38 L95.35,275.30 L95.84,276.20 L96.33,277.08 L96.82,277.95 L97.31,278.81 L97.81,279.64 L98.31,280.47 L98.81,281.27 L99.32,282.07 L99.83,282.85 L100.33,283.61 L100.85,284.36 L101.36,285.10 L101.88,285.82 L102.40,286.53 L102.92,287.23 L103.44,287.92 L103.97,288.59 L104.50,289.25 L105.03,289.90 L105.56,290.53 L106.10,291.16 L106.64,291.77 L107.18,292.37 L107.72,292.96 L108.27,293.54 L108.82,294.11 L109.37,294.66 L109.92,295.21 L110.48,295.75 L111.04,296.27 L111.60,296.79 L112.16,297.30 L112.72,297.80 L113.29,298.28 L113.86,298.76 L114.44,299.23 L115.01,299.69 L115.59,300.15 L116.17,300.59 L116.75,301.03 L117.34,301.45 L117.92,301.87 L118.51,302.28 L119.11,302.69 L119.70,303.08 L120.30,303.47 L120.90,303.85 L121.50,304.22 L122.10,304.59 L122.71,304.95 L123.32,305.30 L123.93,305.64 L124.54,305.98 L125.16,306.31 L125.78,306.64 L126.40,306.96 L127.03,307.27 L127.65,307.57 L128.28,307.88 L128.91,308.17 L129.54,308.46 L130.18,308.74 L130.82,309.02 L131.46,309.29 L132.10,309.56 L132.75,309.82 L133.40,310.07 L134.05,310.33 L134.70,310.57 L135.36,310.81 L136.01,311.05 L136.67,311.28 L137.34,311.51 L138.00,311.73 L138.67,311.95 L139.34,312.16 L140.01,312.37 L140.69,312.58 L141.36,312.78 L142.04,312.97 L142.73,313.17 L143.41,313.36 L144.10,313.54 L144.79,313.72 L145.48,313.90 L146.17,314.08 L146.87,314.25 L147.57,314.42 L148.27,314.58 L148.98,314.74 L149.68,314.90 L150.39,315.05 L151.10,315.20 L151.82,315.35 L152.53,315.50 L153.25,315.64 L153.97,315.78 L154.70,315.92 L155.42,316.05 L156.15,316.18 L156.88,316.31 L157.61,316.44 L158.35,316.56 L159.09,316.68 L159.83,316.80 L160.57,316.92 L161.32,317.03 L162.07,317.15 L162.82,317.26 L163.57,317.36 L164.32,317.47 L165.08,317.57 L165.84,317.68 L166.60,317.78 L167.37,317.87 L168.14,317.97 L168.91,318.07 L169.68,318.16 L170.45,318.25 L171.23,318.34 L172.01,318.43 L172.79,318.51 L173.57,318.60 L174.36,318.68 L175.15,318.76 L175.94,318.84 L176.74,318.92 L177.53,319.00 L178.33,319.08 L179.13,319.15 L179.94,319.23 L180.74,319.30 L181.55,319.37 L182.36,319.44 L183.18,319.51 L183.99,319.58 L184.81,319.65 L185.63,319.72 L186.46,319.78 L187.28,319.85 L188.11,319.91 L188.94,319.97 L189.77,320.04 L190.61,320.10 L191.45,320.16 L192.29,320.22 L193.13,320.28 L193.97,320.33 L194.82,320.39 L195.67,320.45 L196.52,320.51 L197.38,320.56 L198.24,320.62 L199.10,320.67 L199.96,320.73 L200.82,320.78 L201.69,320.83 L202.56,320.88 L203.43,320.94 L204.31,320.99 L205.18,321.04 L206.06,321.09 L206.94,321.14 L207.83,321.19 L208.71,321.24 L209.60,321.29 L210.49,321.34 L211.39,321.39 L212.28,321.44 L213.18,321.49 L214.08,321.53 L214.99,321.58 L215.89,321.63 L216.80,321.68 L217.71,321.72 L218.63,321.77 L219.54,321.82 L220.46,321.86 L221.38,321.91 L222.30,321.96 L223.23,322.00 L224.16,322.05 L225.09,322.09 L226.02,322.14 L226.95,322.19 L227.89,322.23 L228.83,322.28 L229.77,322.32 L230.72,322.37 L231.67,322.41 L232.62,322.46 L233.57,322.50 L234.52,322.55 L235.48,322.59 L236.44,322.63 L237.40,322.68 L238.36,322.72 L239.33,322.77 L240.30,322.81 L241.27,322.86 L242.25,322.90 L243.22,322.94 L244.20,322.99 L245.18,323.03 L246.17,323.08 L247.15,323.12 L248.14,323.16 L249.13,323.21 L250.13,323.25 L251.12,323.29 L252.12,323.34 L253.12,323.38 L254.12,323.42 L255.13,323.46 L256.14,323.51 L257.15,323.55 L258.16,323.59 L259.18,323.63 L260.19,323.68 L261.22,323.72 L262.24,323.76 L263.26,323.80 L264.29,323.84 L265.32,323.88 L266.35,323.92 L267.39,323.96 L268.43,324.00 L269.46,324.04 L270.51,324.08 L271.55,324.12 L272.60,324.16 L273.65,324.20 L274.70,324.24 L275.75,324.28 L276.81,324.31 L277.87,324.35 L278.93,324.39 L280.00,324.42 L281.06,324.46 L282.13,324.50 L283.20,324.53 L284.28,324.57 L285.35,324.60 L286.43,324.63 L287.51,324.66 L288.60,324.70 L289.68,324.73 L290.77,324.76 L291.86,324.79 L292.95,324.82 L294.05,324.85 L295.15,324.88 L296.25,324.90 L297.35,324.93 L298.46,324.95 L299.56,324.98 L300.67,325.00 L301.79,325.03 L302.90,325.05 L304.02,325.07 L305.14,325.09 L306.26,325.11 L307.39,325.13 L308.51,325.14 L309.64,325.16 L310.78,325.17 L311.91,325.19 L313.05,325.20 L314.19,325.21 L315.33,325.22 L316.47,325.23 L317.62,325.23 L318.77,325.24 L319.92,325.24 L321.07,325.25 L322.23,325.25 L323.39,325.25 L324.55,325.25 L325.71,325.24 L326.88,325.24 L328.05,325.23 L329.22,325.22 L330.39,325.21 L331.57,325.20 L332.75,325.19 L333.93,325.17 L335.11,325.15 L336.30,325.13 L337.49,325.11 L338.68,325.08 L339.87,325.05 L341.06,325.02 L342.26,324.99 L343.46,324.96 L344.67,324.93 L345.87,324.89 L347.08,324.86 L348.29,324.83 L349.50,324.80 L349.50,324.80 L349.85,324.79 L350.20,324.78 L350.55,324.77 L350.89,324.76 L351.24,324.75 L351.58,324.75 L351.92,324.74 L352.26,324.73 L352.60,324.72 L352.94,324.71 L353.28,324.70 L353.62,324.69 L353.95,324.68 L354.28,324.67 L354.62,324.66 L354.95,324.65 L355.28,324.64 L355.60,324.63 L355.93,324.62 L356.26,324.61 L356.58,324.60 L356.90,324.59 L357.22,324.58 L357.54,324.57 L357.86,324.56 L358.18,324.55 L358.50,324.54 L358.81,324.53 L359.13,324.52 L359.44,324.51 L359.75,324.50 L360.06,324.49 L360.37,324.47 L360.68,324.46 L360.98,324.45 L361.29,324.44 L361.59,324.43 L361.90,324.42 L362.20,324.41 L362.50,324.40 L362.80,324.39 L363.09,324.38 L363.39,324.37 L363.69,324.36 L363.98,324.35 L364.27,324.33 L364.56,324.32 L364.85,324.31 L365.14,324.30 L365.43,324.29 L365.72,324.28 L366.00,324.27 L366.29,324.26 L366.57,324.25 L366.85,324.24 L367.13,324.23 L367.41,324.21 L367.69,324.20 L367.96,324.19 L368.24,324.18 L368.51,324.17 L368.79,324.16 L369.06,324.15 L369.33,324.14 L369.60,324.13 L369.87,324.12 L370.13,324.10 L370.40,324.09 L370.66,324.08 L370.93,324.07 L371.19,324.06 L371.45,324.05 L371.71,324.04 L371.97,324.03 L372.22,324.02 L372.48,324.01 L372.74,324.00 L372.99,323.98 L373.24,323.97 L373.49,323.96 L373.74,323.95 L373.99,323.94 L374.24,323.93 L374.49,323.92 L374.73,323.91 L374.98,323.90 L375.22,323.89 L375.46,323.88 L375.70,323.87 L375.94,323.86 L376.18,323.85 L376.42,323.84 L376.66,323.83 L376.89,323.82 L377.12,323.81 L377.36,323.80 L377.59,323.79 L377.82,323.78 L378.05,323.77 L378.28,323.76 L378.50,323.75 L378.73,323.74 L378.95,323.72 L379.18,323.71 L379.40,323.69 L379.62,323.68 L379.84,323.66 L380.06,323.64 L380.28,323.62 L380.50,323.59 L380.71,323.56 L380.93,323.52 L381.14,323.48 L381.35,323.43 L381.56,323.38 L381.77,323.33 L381.98,323.27 L382.19,323.21 L382.40,323.14 L382.60,323.08 L382.81,323.01 L383.01,322.94 L383.21,322.88 L383.42,322.81 L383.62,322.74 L383.81,322.67 L384.01,322.61 L384.21,322.54 L384.41,322.48 L384.60,322.42 L384.79,322.36 L384.99,322.30 L385.18,322.24 L385.37,322.18 L385.56,322.13 L385.75,322.07 L385.93,322.01 L386.12,321.96 L386.30,321.90 L386.49,321.85 L386.67,321.79 L386.85,321.74 L387.03,321.68 L387.21,321.63 L387.39,321.57 L387.57,321.52 L387.75,321.46 L387.92,321.41 L388.10,321.35 L388.27,321.30 L388.44,321.25 L388.62,321.19 L388.79,321.14 L388.95,321.08 L389.12,321.03 L389.29,320.97 L389.46,320.92 L389.62,320.87 L389.79,320.81 L389.95,320.76 L390.11,320.70 L390.27,320.65 L390.43,320.59 L390.59,320.54 L390.75,320.48 L390.91,320.42 L391.06,320.37 L391.22,320.31 L391.37,320.26 L391.53,320.20 L391.68,320.14 L391.83,320.09 L391.98,320.03 L392.13,319.97 L392.28,319.92 L392.42,319.86 L392.57,319.80 L392.71,319.74 L392.86,319.68 L393.00,319.62 L393.14,319.57 L393.28,319.51 L393.42,319.45 L393.56,319.39 L393.70,319.33 L393.84,319.27 L393.98,319.21 L394.11,319.15 L394.25,319.09 L394.38,319.03 L394.51,318.97 L394.64,318.90 L394.77,318.84 L394.90,318.78 L395.03,318.72 L395.16,318.66 L395.29,318.59 L395.41,318.53 L395.54,318.46 L395.66,318.40 L395.79,318.33 L395.91,318.27 L396.03,318.20 L396.15,318.13 L396.27,318.07 L396.39,318.00 L396.50,317.93 L396.62,317.86 L396.74,317.79 L396.85,317.72 L396.97,317.65 L397.08,317.58 L397.19,317.50 L397.30,317.43 L397.41,317.36 L397.52,317.28 L397.63,317.21 L397.74,317.13 L397.85,317.05 L397.95,316.97 L398.06,316.90 L398.16,316.82 L398.26,316.74 L398.37,316.66 L398.47,316.58 L398.57,316.49 L398.67,316.41 L398.77,316.33 L398.86,316.24 L398.96,316.16 L399.06,316.07 L399.15,315.99 L399.25,315.90 L399.34,315.81 L399.43,315.72 L399.53,315.63 L399.62,315.54 L399.71,315.45 L399.80,315.36 L399.89,315.27 L399.97,315.18 L400.06,315.08 L400.15,314.99 L400.23,314.89 L400.32,314.79 L400.40,314.69 L400.48,314.58 L400.57,314.48 L400.65,314.37 L400.73,314.26 L400.81,314.15 L400.89,314.04 L400.96,313.93 L401.04,313.82 L401.12,313.70 L401.19,313.58 L401.27,313.47 L401.34,313.35 L401.42,313.22 L401.49,313.10 L401.56,312.98 L401.63,312.86 L401.70,312.73 L401.77,312.60 L401.84,312.48 L401.91,312.35 L401.97,312.22 L402.04,312.09 L402.11,311.96 L402.17,311.83 L402.24,311.69 L402.30,311.56 L402.36,311.43 L402.42,311.29 L402.48,311.16 L402.55,311.03 L402.60,310.89 L402.66,310.75 L402.72,310.62 L402.78,310.48 L402.84,310.35 L402.89,310.21 L402.95,310.07 L403.00,309.94 L403.06,309.80 L403.11,309.66 L403.16,309.53 L403.21,309.39 L403.27,309.25 L403.32,309.12 L403.37,308.98 L403.41,308.85 L403.46,308.71 L403.51,308.57 L403.56,308.43 L403.60,308.29 L403.65,308.14 L403.69,307.99 L403.74,307.83 L403.78,307.68 L403.83,307.52 L403.87,307.36 L403.91,307.20 L403.95,307.04 L403.99,306.88 L404.03,306.72 L404.07,306.56 L404.11,306.39 L404.15,306.23 L404.18,306.07 L404.22,305.91 L404.26,305.75 L404.29,305.59 L404.33,305.44 L404.36,305.28 L404.39,305.12 L404.43,304.97 L404.46,304.82 L404.49,304.67 L404.52,304.52 L404.55,304.37 L404.58,304.23 L404.61,304.09 L404.64,303.95 L404.67,303.81 L404.70,303.68 L404.73,303.54 L404.75,303.41 L404.78,303.28 L404.80,303.16 L404.83,303.04 L404.85,302.92 L404.88,302.80 L404.90,302.68 L404.92,302.57 L404.95,302.46 L404.97,302.35 L404.99,302.25 L405.01,302.14 L405.03,302.04 L405.05,301.94 L405.07,301.84 L405.09,301.74 L405.10,301.65 L405.12,301.55 L405.14,301.46 L405.16,301.37 L405.17,301.28 L405.19,301.19 L405.20,301.11 L405.22,301.03 L405.23,300.95 L405.25,300.87 L405.26,300.79 L405.27,300.72 L405.29,300.65 L405.30,300.58 L405.31,300.51 L405.32,300.45 L405.33,300.39 L405.34,300.33 L405.35,300.27 L405.36,300.21 L405.37,300.16 L405.38,300.11 L405.39,300.06 L405.40,300.01 L405.41,299.96 L405.41,299.92 L405.42,299.88 L405.43,299.84 L405.43,299.80 L405.44,299.77 L405.44,299.74 L405.45,299.71 L405.46,299.68 L405.46,299.65 L405.46,299.62 L405.47,299.60 L405.47,299.58 L405.48,299.56 L405.48,299.54 L405.48,299.52 L405.48,299.50 L405.49,299.49 L405.49,299.48 L405.49,299.47 L405.49,299.46 L405.49,299.45 L405.50,299.44 L405.50,299.43 L405.50,299.43 L405.50,299.42 L405.50,299.42 L405.50,299.42 L405.50,299.42 L405.50,299.42 L405.50,299.41 L405.50,299.41" stroke="#1e90ff"/>
<path d="M60.37,4.59 L60.63,9.65 L60.89,14.65 L61.16,19.57 L61.42,24.43 L61.69,29.21 L61.96,33.93 L62.24,38.58 L62.51,43.16 L62.79,47.67 L63.07,52.12 L63.35,56.50 L63.64,60.82 L63.93,65.07 L64.22,69.26 L64.51,73.39 L64.81,77.45 L65.11,81.45 L65.41,85.39 L65.71,89.26 L66.01,93.08 L66.32,96.84 L66.63,100.54 L66.94,104.18 L67.26,107.76 L67.58,111.29 L67.90,114.76 L68.22,118.17 L68.54,121.53 L68.87,124.84 L69.20,128.09 L69.53,131.29 L69.87,134.44 L70.20,137.54 L70.54,140.58 L70.88,143.58 L71.23,146.53 L71.57,149.43 L71.92,152.28 L72.27,155.08 L72.63,157.84 L72.99,160.55 L73.34,163.22 L73.71,165.85 L74.07,168.43 L74.43,170.96 L74.80,173.46 L75.17,175.91 L75.55,178.32 L75.92,180.69 L76.30,183.02 L76.68,185.31 L77.06,187.57 L77.45,189.78 L77.84,191.96 L78.23,194.10 L78.62,196.21 L79.02,198.27 L79.41,200.31 L79.81,202.31 L80.22,204.27 L80.62,206.21 L81.03,208.10 L81.44,209.97 L81.85,211.81 L82.27,213.61 L82.68,215.38 L83.10,217.12 L83.52,218.84 L83.95,220.52 L84.38,222.18 L84.80,223.80 L85.24,225.40 L85.67,226.97 L86.11,228.52 L86.55,230.03 L86.99,231.52 L87.43,232.99 L87.88,234.43 L88.33,235.85 L88.78,237.24 L89.23,238.61 L89.69,239.95 L90.15,241.27 L90.61,242.57 L91.07,243.85 L91.54,245.10 L92.00,246.33 L92.47,247.54 L92.95,248.73 L93.42,249.90 L93.90,251.05 L94.38,252.18 L94.86,253.29 L95.35,254.39 L95.84,255.46 L96.33,256.51 L96.82,257.55 L97.31,258.57 L97.81,259.57 L98.31,260.55 L98.81,261.52 L99.32,262.47 L99.83,263.40 L100.33,264.32 L100.85,265.22 L101.36,266.10 L101.88,266.97 L102.40,267.83 L102.92,268.67 L103.44,269.50 L103.97,270.31 L104.50,271.11 L105.03,271.89 L105.56,272.66 L106.10,273.42 L106.64,274.16 L107.18,274.89 L107.72,275.61 L108.27,276.32 L108.82,277.01 L109.37,277.69 L109.92,278.36 L110.48,279.02 L111.04,279.67 L111.60,280.31 L112.16,280.93 L112.72,281.55 L113.29,282.15 L113.86,282.74 L114.44,283.33 L115.01,283.90 L115.59,284.46 L116.17,285.02 L116.75,285.56 L117.34,286.10 L117.92,286.62 L118.51,287.14 L119.11,287.64 L119.70,288.14 L120.30,288.63 L120.90,289.11 L121.50,289.59 L122.10,290.05 L122.71,290.51 L123.32,290.96 L123.93,291.40 L124.54,291.83 L125.16,292.26 L125.78,292.68 L126.40,293.09 L127.03,293.50 L127.65,293.89 L128.28,294.28 L128.91,294.67 L129.54,295.05 L130.18,295.42 L130.82,295.78 L131.46,296.14 L132.10,296.49 L132.75,296.84 L133.40,297.18 L134.05,297.51 L134.70,297.84 L135.36,298.16 L136.01,298.48 L136.67,298.79 L137.34,299.10 L138.00,299.40 L138.67,299.70 L139.34,299.99 L140.01,300.27 L140.69,300.55 L141.36,300.83 L142.04,301.10 L142.73,301.37 L143.41,301.63 L144.10,301.89 L144.79,302.14 L145.48,302.39 L146.17,302.64 L146.87,302.88 L147.57,303.11 L148.27,303.35 L148.98,303.57 L149.68,303.80 L150.39,304.02 L151.10,304.24 L151.82,304.45 L152.53,304.66 L153.25,304.87 L153.97,305.07 L154.70,305.27 L155.42,305.46 L156.15,305.66 L156.88,305.85 L157.61,306.03 L158.35,306.21 L159.09,306.39 L159.83,306.57 L160.57,306.75 L161.32,306.92 L162.07,307.08 L162.82,307.25 L163.57,307.41 L164.32,307.57 L165.08,307.73 L165.84,307.88 L166.60,308.04 L167.37,308.19 L168.14,308.33 L168.91,308.48 L169.68,308.62 L170.45,308.76 L171.23,308.90 L172.01,309.03 L172.79,309.17 L173.57,309.30 L174.36,309.43 L175.15,309.55 L175.94,309.68 L176.74,309.80 L177.53,309.92 L178.33,310.04 L179.13,310.16 L179.94,310.27 L180.74,310.39 L181.55,310.50 L182.36,310.61 L183.18,310.72 L183.99,310.82 L184.81,310.93 L185.63,311.03 L186.46,311.13 L187.28,311.23 L188.11,311.33 L188.94,311.43 L189.77,311.52 L190.61,311.62 L191.45,311.71 L192.29,311.80 L193.13,311.89 L193.97,311.98 L194.82,312.07 L195.67,312.15 L196.52,312.24 L197.38,312.32 L198.24,312.40 L199.10,312.48 L199.96,312.56 L200.82,312.64 L201.69,312.72 L202.56,312.80 L203.43,312.87 L204.31,312.94 L205.18,313.02 L206.06,313.09 L206.94,313.16 L207.83,313.23 L208.71,313.30 L209.60,313.37 L210.49,313.44 L211.39,313.50 L212.28,313.57 L213.18,313.63 L214.08,313.70 L214.99,313.76 L215.89,313.82 L216.80,313.88 L217.71,313.94 L218.63,314.00 L219.54,314.06 L220.46,314.12 L221.38,314.18 L222.30,314.24 L223.23,314.29 L224.16,314.35 L225.09,314.40 L226.02,314.46 L226.95,314.51 L227.89,314.56 L228.83,314.61 L229.77,314.66 L230.72,314.72 L231.67,314.77 L232.62,314.81 L233.57,314.86 L234.52,314.91 L235.48,314.96 L236.44,315.01 L237.40,315.05 L238.36,315.10 L239.33,315.14 L240.30,315.19 L241.27,315.23 L242.25,315.28 L243.22,315.32 L244.20,315.36 L245.18,315.40 L246.17,315.45 L247.15,315.49 L248.14,315.53 L249.13,315.57 L250.13,315.61 L251.12,315.65 L252.12,315.68 L253.12,315.72 L254.12,315.76 L255.13,315.80 L256.14,315.83 L257.15,315.87 L258.16,315.90 L259.18,315.94 L260.19,315.97 L261.22,316.01 L262.24,316.04 L263.26,316.07 L264.29,316.11 L265.32,316.14 L266.35,316.17 L267.39,316.20 L268.43,316.23 L269.46,316.26 L270.51,316.29 L271.55,316.32 L272.60,316.35 L273.65,316.38 L274.70,316.40 L275.75,316.43 L276.81,316.46 L277.87,316.48 L278.93,316.51 L280.00,316.53 L281.06,316.56 L282.13,316.58 L283.20,316.60 L284.28,316.63 L285.35,316.65 L286.43,316.67 L287.51,316.69 L288.60,316.71 L289.68,316.73 L290.77,316.75 L291.86,316.77 L292.95,316.78 L294.05,316.80 L295.15,316.82 L296.25,316.83 L297.35,316.85 L298.46,316.86 L299.56,316.88 L300.67,316.89 L301.79,316.90 L302.90,316.92 L304.02,316.93 L305.14,316.94 L306.26,316.95 L307.39,316.96 L308.51,316.96 L309.64,316.97 L310.78,316.98 L311.91,316.98 L313.05,316.99 L314.19,316.99 L315.33,317.00 L316.47,317.00 L317.62,317.00 L318.77,317.00 L319.92,317.00 L321.07,317.00 L322.23,317.00 L323.39,317.00 L324.55,316.99 L325.71,316.99 L326.88,316.98 L328.05,316.98 L329.22,316.97 L330.39,316.96 L331.57,316.95 L332.75,316.94 L333.93,316.93 L335.11,316.91 L336.30,316.89 L337.49,316.87 L338.68,316.85 L339.87,316.82 L341.06,316.79 L342.26,316.76 L343.46,316.72 L344.67,316.69 L345.87,316.65 L347.08,316.62 L348.29,316.58 L349.50,316.55 L349.50,316.55 L349.85,316.54 L350.20,316.53 L350.55,316.52 L350.89,316.51 L351.24,316.50 L351.58,316.49 L351.92,316.48 L352.26,316.48 L352.60,316.47 L352.94,316.46 L353.28,316.45 L353.62,316.44 L353.95,316.43 L354.28,316.42 L354.62,316.41 L354.95,316.40 L355.28,316.40 L355.60,316.39 L355.93,316.38 L356.26,316.37 L356.58,316.36 L356.90,316.35 L357.22,316.34 L357.54,316.33 L357.86,316.32 L358.18,316.31 L358.50,316.30 L358.81,316.29 L359.13,316.28 L359.44,316.27 L359.75,316.26 L360.06,316.25 L360.37,316.24 L360.68,316.23 L360.98,316.22 L361.29,316.21 L361.59,316.20 L361.90,316.19 L362.20,316.18 L362.50,316.17 L362.80,316.15 L363.09,316.14 L363.39,316.13 L363.69,316.12 L363.98,316.11 L364.27,316.09 L364.56,316.08 L364.85,316.07 L365.14,316.06 L365.43,316.04 L365.72,316.03 L366.00,316.02 L366.29,316.00 L366.57,315.99 L366.85,315.98 L367.13,315.96 L367.41,315.95 L367.69,315.94 L367.96,315.92 L368.24,315.91 L368.51,315.89 L368.79,315.88 L369.06,315.86 L369.33,315.85 L369.60,315.83 L369.87,315.82 L370.13,315.80 L370.40,315.78 L370.66,315.77 L370.93,315.75 L371.19,315.73 L371.45,315.72 L371.71,315.70 L371.97,315.68 L372.22,315.67 L372.48,315.65 L372.74,315.63 L372.99,315.61 L373.24,315.60 L373.49,315.58 L373.74,315.56 L373.99,315.54 L374.24,315.52 L374.49,315.50 L374.73,315.48 L374.98,315.46 L375.22,315.44 L375.46,315.42 L375.70,315.39 L375.94,315.36 L376.18,315.33 L376.42,315.30 L376.66,315.27 L376.89,315.23 L377.12,315.19 L377.36,315.15 L377.59,315.11 L377.82,315.07 L378.05,315.02 L378.28,314.98 L378.50,314.93 L378.73,314.88 L378.95,314.83 L379.18,314.79 L379.40,314.73 L379.62,314.68 L379.84,314.63 L380.06,314.58 L380.28,314.52 L380.50,314.47 L380.71,314.41 L380.93,314.36 L381.14,314.30 L381.35,314.25 L381.56,314.19 L381.77,314.14 L381.98,314.08 L382.19,314.02 L382.40,313.97 L382.60,313.91 L382.81,313.85 L383.01,313.80 L383.21,313.74 L383.42,313.68 L383.62,313.63 L383.81,313.57 L384.01,313.52 L384.21,313.46 L384.41,313.41 L384.60,313.35 L384.79,313.30 L384.99,313.25 L385.18,313.19 L385.37,313.14 L385.56,313.08 L385.75,313.03 L385.93,312.98 L386.12,312.92 L386.30,312.87 L386.49,312.81 L386.67,312.76 L386.85,312.70 L387.03,312.65 L387.21,312.59 L387.39,312.53 L387.57,312.48 L387.75,312.42 L387.92,312.37 L388.10,312.31 L388.27,312.25 L388.44,312.19 L388.62,312.14 L388.79,312.08 L388.95,312.02 L389.12,311.96 L389.29,311.90 L389.46,311.84 L389.62,311.78 L389.79,311.72 L389.95,311.66 L390.11,311.60 L390.27,311.54 L390.43,311.48 L390.59,311.42 L390.75,311.36 L390.91,311.30 L391.06,311.23 L391.22,311.17 L391.37,311.11 L391.53,311.05 L391.68,310.98 L391.83,310.92 L391.98,310.86 L392.13,310.79 L392.28,310.73 L392.42,310.66 L392.57,310.60 L392.71,310.53 L392.86,310.47 L393.00,310.40 L393.14,310.33 L393.28,310.27 L393.42,310.20 L393.56,310.13 L393.70,310.07 L393.84,310.00 L393.98,309.93 L394.11,309.86 L394.25,309.79 L394.38,309.73 L394.51,309.66 L394.64,309.59 L394.77,309.52 L394.90,309.45 L395.03,309.38 L395.16,309.31 L395.29,309.24 L395.41,309.16 L395.54,309.09 L395.66,309.01 L395.79,308.93 L395.91,308.86 L396.03,308.78 L396.15,308.70 L396.27,308.61 L396.39,308.53 L396.50,308.45 L396.62,308.36 L396.74,308.28 L396.85,308.19 L396.97,308.11 L397.08,308.02 L397.19,307.93 L397.30,307.84 L397.41,307.75 L397.52,307.66 L397.63,307.56 L397.74,307.47 L397.85,307.38 L397.95,307.28 L398.06,307.18 L398.16,307.09 L398.26,306.99 L398.37,306.89 L398.47,306.79 L398.57,306.69 L398.67,306.59 L398.77,306.49 L398.86,306.39 L398.96,306.29 L399.06,306.19 L399.15,306.08 L399.25,305.98 L399.34,305.87 L399.43,305.77 L399.53,305.66 L399.62,305.56 L399.71,305.45 L399.80,305.34 L399.89,305.23 L399.97,305.13 L400.06,305.02 L400.15,304.91 L400.23,304.80 L400.32,304.68 L400.40,304.57 L400.48,304.46 L400.57,304.34 L400.65,304.22 L400.73,304.11 L400.81,303.99 L400.89,303.87 L400.96,303.75 L401.04,303.62 L401.12,303.50 L401.19,303.37 L401.27,303.25 L401.34,303.12 L401.42,302.99 L401.49,302.86 L401.56,302.73 L401.63,302.59 L401.70,302.46 L401.77,302.32 L401.84,302.19 L401.91,302.05 L401.97,301.91 L402.04,301.77 L402.11,301.63 L402.17,301.48 L402.24,301.34 L402.30,301.19 L402.36,301.05 L402.42,300.90 L402.48,300.75 L402.55,300.60 L402.60,300.45 L402.66,300.30 L402.72,300.15 L402.78,299.99 L402.84,299.84 L402.89,299.68 L402.95,299.53 L403.00,299.37 L403.06,299.21 L403.11,299.06 L403.16,298.90 L403.21,298.74 L403.27,298.58 L403.32,298.42 L403.37,298.26 L403.41,298.10 L403.46,297.94 L403.51,297.78 L403.56,297.61 L403.60,297.43 L403.65,297.26 L403.69,297.07 L403.74,296.89 L403.78,296.70 L403.83,296.50 L403.87,296.31 L403.91,296.11 L403.95,295.91 L403.99,295.71 L404.03,295.50 L404.07,295.30 L404.11,295.09 L404.15,294.88 L404.18,294.68 L404.22,294.47 L404.26,294.26 L404.29,294.05 L404.33,293.84 L404.36,293.64 L404.39,293.43 L404.43,293.22 L404.46,293.02 L404.49,292.81 L404.52,292.61 L404.55,292.41 L404.58,292.21 L404.61,292.01 L404.64,291.81 L404.67,291.62 L404.70,291.43 L404.73,291.23 L404.75,291.05 L404.78,290.86 L404.80,290.68 L404.83,290.50 L404.85,290.32 L404.88,290.14 L404.90,289.97 L404.92,289.80 L404.95,289.63 L404.97,289.47 L404.99,289.31 L405.01,289.15 L405.03,288.98 L405.05,288.82 L405.07,288.66 L405.09,288.49 L405.10,288.33 L405.12,288.17 L405.14,288.01 L405.16,287.85 L405.17,287.70 L405.19,287.54 L405.20,287.39 L405.22,287.25 L405.23,287.10 L405.25,286.96 L405.26,286.82 L405.27,286.69 L405.29,286.56 L405.30,286.43 L405.31,286.31 L405.32,286.19 L405.33,286.07 L405.34,285.96 L405.35,285.85 L405.36,285.75 L405.37,285.65 L405.38,285.55 L405.39,285.46 L405.40,285.37 L405.41,285.28 L405.41,285.20 L405.42,285.13 L405.43,285.05 L405.43,284.99 L405.44,284.92 L405.44,284.86 L405.45,284.80 L405.46,284.74 L405.46,284.69 L405.46,284.65 L405.47,284.60 L405.47,284.56 L405.48,284.52 L405.48,284.49 L405.48,284.45 L405.48,284.42 L405.49,284.40 L405.49,284.37 L405.49,284.35 L405.49,284.33 L405.49,284.32 L405.50,284.30 L405.50,284.29 L405.50,284.28 L405.50,284.27 L405.50,284.27 L405.50,284.26 L405.50,284.26 L405.50,284.26 L405.50,284.26 L405.50,284.26" stroke="#00eeee"/>
</g>
<g stroke="#8c8c8c" stroke-width="1.0" fill="none">
<rect x="46.8" y="7.75" width="358.60" height="358.85"/>
<line x1="47.10" y1="366.6" x2="47.10" y2="364.6"/>
<line x1="47.10" y1="7.75" x2="47.10" y2="9.75"/>
<line x1="58.30" y1="366.6" x2="58.30" y2="364.6"/>
<line x1="58.30" y1="7.75" x2="58.30" y2="9.75"/>
<line x1="69.50" y1="366.6" x2="69.50" y2="363.40000000000003"/>
<line x1="69.50" y1="7.75" x2="69.50" y2="10.95"/>
<line x1="80.70" y1="366.6" x2="80.70" y2="364.6"/>
<line x1="80.70" y1="7.75" x2="80.70" y2="9.75"/>
<line x1="91.90" y1="366.6" x2="91.90" y2="364.6"/>
<line x1="91.90" y1="7.75" x2="91.90" y2="9.75"/>
<line x1="103.10" y1="366.6" x2="103.10" y2="364.6"/>
<line x1="103.10" y1="7.75" x2="103.10" y2="9.75"/>
<line x1="114.30" y1="366.6" x2="114.30" y2="364.6"/>
<line x1="114.30" y1="7.75" x2="114.30" y2="9.75"/>
<line x1="125.50" y1="366.6" x2="125.50" y2="363.40000000000003"/>
<line x1="125.50" y1="7.75" x2="125.50" y2="10.95"/>
<line x1="136.70" y1="366.6" x2="136.70" y2="364.6"/>
<line x1="136.70" y1="7.75" x2="136.70" y2="9.75"/>
<line x1="147.90" y1="366.6" x2="147.90" y2="364.6"/>
<line x1="147.90" y1="7.75" x2="147.90" y2="9.75"/>
<line x1="159.10" y1="366.6" x2="159.10" y2="364.6"/>
<line x1="159.10" y1="7.75" x2="159.10" y2="9.75"/>
<line x1="170.30" y1="366.6" x2="170.30" y2="364.6"/>
<line x1="170.30" y1="7.75" x2="170.30" y2="9.75"/>
<line x1="181.50" y1="366.6" x2="181.50" y2="363.40000000000003"/>
<line x1="181.50" y1="7.75" x2="181.50" y2="10.95"/>
<line x1="192.70" y1="366.6" x2="192.70" y2="364.6"/>
<line x1="192.70" y1="7.75" x2="192.70" y2="9.75"/>
<line x1="203.90" y1="366.6" x2="203.90" y2="364.6"/>
<line x1="203.90" y1="7.75" x2="203.90" y2="9.75"/>
<line x1="215.10" y1="366.6" x2="215.10" y2="364.6"/>
<line x1="215.10" y1="7.75" x2="215.10" y2="9.75"/>
<line x1="226.30" y1="366.6" x2="226.30" y2="364.6"/>
<line x1="226.30" y1="7.75" x2="226.30" y2="9.75"/>
<line x1="237.50" y1="366.6" x2="237.50" y2="363.40000000000003"/>
<line x1="237.50" y1="7.75" x2="237.50" y2="10.95"/>
<line x1="248.70" y1="366.6" x2="248.70" y2="364.6"/>
<line x1="248.70" y1="7.75" x2="248.70" y2="9.75"/>
<line x1="259.90" y1="366.6" x2="259.90" y2="364.6"/>
<line x1="259.90" y1="7.75" x2="259.90" y2="9.75"/>
<line x1="271.10" y1="366.6" x2="271.10" y2="364.6"/>
<line x1="271.10" y1="7.75" x2="271.10" y2="9.75"/>
<line x1="282.30" y1="366.6" x2="282.30" y2="364.6"/>
<line x1="282.30" y1="7.75" x2="282.30" y2="9.75"/>
<line x1="293.50" y1="366.6" x2="293.50" y2="363.40000000000003"/>
<line x1="293.50" y1="7.75" x2="293.50" y2="10.95"/>
<line x1="304.70" y1="366.6" x2="304.70" y2="364.6"/>
<line x1="304.70" y1="7.75" x2="304.70" y2="9.75"/>
<line x1="315.90" y1="366.6" x2="315.90" y2="364.6"/>
<line x1="315.90" y1="7.75" x2="315.90" y2="9.75"/>
<line x1="327.10" y1="366.6" x2="327.10" y2="364.6"/>
<line x1="327.10" y1="7.75" x2="327.10" y2="9.75"/>
<line x1="338.30" y1="366.6" x2="338.30" y2="364.6"/>
<line x1="338.30" y1="7.75" x2="338.30" y2="9.75"/>
<line x1="349.50" y1="366.6" x2="349.50" y2="363.40000000000003"/>
<line x1="349.50" y1="7.75" x2="349.50" y2="10.95"/>
<line x1="360.70" y1="366.6" x2="360.70" y2="364.6"/>
<line x1="360.70" y1="7.75" x2="360.70" y2="9.75"/>
<line x1="371.90" y1="366.6" x2="371.90" y2="364.6"/>
<line x1="371.90" y1="7.75" x2="371.90" y2="9.75"/>
<line x1="383.10" y1="366.6" x2="383.10" y2="364.6"/>
<line x1="383.10" y1="7.75" x2="383.10" y2="9.75"/>
<line x1="394.30" y1="366.6" x2="394.30" y2="364.6"/>
<line x1="394.30" y1="7.75" x2="394.30" y2="9.75"/>
<line x1="405.50" y1="366.6" x2="405.50" y2="363.40000000000003"/>
<line x1="405.50" y1="7.75" x2="405.50" y2="10.95"/>
<line x1="46.8" y1="366.60" x2="50.0" y2="366.60"/>
<line x1="405.4" y1="366.60" x2="402.2" y2="366.60"/>
<line x1="46.8" y1="348.66" x2="48.8" y2="348.66"/>
<line x1="405.4" y1="348.66" x2="403.4" y2="348.66"/>
<line x1="46.8" y1="330.72" x2="48.8" y2="330.72"/>
<line x1="405.4" y1="330.72" x2="403.4" y2="330.72"/>
<line x1="46.8" y1="312.78" x2="48.8" y2="312.78"/>
<line x1="405.4" y1="312.78" x2="403.4" y2="312.78"/>
<line x1="46.8" y1="294.84" x2="48.8" y2="294.84"/>
<line x1="405.4" y1="294.84" x2="403.4" y2="294.84"/>
<line x1="46.8" y1="276.90" x2="50.0" y2="276.90"/>
<line x1="405.4" y1="276.90" x2="402.2" y2="276.90"/>
<line x1="46.8" y1="258.96" x2="48.8" y2="258.96"/>
<line x1="405.4" y1="258.96" x2="403.4" y2="258.96"/>
<line x1="46.8" y1="241.02" x2="48.8" y2="241.02"/>
<line x1="405.4" y1="241.02" x2="403.4" y2="241.02"/>
<line x1="46.8" y1="223.08" x2="48.8" y2="223.08"/>
<line x1="405.4" y1="223.08" x2="403.4" y2="223.08"/>
<line x1="46.8" y1="205.14" x2="48.8" y2="205.14"/>
<line x1="405.4" y1="205.14" x2="403.4" y2="205.14"/>
<line x1="46.8" y1="187.20" x2="50.0" y2="187.20"/>
<line x1="405.4" y1="187.20" x2="402.2" y2="187.20"/>
<line x1="46.8" y1="169.26" x2="48.8" y2="169.26"/>
<line x1="405.4" y1="169.26" x2="403.4" y2="169.26"/>
<line x1="46.8" y1="151.32" x2="48.8" y2="151.32"/>
<line x1="405.4" y1="151.32" x2="403.4" y2="151.32"/>
<line x1="46.8" y1="133.38" x2="48.8" y2="133.38"/>
<line x1="405.4" y1="133.38" x2="403.4" y2="133.38"/>
<line x1="46.8" y1="115.44" x2="48.8" y2="115.44"/>
<line x1="405.4" y1="115.44" x2="403.4" y2="115.44"/>
<line x1="46.8" y1="97.50" x2="50.0" y2="97.50"/>
<line x1="405.4" y1="97.50" x2="402.2" y2="97.50"/>
<line x1="46.8" y1="79.56" x2="48.8" y2="79.56"/>
<line x1="405.4" y1="79.56" x2="403.4" y2="79.56"/>
<line x1="46.8" y1="61.62" x2="48.8" y2="61.62"/>
<line x1="405.4" y1="61.62" x2="403.4" y2="61.62"/>
<line x1="46.8" y1="43.68" x2="48.8" y2="43.68"/>
<line x1="405.4" y1="43.68" x2="403.4" y2="43.68"/>
<line x1="46.8" y1="25.74" x2="48.8" y2="25.74"/>
<line x1="405.4" y1="25.74" x2="403.4" y2="25.74"/>
<line x1="46.8" y1="7.80" x2="50.0" y2="7.80"/>
<line x1="405.4" y1="7.80" x2="402.2" y2="7.80"/>
</g>
<rect x="251.3" y="112.0" width="140.60" height="139.30" fill="#fff"/>
<g clip-path="url(#ci)" fill="none" stroke-width="1.7" stroke-linejoin="round">
<path d="M233.13,241.20 L236.14,241.22 L239.16,241.23 L242.19,241.25 L245.22,241.26 L248.26,241.27 L251.30,241.28 L251.30,241.28 L252.17,241.29 L253.03,241.29 L253.90,241.29 L254.75,241.30 L255.61,241.30 L256.46,241.30 L257.31,241.31 L258.16,241.31 L259.00,241.31 L259.84,241.31 L260.67,241.32 L261.50,241.32 L262.33,241.32 L263.16,241.33 L263.98,241.33 L264.80,241.33 L265.62,241.33 L266.43,241.34 L267.24,241.34 L268.05,241.34 L268.85,241.34 L269.65,241.35 L270.45,241.35 L271.25,241.35 L272.04,241.35 L272.83,241.36 L273.61,241.36 L274.39,241.36 L275.17,241.36 L275.95,241.37 L276.72,241.37 L277.49,241.37 L278.25,241.37 L279.01,241.38 L279.77,241.38 L280.53,241.38 L281.28,241.38 L282.03,241.38 L282.78,241.39 L283.53,241.39 L284.27,241.39 L285.00,241.39 L285.74,241.39 L286.47,241.40 L287.20,241.40 L287.92,241.40 L288.65,241.40 L289.37,241.40 L290.08,241.41 L290.80,241.41 L291.51,241.41 L292.21,241.41 L292.92,241.41 L293.62,241.41 L294.32,241.41 L295.01,241.42 L295.70,241.42 L296.39,241.42 L297.08,241.42 L297.76,241.42 L298.44,241.42 L299.12,241.42 L299.79,241.42 L300.46,241.42 L301.13,241.43 L301.79,241.43 L302.46,241.43 L303.11,241.43 L303.77,241.43 L304.42,241.43 L305.07,241.43 L305.72,241.43 L306.36,241.43 L307.00,241.43 L307.64,241.43 L308.28,241.43 L308.91,241.43 L309.54,241.43 L310.17,241.43 L310.79,241.44 L311.41,241.44 L312.03,241.44 L312.64,241.44 L313.25,241.44 L313.86,241.44 L314.47,241.44 L315.07,241.44 L315.67,241.44 L316.27,241.44 L316.86,241.44 L317.45,241.44 L318.04,241.44 L318.63,241.44 L319.21,241.43 L319.79,241.43 L320.37,241.43 L320.94,241.43 L321.51,241.43 L322.08,241.43 L322.65,241.43 L323.21,241.43 L323.77,241.43 L324.33,241.43 L324.88,241.43 L325.43,241.43 L325.98,241.43 L326.53,241.43 L327.07,241.42 L327.61,241.42 L328.15,241.42 L328.69,241.42 L329.22,241.42 L329.75,241.42 L330.27,241.42 L330.80,241.42 L331.32,241.42 L331.84,241.41 L332.35,241.41 L332.86,241.41 L333.37,241.41 L333.88,241.41 L334.39,241.41 L334.89,241.41 L335.39,241.40 L335.88,241.40 L336.38,241.40 L336.87,241.40 L337.36,241.40 L337.84,241.40 L338.33,241.40 L338.81,241.39 L339.28,241.39 L339.76,241.39 L340.23,241.39 L340.70,241.39 L341.17,241.39 L341.63,241.38 L342.09,241.38 L342.55,241.38 L343.01,241.38 L343.46,241.38 L343.91,241.38 L344.36,241.37 L344.81,241.37 L345.25,241.37 L345.69,241.37 L346.13,241.37 L346.56,241.37 L347.00,241.36 L347.43,241.36 L347.85,241.36 L348.28,241.36 L348.70,241.36 L349.12,241.35 L349.54,241.35 L349.95,241.35 L350.37,241.35 L350.78,241.35 L351.18,241.35 L351.59,241.34 L351.99,241.34 L352.39,241.34 L352.79,241.34 L353.18,241.34 L353.57,241.33 L353.96,241.33 L354.35,241.33 L354.73,241.33 L355.11,241.33 L355.49,241.33 L355.87,241.32 L356.25,241.32 L356.62,241.32 L356.99,241.32 L357.35,241.32 L357.72,241.31 L358.08,241.31 L358.44,241.31 L358.80,241.31 L359.15,241.31 L359.51,241.31 L359.86,241.30 L360.20,241.30 L360.55,241.30 L360.89,241.30 L361.23,241.30 L361.57,241.29 L361.91,241.29 L362.24,241.29 L362.57,241.29 L362.90,241.29 L363.23,241.29 L363.55,241.28 L363.87,241.28 L364.19,241.28 L364.51,241.28 L364.82,241.28 L365.13,241.28 L365.44,241.27 L365.75,241.27 L366.06,241.27 L366.36,241.27 L366.66,241.27 L366.96,241.26 L367.26,241.26 L367.55,241.26 L367.84,241.26 L368.13,241.26 L368.42,241.25 L368.70,241.25 L368.98,241.25 L369.26,241.25 L369.54,241.24 L369.82,241.24 L370.09,241.24 L370.36,241.24 L370.63,241.24 L370.90,241.23 L371.16,241.23 L371.43,241.23 L371.69,241.22 L371.94,241.22 L372.20,241.22 L372.45,241.22 L372.71,241.21 L372.96,241.21 L373.20,241.21 L373.45,241.20 L373.69,241.20 L373.93,241.20 L374.17,241.19 L374.41,241.19 L374.64,241.19 L374.87,241.18 L375.10,241.18 L375.33,241.18 L375.56,241.17 L375.78,241.17 L376.00,241.17 L376.22,241.16 L376.44,241.16 L376.66,241.16 L376.87,241.15 L377.08,241.15 L377.29,241.14 L377.50,241.14 L377.71,241.14 L377.91,241.13 L378.11,241.13 L378.31,241.12 L378.51,241.12 L378.70,241.11 L378.90,241.10 L379.09,241.10 L379.28,241.09 L379.47,241.08 L379.65,241.07 L379.84,241.07 L380.02,241.06 L380.20,241.05 L380.37,241.04 L380.55,241.03 L380.72,241.02 L380.90,241.01 L381.07,241.00 L381.24,240.99 L381.40,240.98 L381.57,240.96 L381.73,240.95 L381.89,240.94 L382.05,240.93 L382.21,240.92 L382.36,240.90 L382.52,240.89 L382.67,240.88 L382.82,240.86 L382.96,240.85 L383.11,240.84 L383.26,240.82 L383.40,240.81 L383.54,240.79 L383.68,240.77 L383.81,240.76 L383.95,240.74 L384.08,240.72 L384.22,240.70 L384.35,240.68 L384.47,240.65 L384.60,240.63 L384.73,240.61 L384.85,240.58 L384.97,240.55 L385.09,240.53 L385.21,240.50 L385.33,240.47 L385.44,240.44 L385.55,240.41 L385.67,240.38 L385.78,240.35 L385.88,240.32 L385.99,240.29 L386.10,240.25 L386.20,240.22 L386.30,240.18 L386.40,240.15 L386.50,240.11 L386.60,240.08 L386.69,240.04 L386.79,240.01 L386.88,239.97 L386.97,239.93 L387.06,239.90 L387.15,239.86 L387.23,239.82 L387.32,239.78 L387.40,239.74 L387.48,239.70 L387.56,239.67 L387.64,239.63 L387.72,239.59 L387.80,239.55 L387.87,239.51 L387.94,239.47 L388.02,239.43 L388.09,239.39 L388.15,239.35 L388.22,239.30 L388.29,239.25 L388.35,239.20 L388.42,239.14 L388.48,239.09 L388.54,239.02 L388.60,238.96 L388.66,238.90 L388.71,238.83 L388.77,238.76 L388.82,238.69 L388.87,238.61 L388.93,238.54 L388.98,238.46 L389.02,238.38 L389.07,238.30 L389.12,238.22 L389.16,238.14 L389.21,238.05 L389.25,237.97 L389.29,237.89 L389.33,237.80 L389.37,237.72 L389.41,237.63 L389.45,237.55 L389.48,237.47 L389.52,237.38 L389.55,237.30 L389.58,237.22 L389.61,237.13 L389.64,237.05 L389.67,236.98 L389.70,236.90 L389.73,236.83 L389.75,236.75 L389.78,236.67 L389.80,236.58 L389.83,236.49 L389.85,236.39 L389.87,236.28 L389.89,236.16 L389.91,236.03 L389.93,235.90 L389.94,235.76 L389.96,235.62 L389.98,235.47 L389.99,235.32 L390.01,235.17 L390.02,235.02 L390.03,234.86 L390.04,234.71 L390.05,234.56 L390.06,234.42 L390.07,234.28 L390.08,233.98 L390.09,233.51 L390.10,232.96 L390.10,232.38 L390.11,231.80 L390.12,231.25 L390.12,230.75 L390.12,230.30 L390.13,229.91 L390.13,229.58 L390.13,229.31 L390.14,229.08 L390.14,228.90 L390.14,228.77 L390.14,228.67 L390.14,228.60 L390.14,228.56 L390.14,228.54 L390.14,228.54 L390.14,217.00" stroke="#000000"/>
<path d="M233.13,229.75 L236.14,229.72 L239.16,229.69 L242.19,229.66 L245.22,229.64 L248.26,229.62 L251.30,229.60 L251.30,229.60 L252.18,229.60 L253.06,229.59 L253.93,229.59 L254.80,229.58 L255.66,229.58 L256.53,229.58 L257.39,229.57 L258.24,229.57 L259.09,229.56 L259.94,229.56 L260.79,229.56 L261.63,229.55 L262.47,229.55 L263.31,229.54 L264.14,229.54 L264.97,229.54 L265.80,229.53 L266.62,229.53 L267.45,229.53 L268.26,229.52 L269.08,229.52 L269.89,229.51 L270.69,229.51 L271.50,229.51 L272.30,229.50 L273.10,229.50 L273.89,229.50 L274.68,229.49 L275.47,229.49 L276.26,229.49 L277.04,229.48 L277.82,229.48 L278.59,229.48 L279.37,229.47 L280.13,229.47 L280.90,229.46 L281.66,229.46 L282.42,229.46 L283.18,229.45 L283.93,229.45 L284.68,229.45 L285.43,229.44 L286.17,229.44 L286.92,229.44 L287.65,229.43 L288.39,229.43 L289.12,229.43 L289.85,229.42 L290.57,229.42 L291.30,229.42 L292.01,229.41 L292.73,229.41 L293.44,229.41 L294.15,229.40 L294.86,229.40 L295.56,229.40 L296.26,229.39 L296.96,229.39 L297.66,229.39 L298.35,229.38 L299.04,229.38 L299.72,229.38 L300.40,229.37 L301.08,229.37 L301.76,229.37 L302.43,229.36 L303.10,229.36 L303.77,229.36 L304.43,229.35 L305.10,229.35 L305.75,229.35 L306.41,229.34 L307.06,229.34 L307.71,229.34 L308.36,229.33 L309.00,229.33 L309.64,229.33 L310.28,229.32 L310.91,229.32 L311.54,229.32 L312.17,229.31 L312.80,229.31 L313.42,229.30 L314.04,229.30 L314.65,229.30 L315.27,229.29 L315.88,229.29 L316.49,229.29 L317.09,229.28 L317.69,229.28 L318.29,229.28 L318.89,229.27 L319.48,229.27 L320.07,229.26 L320.66,229.26 L321.24,229.25 L321.82,229.25 L322.40,229.24 L322.98,229.24 L323.55,229.23 L324.12,229.23 L324.69,229.22 L325.25,229.22 L325.81,229.21 L326.37,229.21 L326.93,229.21 L327.48,229.20 L328.03,229.20 L328.58,229.19 L329.12,229.19 L329.67,229.18 L330.20,229.18 L330.74,229.18 L331.27,229.17 L331.80,229.17 L332.33,229.17 L332.86,229.16 L333.38,229.16 L333.90,229.16 L334.41,229.16 L334.93,229.15 L335.44,229.15 L335.95,229.15 L336.45,229.15 L336.95,229.15 L337.45,229.15 L337.95,229.15 L338.45,229.14 L338.94,229.14 L339.43,229.14 L339.91,229.14 L340.40,229.14 L340.88,229.15 L341.36,229.15 L341.83,229.15 L342.30,229.15 L342.77,229.15 L343.24,229.15 L343.71,229.15 L344.17,229.15 L344.63,229.15 L345.08,229.16 L345.54,229.16 L345.99,229.16 L346.44,229.16 L346.89,229.16 L347.33,229.16 L347.77,229.17 L348.21,229.17 L348.64,229.17 L349.08,229.17 L349.51,229.18 L349.93,229.18 L350.36,229.18 L350.78,229.18 L351.20,229.19 L351.62,229.19 L352.03,229.19 L352.45,229.20 L352.86,229.20 L353.26,229.20 L353.67,229.20 L354.07,229.21 L354.47,229.21 L354.87,229.21 L355.26,229.22 L355.65,229.22 L356.04,229.22 L356.43,229.23 L356.81,229.23 L357.20,229.23 L357.57,229.24 L357.95,229.24 L358.33,229.24 L358.70,229.25 L359.07,229.25 L359.43,229.25 L359.80,229.26 L360.16,229.26 L360.52,229.27 L360.88,229.27 L361.23,229.27 L361.58,229.28 L361.93,229.28 L362.28,229.28 L362.62,229.29 L362.97,229.29 L363.31,229.29 L363.64,229.30 L363.98,229.30 L364.31,229.31 L364.64,229.31 L364.97,229.31 L365.30,229.32 L365.62,229.33 L365.94,229.33 L366.26,229.34 L366.58,229.34 L366.89,229.35 L367.20,229.35 L367.51,229.36 L367.82,229.37 L368.12,229.37 L368.42,229.38 L368.72,229.39 L369.02,229.39 L369.32,229.40 L369.61,229.41 L369.90,229.42 L370.19,229.42 L370.47,229.43 L370.76,229.44 L371.04,229.45 L371.32,229.46 L371.60,229.46 L371.87,229.47 L372.14,229.48 L372.41,229.49 L372.68,229.50 L372.95,229.50 L373.21,229.51 L373.47,229.52 L373.73,229.53 L373.99,229.54 L374.24,229.55 L374.50,229.56 L374.75,229.56 L374.99,229.57 L375.24,229.58 L375.48,229.59 L375.73,229.60 L375.97,229.61 L376.20,229.62 L376.44,229.63 L376.67,229.63 L376.90,229.64 L377.13,229.65 L377.36,229.66 L377.58,229.67 L377.81,229.68 L378.03,229.69 L378.24,229.70 L378.46,229.71 L378.68,229.72 L378.89,229.73 L379.10,229.74 L379.31,229.75 L379.51,229.76 L379.72,229.77 L379.92,229.78 L380.12,229.79 L380.32,229.81 L380.51,229.82 L380.71,229.83 L380.90,229.84 L381.09,229.85 L381.28,229.86 L381.46,229.88 L381.65,229.89 L381.83,229.90 L382.01,229.91 L382.19,229.92 L382.36,229.94 L382.54,229.95 L382.71,229.96 L382.88,229.98 L383.05,229.99 L383.22,230.00 L383.38,230.02 L383.54,230.03 L383.70,230.04 L383.86,230.06 L384.02,230.07 L384.18,230.08 L384.33,230.10 L384.48,230.11 L384.63,230.13 L384.78,230.14 L384.93,230.16 L385.07,230.17 L385.21,230.18 L385.35,230.20 L385.49,230.21 L385.63,230.23 L385.76,230.24 L385.90,230.26 L386.03,230.27 L386.16,230.29 L386.29,230.30 L386.42,230.32 L386.54,230.33 L386.66,230.35 L386.79,230.37 L386.91,230.39 L387.02,230.40 L387.14,230.42 L387.25,230.44 L387.37,230.46 L387.48,230.48 L387.59,230.50 L387.70,230.52 L387.80,230.54 L387.91,230.56 L388.01,230.58 L388.11,230.60 L388.21,230.63 L388.31,230.65 L388.41,230.67 L388.50,230.70 L388.60,230.72 L388.69,230.74 L388.78,230.77 L388.87,230.79 L388.95,230.82 L389.04,230.84 L389.13,230.87 L389.21,230.90 L389.29,230.92 L389.37,230.95 L389.45,230.97 L389.52,231.00 L389.60,231.03 L389.67,231.05 L389.75,231.08 L389.82,231.11 L389.89,231.14 L389.96,231.16 L390.02,231.19 L390.09,231.22 L390.15,231.24 L390.21,231.27 L390.28,231.30 L390.34,231.34 L390.39,231.38 L390.45,231.42 L390.51,231.47 L390.56,231.52 L390.62,231.58 L390.67,231.63 L390.72,231.69 L390.77,231.75 L390.82,231.81 L390.86,231.87 L390.91,231.94 L390.95,232.00 L391.00,232.06 L391.04,232.12 L391.08,232.19 L391.12,232.25 L391.16,232.31 L391.19,232.37 L391.23,232.42 L391.27,232.48 L391.30,232.54 L391.33,232.59 L391.36,232.64 L391.39,232.69 L391.42,232.74 L391.45,232.79 L391.48,232.84 L391.51,232.88 L391.53,232.92 L391.56,232.97 L391.58,233.01 L391.60,233.04 L391.62,233.08 L391.64,233.12 L391.66,233.15 L391.68,233.18 L391.70,233.21 L391.72,233.24 L391.73,233.27 L391.75,233.29 L391.76,233.32 L391.78,233.34 L391.79,233.36 L391.80,233.38 L391.81,233.40 L391.82,233.41 L391.83,233.43 L391.84,233.44 L391.85,233.46 L391.85,233.47 L391.86,233.48 L391.87,233.49 L391.87,233.50 L391.88,233.51 L391.88,233.52 L391.89,233.52 L391.89,233.53 L391.89,233.53 L391.89,233.54 L391.90,233.54 L391.90,233.54 L391.90,233.54 L391.90,233.54 L391.90,233.54 L391.90,233.55 L391.90,233.55" stroke="#ff0d0d"/>
<path d="M233.13,225.04 L236.14,225.05 L239.16,225.05 L242.19,225.05 L245.22,225.05 L248.26,225.05 L251.30,225.05 L251.30,225.05 L252.18,225.05 L253.06,225.05 L253.93,225.04 L254.80,225.04 L255.66,225.03 L256.53,225.03 L257.39,225.02 L258.24,225.01 L259.09,225.01 L259.94,225.00 L260.79,224.99 L261.63,224.97 L262.47,224.96 L263.31,224.95 L264.14,224.94 L264.97,224.92 L265.80,224.91 L266.62,224.89 L267.45,224.87 L268.26,224.86 L269.08,224.84 L269.89,224.82 L270.69,224.80 L271.50,224.78 L272.30,224.76 L273.10,224.74 L273.89,224.72 L274.68,224.70 L275.47,224.67 L276.26,224.65 L277.04,224.63 L277.82,224.60 L278.59,224.58 L279.37,224.55 L280.13,224.53 L280.90,224.50 L281.66,224.47 L282.42,224.45 L283.18,224.42 L283.93,224.39 L284.68,224.36 L285.43,224.34 L286.17,224.31 L286.92,224.28 L287.65,224.25 L288.39,224.22 L289.12,224.19 L289.85,224.16 L290.57,224.13 L291.30,224.10 L292.01,224.07 L292.73,224.04 L293.44,224.00 L294.15,223.97 L294.86,223.94 L295.56,223.91 L296.26,223.88 L296.96,223.84 L297.66,223.81 L298.35,223.78 L299.04,223.75 L299.72,223.71 L300.40,223.68 L301.08,223.65 L301.76,223.61 L302.43,223.58 L303.10,223.55 L303.77,223.51 L304.43,223.48 L305.10,223.45 L305.75,223.41 L306.41,223.38 L307.06,223.35 L307.71,223.31 L308.36,223.28 L309.00,223.24 L309.64,223.21 L310.28,223.18 L310.91,223.14 L311.54,223.11 L312.17,223.08 L312.80,223.04 L313.42,223.01 L314.04,222.97 L314.65,222.94 L315.27,222.91 L315.88,222.87 L316.49,222.83 L317.09,222.79 L317.69,222.75 L318.29,222.71 L318.89,222.66 L319.48,222.61 L320.07,222.56 L320.66,222.51 L321.24,222.45 L321.82,222.40 L322.40,222.34 L322.98,222.28 L323.55,222.22 L324.12,222.16 L324.69,222.10 L325.25,222.04 L325.81,221.98 L326.37,221.91 L326.93,221.85 L327.48,221.78 L328.03,221.71 L328.58,221.64 L329.12,221.57 L329.67,221.50 L330.20,221.42 L330.74,221.34 L331.27,221.26 L331.80,221.17 L332.33,221.08 L332.86,220.99 L333.38,220.90 L333.90,220.81 L334.41,220.71 L334.93,220.62 L335.44,220.52 L335.95,220.42 L336.45,220.32 L336.95,220.22 L337.45,220.12 L337.95,220.02 L338.45,219.92 L338.94,219.82 L339.43,219.71 L339.91,219.61 L340.40,219.50 L340.88,219.39 L341.36,219.28 L341.83,219.17 L342.30,219.06 L342.77,218.94 L343.24,218.83 L343.71,218.71 L344.17,218.59 L344.63,218.47 L345.08,218.35 L345.54,218.23 L345.99,218.10 L346.44,217.98 L346.89,217.86 L347.33,217.73 L347.77,217.61 L348.21,217.48 L348.64,217.36 L349.08,217.23 L349.51,217.11 L349.93,216.98 L350.36,216.86 L350.78,216.73 L351.20,216.61 L351.62,216.49 L352.03,216.36 L352.45,216.24 L352.86,216.12 L353.26,215.99 L353.67,215.87 L354.07,215.74 L354.47,215.62 L354.87,215.50 L355.26,215.37 L355.65,215.25 L356.04,215.12 L356.43,215.00 L356.81,214.87 L357.20,214.75 L357.57,214.62 L357.95,214.49 L358.33,214.37 L358.70,214.24 L359.07,214.11 L359.43,213.98 L359.80,213.85 L360.16,213.72 L360.52,213.59 L360.88,213.46 L361.23,213.33 L361.58,213.20 L361.93,213.07 L362.28,212.93 L362.62,212.80 L362.97,212.66 L363.31,212.53 L363.64,212.39 L363.98,212.26 L364.31,212.12 L364.64,211.98 L364.97,211.85 L365.30,211.71 L365.62,211.57 L365.94,211.43 L366.26,211.30 L366.58,211.16 L366.89,211.02 L367.20,210.88 L367.51,210.74 L367.82,210.60 L368.12,210.46 L368.42,210.32 L368.72,210.18 L369.02,210.03 L369.32,209.89 L369.61,209.75 L369.90,209.61 L370.19,209.46 L370.47,209.32 L370.76,209.17 L371.04,209.03 L371.32,208.89 L371.60,208.74 L371.87,208.60 L372.14,208.45 L372.41,208.30 L372.68,208.16 L372.95,208.01 L373.21,207.86 L373.47,207.72 L373.73,207.57 L373.99,207.42 L374.24,207.27 L374.50,207.13 L374.75,206.98 L374.99,206.83 L375.24,206.68 L375.48,206.53 L375.73,206.39 L375.97,206.24 L376.20,206.09 L376.44,205.94 L376.67,205.78 L376.90,205.63 L377.13,205.48 L377.36,205.33 L377.58,205.17 L377.81,205.02 L378.03,204.86 L378.24,204.71 L378.46,204.55 L378.68,204.40 L378.89,204.24 L379.10,204.09 L379.31,203.93 L379.51,203.78 L379.72,203.62 L379.92,203.46 L380.12,203.31 L380.32,203.15 L380.51,203.00 L380.71,202.84 L380.90,202.69 L381.09,202.53 L381.28,202.38 L381.46,202.22 L381.65,202.07 L381.83,201.92 L382.01,201.76 L382.19,201.61 L382.36,201.46 L382.54,201.31 L382.71,201.16 L382.88,201.01 L383.05,200.86 L383.22,200.71 L383.38,200.56 L383.54,200.42 L383.70,200.27 L383.86,200.12 L384.02,199.98 L384.18,199.84 L384.33,199.69 L384.48,199.55 L384.63,199.41 L384.78,199.27 L384.93,199.13 L385.07,198.99 L385.21,198.86 L385.35,198.72 L385.49,198.58 L385.63,198.45 L385.76,198.32 L385.90,198.18 L386.03,198.05 L386.16,197.92 L386.29,197.79 L386.42,197.66 L386.54,197.53 L386.66,197.40 L386.79,197.27 L386.91,197.14 L387.02,197.01 L387.14,196.88 L387.25,196.76 L387.37,196.63 L387.48,196.51 L387.59,196.38 L387.70,196.26 L387.80,196.14 L387.91,196.01 L388.01,195.89 L388.11,195.77 L388.21,195.65 L388.31,195.53 L388.41,195.42 L388.50,195.30 L388.60,195.18 L388.69,195.07 L388.78,194.96 L388.87,194.84 L388.95,194.73 L389.04,194.62 L389.13,194.51 L389.21,194.41 L389.29,194.30 L389.37,194.19 L389.45,194.09 L389.52,193.99 L389.60,193.88 L389.67,193.78 L389.75,193.68 L389.82,193.59 L389.89,193.49 L389.96,193.39 L390.02,193.30 L390.09,193.21 L390.15,193.12 L390.21,193.03 L390.28,192.94 L390.34,192.85 L390.39,192.76 L390.45,192.67 L390.51,192.59 L390.56,192.50 L390.62,192.41 L390.67,192.33 L390.72,192.25 L390.77,192.17 L390.82,192.09 L390.86,192.01 L390.91,191.93 L390.95,191.85 L391.00,191.78 L391.04,191.71 L391.08,191.63 L391.12,191.57 L391.16,191.50 L391.19,191.43 L391.23,191.37 L391.27,191.30 L391.30,191.24 L391.33,191.18 L391.36,191.13 L391.39,191.07 L391.42,191.02 L391.45,190.97 L391.48,190.92 L391.51,190.87 L391.53,190.82 L391.56,190.78 L391.58,190.74 L391.60,190.69 L391.62,190.65 L391.64,190.62 L391.66,190.58 L391.68,190.55 L391.70,190.51 L391.72,190.48 L391.73,190.45 L391.75,190.43 L391.76,190.40 L391.78,190.38 L391.79,190.35 L391.80,190.33 L391.81,190.31 L391.82,190.29 L391.83,190.27 L391.84,190.26 L391.85,190.24 L391.85,190.23 L391.86,190.22 L391.87,190.20 L391.87,190.19 L391.88,190.19 L391.88,190.18 L391.89,190.17 L391.89,190.16 L391.89,190.16 L391.89,190.16 L391.90,190.15 L391.90,190.15 L391.90,190.15 L391.90,190.15 L391.90,190.15 L391.90,190.14 L391.90,190.14" stroke="#32cd32"/>
<path d="M233.13,217.65 L236.14,217.64 L239.16,217.63 L242.19,217.62 L245.22,217.62 L248.26,217.61 L251.30,217.61 L251.30,217.61 L252.18,217.61 L253.06,217.61 L253.93,217.61 L254.80,217.62 L255.66,217.62 L256.53,217.62 L257.39,217.63 L258.24,217.63 L259.09,217.64 L259.94,217.64 L260.79,217.65 L261.63,217.66 L262.47,217.66 L263.31,217.67 L264.14,217.68 L264.97,217.68 L265.80,217.69 L266.62,217.70 L267.45,217.71 L268.26,217.72 L269.08,217.73 L269.89,217.74 L270.69,217.75 L271.50,217.76 L272.30,217.77 L273.10,217.78 L273.89,217.79 L274.68,217.80 L275.47,217.81 L276.26,217.82 L277.04,217.84 L277.82,217.85 L278.59,217.86 L279.37,217.87 L280.13,217.88 L280.90,217.89 L281.66,217.91 L282.42,217.92 L283.18,217.93 L283.93,217.94 L284.68,217.95 L285.43,217.97 L286.17,217.98 L286.92,217.99 L287.65,218.00 L288.39,218.01 L289.12,218.03 L289.85,218.04 L290.57,218.05 L291.30,218.06 L292.01,218.07 L292.73,218.08 L293.44,218.10 L294.15,218.11 L294.86,218.12 L295.56,218.13 L296.26,218.14 L296.96,218.15 L297.66,218.16 L298.35,218.17 L299.04,218.18 L299.72,218.19 L300.40,218.20 L301.08,218.21 L301.76,218.22 L302.43,218.23 L303.10,218.24 L303.77,218.25 L304.43,218.26 L305.10,218.27 L305.75,218.27 L306.41,218.28 L307.06,218.29 L307.71,218.30 L308.36,218.31 L309.00,218.31 L309.64,218.32 L310.28,218.33 L310.91,218.33 L311.54,218.34 L312.17,218.35 L312.80,218.35 L313.42,218.36 L314.04,218.36 L314.65,218.37 L315.27,218.37 L315.88,218.38 L316.49,218.38 L317.09,218.39 L317.69,218.39 L318.29,218.40 L318.89,218.40 L319.48,218.41 L320.07,218.41 L320.66,218.42 L321.24,218.42 L321.82,218.43 L322.40,218.43 L322.98,218.44 L323.55,218.44 L324.12,218.45 L324.69,218.45 L325.25,218.46 L325.81,218.46 L326.37,218.46 L326.93,218.47 L327.48,218.47 L328.03,218.48 L328.58,218.48 L329.12,218.48 L329.67,218.49 L330.20,218.49 L330.74,218.49 L331.27,218.50 L331.80,218.50 L332.33,218.50 L332.86,218.51 L333.38,218.51 L333.90,218.51 L334.41,218.51 L334.93,218.51 L335.44,218.52 L335.95,218.52 L336.45,218.52 L336.95,218.52 L337.45,218.52 L337.95,218.52 L338.45,218.52 L338.94,218.52 L339.43,218.52 L339.91,218.52 L340.40,218.52 L340.88,218.52 L341.36,218.52 L341.83,218.52 L342.30,218.52 L342.77,218.52 L343.24,218.52 L343.71,218.52 L344.17,218.52 L344.63,218.52 L345.08,218.52 L345.54,218.52 L345.99,218.52 L346.44,218.52 L346.89,218.52 L347.33,218.52 L347.77,218.52 L348.21,218.52 L348.64,218.52 L349.08,218.52 L349.51,218.52 L349.93,218.52 L350.36,218.52 L350.78,218.52 L351.20,218.52 L351.62,218.52 L352.03,218.52 L352.45,218.52 L352.86,218.52 L353.26,218.52 L353.67,218.52 L354.07,218.52 L354.47,218.52 L354.87,218.52 L355.26,218.52 L355.65,218.52 L356.04,218.52 L356.43,218.52 L356.81,218.52 L357.20,218.52 L357.57,218.52 L357.95,218.52 L358.33,218.52 L358.70,218.52 L359.07,218.52 L359.43,218.52 L359.80,218.52 L360.16,218.52 L360.52,218.52 L360.88,218.52 L361.23,218.52 L361.58,218.52 L361.93,218.52 L362.28,218.52 L362.62,218.52 L362.97,218.52 L363.31,218.52 L363.64,218.52 L363.98,218.52 L364.31,218.52 L364.64,218.52 L364.97,218.52 L365.30,218.52 L365.62,218.52 L365.94,218.51 L366.26,218.51 L366.58,218.51 L366.89,218.51 L367.20,218.51 L367.51,218.50 L367.82,218.50 L368.12,218.50 L368.42,218.49 L368.72,218.49 L369.02,218.49 L369.32,218.48 L369.61,218.48 L369.90,218.47 L370.19,218.47 L370.47,218.47 L370.76,218.46 L371.04,218.46 L371.32,218.45 L371.60,218.45 L371.87,218.44 L372.14,218.44 L372.41,218.44 L372.68,218.43 L372.95,218.43 L373.21,218.42 L373.47,218.42 L373.73,218.41 L373.99,218.41 L374.24,218.40 L374.50,218.40 L374.75,218.39 L374.99,218.39 L375.24,218.38 L375.48,218.38 L375.73,218.37 L375.97,218.37 L376.20,218.36 L376.44,218.35 L376.67,218.35 L376.90,218.34 L377.13,218.33 L377.36,218.33 L377.58,218.32 L377.81,218.31 L378.03,218.30 L378.24,218.30 L378.46,218.29 L378.68,218.28 L378.89,218.27 L379.10,218.26 L379.31,218.25 L379.51,218.24 L379.72,218.23 L379.92,218.22 L380.12,218.21 L380.32,218.20 L380.51,218.18 L380.71,218.17 L380.90,218.16 L381.09,218.15 L381.28,218.14 L381.46,218.12 L381.65,218.11 L381.83,218.10 L382.01,218.09 L382.19,218.07 L382.36,218.06 L382.54,218.04 L382.71,218.03 L382.88,218.02 L383.05,218.00 L383.22,217.99 L383.38,217.97 L383.54,217.96 L383.70,217.94 L383.86,217.93 L384.02,217.91 L384.18,217.90 L384.33,217.88 L384.48,217.87 L384.63,217.85 L384.78,217.84 L384.93,217.82 L385.07,217.80 L385.21,217.79 L385.35,217.77 L385.49,217.76 L385.63,217.74 L385.76,217.72 L385.90,217.70 L386.03,217.67 L386.16,217.65 L386.29,217.62 L386.42,217.59 L386.54,217.56 L386.66,217.53 L386.79,217.49 L386.91,217.46 L387.02,217.43 L387.14,217.39 L387.25,217.35 L387.37,217.32 L387.48,217.28 L387.59,217.24 L387.70,217.20 L387.80,217.16 L387.91,217.13 L388.01,217.09 L388.11,217.05 L388.21,217.01 L388.31,216.97 L388.41,216.93 L388.50,216.89 L388.60,216.85 L388.69,216.81 L388.78,216.77 L388.87,216.73 L388.95,216.69 L389.04,216.65 L389.13,216.61 L389.21,216.58 L389.29,216.54 L389.37,216.50 L389.45,216.47 L389.52,216.43 L389.60,216.39 L389.67,216.36 L389.75,216.32 L389.82,216.29 L389.89,216.25 L389.96,216.22 L390.02,216.19 L390.09,216.16 L390.15,216.12 L390.21,216.09 L390.28,216.06 L390.34,216.03 L390.39,216.00 L390.45,215.96 L390.51,215.93 L390.56,215.90 L390.62,215.86 L390.67,215.83 L390.72,215.80 L390.77,215.76 L390.82,215.73 L390.86,215.70 L390.91,215.66 L390.95,215.63 L391.00,215.60 L391.04,215.57 L391.08,215.54 L391.12,215.51 L391.16,215.48 L391.19,215.45 L391.23,215.42 L391.27,215.39 L391.30,215.37 L391.33,215.34 L391.36,215.32 L391.39,215.29 L391.42,215.27 L391.45,215.24 L391.48,215.22 L391.51,215.20 L391.53,215.18 L391.56,215.16 L391.58,215.14 L391.60,215.12 L391.62,215.11 L391.64,215.09 L391.66,215.07 L391.68,215.06 L391.70,215.04 L391.72,215.03 L391.73,215.02 L391.75,215.00 L391.76,214.99 L391.78,214.98 L391.79,214.97 L391.80,214.96 L391.81,214.95 L391.82,214.94 L391.83,214.94 L391.84,214.93 L391.85,214.92 L391.85,214.92 L391.86,214.91 L391.87,214.91 L391.87,214.90 L391.88,214.90 L391.88,214.89 L391.89,214.89 L391.89,214.89 L391.89,214.89 L391.89,214.88 L391.90,214.88 L391.90,214.88 L391.90,214.88 L391.90,214.88 L391.90,214.88 L391.90,214.88 L391.90,214.88" stroke="#0a0aff"/>
<path d="M233.13,205.63 L236.14,205.54 L239.16,205.44 L242.19,205.34 L245.22,205.24 L248.26,205.13 L251.30,205.02 L251.30,205.02 L252.18,204.98 L253.06,204.95 L253.93,204.91 L254.80,204.87 L255.66,204.83 L256.53,204.79 L257.39,204.75 L258.24,204.71 L259.09,204.66 L259.94,204.62 L260.79,204.57 L261.63,204.52 L262.47,204.47 L263.31,204.42 L264.14,204.37 L264.97,204.31 L265.80,204.26 L266.62,204.21 L267.45,204.15 L268.26,204.09 L269.08,204.04 L269.89,203.98 L270.69,203.92 L271.50,203.86 L272.30,203.80 L273.10,203.74 L273.89,203.68 L274.68,203.62 L275.47,203.55 L276.26,203.49 L277.04,203.43 L277.82,203.36 L278.59,203.30 L279.37,203.23 L280.13,203.17 L280.90,203.10 L281.66,203.04 L282.42,202.97 L283.18,202.91 L283.93,202.84 L284.68,202.78 L285.43,202.71 L286.17,202.64 L286.92,202.58 L287.65,202.51 L288.39,202.45 L289.12,202.38 L289.85,202.31 L290.57,202.25 L291.30,202.18 L292.01,202.11 L292.73,202.05 L293.44,201.98 L294.15,201.92 L294.86,201.85 L295.56,201.79 L296.26,201.72 L296.96,201.65 L297.66,201.59 L298.35,201.53 L299.04,201.46 L299.72,201.40 L300.40,201.33 L301.08,201.27 L301.76,201.21 L302.43,201.15 L303.10,201.08 L303.77,201.02 L304.43,200.96 L305.10,200.90 L305.75,200.84 L306.41,200.78 L307.06,200.72 L307.71,200.66 L308.36,200.60 L309.00,200.54 L309.64,200.48 L310.28,200.43 L310.91,200.37 L311.54,200.31 L312.17,200.26 L312.80,200.20 L313.42,200.15 L314.04,200.09 L314.65,200.04 L315.27,199.98 L315.88,199.93 L316.49,199.88 L317.09,199.83 L317.69,199.78 L318.29,199.73 L318.89,199.68 L319.48,199.63 L320.07,199.58 L320.66,199.53 L321.24,199.48 L321.82,199.43 L322.40,199.38 L322.98,199.32 L323.55,199.27 L324.12,199.22 L324.69,199.16 L325.25,199.10 L325.81,199.05 L326.37,198.99 L326.93,198.93 L327.48,198.86 L328.03,198.80 L328.58,198.73 L329.12,198.66 L329.67,198.59 L330.20,198.52 L330.74,198.44 L331.27,198.36 L331.80,198.28 L332.33,198.20 L332.86,198.12 L333.38,198.04 L333.90,197.95 L334.41,197.86 L334.93,197.78 L335.44,197.69 L335.95,197.60 L336.45,197.51 L336.95,197.41 L337.45,197.32 L337.95,197.23 L338.45,197.14 L338.94,197.05 L339.43,196.95 L339.91,196.86 L340.40,196.77 L340.88,196.67 L341.36,196.58 L341.83,196.49 L342.30,196.39 L342.77,196.30 L343.24,196.20 L343.71,196.11 L344.17,196.02 L344.63,195.92 L345.08,195.83 L345.54,195.73 L345.99,195.63 L346.44,195.54 L346.89,195.44 L347.33,195.35 L347.77,195.25 L348.21,195.15 L348.64,195.05 L349.08,194.96 L349.51,194.86 L349.93,194.76 L350.36,194.66 L350.78,194.56 L351.20,194.46 L351.62,194.36 L352.03,194.26 L352.45,194.16 L352.86,194.06 L353.26,193.96 L353.67,193.86 L354.07,193.76 L354.47,193.65 L354.87,193.55 L355.26,193.45 L355.65,193.35 L356.04,193.24 L356.43,193.14 L356.81,193.04 L357.20,192.93 L357.57,192.83 L357.95,192.72 L358.33,192.62 L358.70,192.51 L359.07,192.40 L359.43,192.30 L359.80,192.19 L360.16,192.09 L360.52,191.98 L360.88,191.87 L361.23,191.76 L361.58,191.66 L361.93,191.55 L362.28,191.44 L362.62,191.33 L362.97,191.23 L363.31,191.12 L363.64,191.01 L363.98,190.90 L364.31,190.79 L364.64,190.68 L364.97,190.57 L365.30,190.45 L365.62,190.34 L365.94,190.22 L366.26,190.11 L366.58,189.99 L366.89,189.87 L367.20,189.75 L367.51,189.63 L367.82,189.51 L368.12,189.39 L368.42,189.26 L368.72,189.14 L369.02,189.01 L369.32,188.88 L369.61,188.75 L369.90,188.62 L370.19,188.49 L370.47,188.36 L370.76,188.22 L371.04,188.09 L371.32,187.95 L371.60,187.81 L371.87,187.67 L372.14,187.53 L372.41,187.39 L372.68,187.24 L372.95,187.10 L373.21,186.95 L373.47,186.81 L373.73,186.66 L373.99,186.51 L374.24,186.35 L374.50,186.20 L374.75,186.05 L374.99,185.89 L375.24,185.74 L375.48,185.58 L375.73,185.42 L375.97,185.26 L376.20,185.10 L376.44,184.94 L376.67,184.77 L376.90,184.61 L377.13,184.44 L377.36,184.28 L377.58,184.11 L377.81,183.94 L378.03,183.77 L378.24,183.60 L378.46,183.43 L378.68,183.26 L378.89,183.09 L379.10,182.91 L379.31,182.74 L379.51,182.57 L379.72,182.39 L379.92,182.22 L380.12,182.04 L380.32,181.86 L380.51,181.69 L380.71,181.51 L380.90,181.33 L381.09,181.16 L381.28,180.98 L381.46,180.80 L381.65,180.62 L381.83,180.44 L382.01,180.27 L382.19,180.09 L382.36,179.91 L382.54,179.73 L382.71,179.55 L382.88,179.38 L383.05,179.20 L383.22,179.02 L383.38,178.84 L383.54,178.67 L383.70,178.49 L383.86,178.31 L384.02,178.14 L384.18,177.96 L384.33,177.79 L384.48,177.61 L384.63,177.44 L384.78,177.27 L384.93,177.10 L385.07,176.92 L385.21,176.75 L385.35,176.58 L385.49,176.41 L385.63,176.24 L385.76,176.07 L385.90,175.89 L386.03,175.71 L386.16,175.52 L386.29,175.34 L386.42,175.15 L386.54,174.96 L386.66,174.77 L386.79,174.58 L386.91,174.39 L387.02,174.20 L387.14,174.01 L387.25,173.81 L387.37,173.62 L387.48,173.43 L387.59,173.23 L387.70,173.04 L387.80,172.85 L387.91,172.66 L388.01,172.47 L388.11,172.28 L388.21,172.09 L388.31,171.90 L388.41,171.72 L388.50,171.53 L388.60,171.35 L388.69,171.17 L388.78,170.99 L388.87,170.81 L388.95,170.64 L389.04,170.46 L389.13,170.29 L389.21,170.12 L389.29,169.95 L389.37,169.79 L389.45,169.62 L389.52,169.46 L389.60,169.30 L389.67,169.15 L389.75,168.99 L389.82,168.84 L389.89,168.69 L389.96,168.55 L390.02,168.40 L390.09,168.26 L390.15,168.12 L390.21,167.99 L390.28,167.85 L390.34,167.72 L390.39,167.58 L390.45,167.45 L390.51,167.32 L390.56,167.19 L390.62,167.06 L390.67,166.93 L390.72,166.80 L390.77,166.68 L390.82,166.55 L390.86,166.43 L390.91,166.32 L390.95,166.20 L391.00,166.09 L391.04,165.97 L391.08,165.87 L391.12,165.76 L391.16,165.66 L391.19,165.55 L391.23,165.46 L391.27,165.36 L391.30,165.27 L391.33,165.18 L391.36,165.09 L391.39,165.01 L391.42,164.92 L391.45,164.85 L391.48,164.77 L391.51,164.70 L391.53,164.62 L391.56,164.56 L391.58,164.49 L391.60,164.43 L391.62,164.37 L391.64,164.31 L391.66,164.26 L391.68,164.20 L391.70,164.15 L391.72,164.11 L391.73,164.06 L391.75,164.02 L391.76,163.98 L391.78,163.94 L391.79,163.91 L391.80,163.87 L391.81,163.84 L391.82,163.81 L391.83,163.79 L391.84,163.76 L391.85,163.74 L391.85,163.72 L391.86,163.70 L391.87,163.68 L391.87,163.66 L391.88,163.65 L391.88,163.64 L391.89,163.63 L391.89,163.62 L391.89,163.61 L391.89,163.60 L391.90,163.60 L391.90,163.60 L391.90,163.59 L391.90,163.59 L391.90,163.59 L391.90,163.59 L391.90,163.59" stroke="#ff0aff"/>
<path d="M233.13,206.26 L236.14,206.25 L239.16,206.24 L242.19,206.24 L245.22,206.23 L248.26,206.23 L251.30,206.23 L251.30,206.23 L252.18,206.23 L253.06,206.23 L253.93,206.23 L254.80,206.23 L255.66,206.23 L256.53,206.23 L257.39,206.23 L258.24,206.24 L259.09,206.24 L259.94,206.24 L260.79,206.24 L261.63,206.24 L262.47,206.24 L263.31,206.24 L264.14,206.25 L264.97,206.25 L265.80,206.25 L266.62,206.25 L267.45,206.25 L268.26,206.26 L269.08,206.26 L269.89,206.26 L270.69,206.26 L271.50,206.27 L272.30,206.27 L273.10,206.27 L273.89,206.27 L274.68,206.28 L275.47,206.28 L276.26,206.28 L277.04,206.28 L277.82,206.29 L278.59,206.29 L279.37,206.29 L280.13,206.30 L280.90,206.30 L281.66,206.30 L282.42,206.30 L283.18,206.31 L283.93,206.31 L284.68,206.31 L285.43,206.31 L286.17,206.32 L286.92,206.32 L287.65,206.32 L288.39,206.32 L289.12,206.33 L289.85,206.33 L290.57,206.33 L291.30,206.33 L292.01,206.34 L292.73,206.34 L293.44,206.34 L294.15,206.34 L294.86,206.35 L295.56,206.35 L296.26,206.35 L296.96,206.35 L297.66,206.35 L298.35,206.36 L299.04,206.36 L299.72,206.36 L300.40,206.36 L301.08,206.36 L301.76,206.37 L302.43,206.37 L303.10,206.37 L303.77,206.37 L304.43,206.37 L305.10,206.37 L305.75,206.37 L306.41,206.37 L307.06,206.38 L307.71,206.38 L308.36,206.38 L309.00,206.38 L309.64,206.38 L310.28,206.38 L310.91,206.38 L311.54,206.38 L312.17,206.38 L312.80,206.38 L313.42,206.38 L314.04,206.38 L314.65,206.38 L315.27,206.38 L315.88,206.38 L316.49,206.38 L317.09,206.38 L317.69,206.38 L318.29,206.38 L318.89,206.38 L319.48,206.38 L320.07,206.37 L320.66,206.37 L321.24,206.37 L321.82,206.37 L322.40,206.37 L322.98,206.36 L323.55,206.36 L324.12,206.36 L324.69,206.36 L325.25,206.35 L325.81,206.35 L326.37,206.35 L326.93,206.34 L327.48,206.34 L328.03,206.33 L328.58,206.33 L329.12,206.33 L329.67,206.32 L330.20,206.32 L330.74,206.31 L331.27,206.31 L331.80,206.31 L332.33,206.30 L332.86,206.30 L333.38,206.29 L333.90,206.29 L334.41,206.28 L334.93,206.28 L335.44,206.27 L335.95,206.27 L336.45,206.26 L336.95,206.26 L337.45,206.25 L337.95,206.25 L338.45,206.24 L338.94,206.23 L339.43,206.23 L339.91,206.22 L340.40,206.21 L340.88,206.21 L341.36,206.20 L341.83,206.18 L342.30,206.17 L342.77,206.16 L343.24,206.14 L343.71,206.13 L344.17,206.11 L344.63,206.09 L345.08,206.07 L345.54,206.05 L345.99,206.03 L346.44,206.01 L346.89,205.99 L347.33,205.97 L347.77,205.95 L348.21,205.92 L348.64,205.90 L349.08,205.87 L349.51,205.85 L349.93,205.82 L350.36,205.79 L350.78,205.77 L351.20,205.74 L351.62,205.71 L352.03,205.68 L352.45,205.65 L352.86,205.62 L353.26,205.59 L353.67,205.56 L354.07,205.53 L354.47,205.50 L354.87,205.47 L355.26,205.44 L355.65,205.41 L356.04,205.38 L356.43,205.35 L356.81,205.31 L357.20,205.28 L357.57,205.25 L357.95,205.22 L358.33,205.18 L358.70,205.15 L359.07,205.12 L359.43,205.09 L359.80,205.06 L360.16,205.02 L360.52,204.99 L360.88,204.96 L361.23,204.92 L361.58,204.89 L361.93,204.86 L362.28,204.83 L362.62,204.80 L362.97,204.76 L363.31,204.73 L363.64,204.70 L363.98,204.67 L364.31,204.63 L364.64,204.60 L364.97,204.56 L365.30,204.53 L365.62,204.49 L365.94,204.46 L366.26,204.42 L366.58,204.38 L366.89,204.34 L367.20,204.30 L367.51,204.26 L367.82,204.22 L368.12,204.18 L368.42,204.14 L368.72,204.10 L369.02,204.05 L369.32,204.01 L369.61,203.96 L369.90,203.92 L370.19,203.87 L370.47,203.82 L370.76,203.78 L371.04,203.73 L371.32,203.68 L371.60,203.63 L371.87,203.58 L372.14,203.53 L372.41,203.47 L372.68,203.42 L372.95,203.37 L373.21,203.31 L373.47,203.26 L373.73,203.20 L373.99,203.15 L374.24,203.09 L374.50,203.03 L374.75,202.98 L374.99,202.92 L375.24,202.86 L375.48,202.80 L375.73,202.74 L375.97,202.68 L376.20,202.62 L376.44,202.55 L376.67,202.48 L376.90,202.41 L377.13,202.33 L377.36,202.25 L377.58,202.17 L377.81,202.09 L378.03,202.01 L378.24,201.92 L378.46,201.84 L378.68,201.75 L378.89,201.66 L379.10,201.57 L379.31,201.47 L379.51,201.38 L379.72,201.28 L379.92,201.19 L380.12,201.09 L380.32,200.99 L380.51,200.89 L380.71,200.79 L380.90,200.69 L381.09,200.59 L381.28,200.49 L381.46,200.39 L381.65,200.28 L381.83,200.18 L382.01,200.08 L382.19,199.97 L382.36,199.87 L382.54,199.77 L382.71,199.66 L382.88,199.56 L383.05,199.46 L383.22,199.35 L383.38,199.25 L383.54,199.15 L383.70,199.04 L383.86,198.94 L384.02,198.84 L384.18,198.74 L384.33,198.63 L384.48,198.53 L384.63,198.43 L384.78,198.33 L384.93,198.23 L385.07,198.13 L385.21,198.04 L385.35,197.94 L385.49,197.84 L385.63,197.74 L385.76,197.64 L385.90,197.54 L386.03,197.44 L386.16,197.34 L386.29,197.24 L386.42,197.13 L386.54,197.03 L386.66,196.92 L386.79,196.82 L386.91,196.71 L387.02,196.60 L387.14,196.50 L387.25,196.39 L387.37,196.28 L387.48,196.17 L387.59,196.07 L387.70,195.96 L387.80,195.85 L387.91,195.75 L388.01,195.64 L388.11,195.53 L388.21,195.43 L388.31,195.32 L388.41,195.22 L388.50,195.11 L388.60,195.01 L388.69,194.90 L388.78,194.80 L388.87,194.70 L388.95,194.60 L389.04,194.50 L389.13,194.40 L389.21,194.30 L389.29,194.20 L389.37,194.10 L389.45,194.01 L389.52,193.91 L389.60,193.82 L389.67,193.73 L389.75,193.63 L389.82,193.54 L389.89,193.45 L389.96,193.37 L390.02,193.28 L390.09,193.19 L390.15,193.11 L390.21,193.03 L390.28,192.94 L390.34,192.86 L390.39,192.78 L390.45,192.69 L390.51,192.61 L390.56,192.53 L390.62,192.44 L390.67,192.36 L390.72,192.28 L390.77,192.20 L390.82,192.12 L390.86,192.04 L390.91,191.96 L390.95,191.89 L391.00,191.81 L391.04,191.74 L391.08,191.67 L391.12,191.60 L391.16,191.53 L391.19,191.46 L391.23,191.39 L391.27,191.33 L391.30,191.27 L391.33,191.21 L391.36,191.15 L391.39,191.09 L391.42,191.04 L391.45,190.99 L391.48,190.94 L391.51,190.89 L391.53,190.84 L391.56,190.79 L391.58,190.75 L391.60,190.71 L391.62,190.67 L391.64,190.63 L391.66,190.59 L391.68,190.56 L391.70,190.52 L391.72,190.49 L391.73,190.46 L391.75,190.43 L391.76,190.41 L391.78,190.38 L391.79,190.36 L391.80,190.33 L391.81,190.31 L391.82,190.29 L391.83,190.28 L391.84,190.26 L391.85,190.24 L391.85,190.23 L391.86,190.22 L391.87,190.21 L391.87,190.20 L391.88,190.19 L391.88,190.18 L391.89,190.17 L391.89,190.17 L391.89,190.16 L391.89,190.16 L391.90,190.15 L391.90,190.15 L391.90,190.15 L391.90,190.15 L391.90,190.15 L391.90,190.14 L391.90,190.14" stroke="#a5713c"/>
<path d="M233.13,187.48 L236.14,187.37 L239.16,187.27 L242.19,187.15 L245.22,187.04 L248.26,186.92 L251.30,186.81 L251.30,186.81 L252.18,186.77 L253.06,186.74 L253.93,186.70 L254.80,186.67 L255.66,186.63 L256.53,186.60 L257.39,186.56 L258.24,186.52 L259.09,186.48 L259.94,186.45 L260.79,186.41 L261.63,186.37 L262.47,186.33 L263.31,186.28 L264.14,186.24 L264.97,186.20 L265.80,186.16 L266.62,186.11 L267.45,186.07 L268.26,186.03 L269.08,185.98 L269.89,185.94 L270.69,185.89 L271.50,185.84 L272.30,185.80 L273.10,185.75 L273.89,185.70 L274.68,185.66 L275.47,185.61 L276.26,185.56 L277.04,185.51 L277.82,185.46 L278.59,185.41 L279.37,185.36 L280.13,185.31 L280.90,185.26 L281.66,185.21 L282.42,185.15 L283.18,185.10 L283.93,185.05 L284.68,185.00 L285.43,184.94 L286.17,184.89 L286.92,184.84 L287.65,184.78 L288.39,184.73 L289.12,184.67 L289.85,184.62 L290.57,184.56 L291.30,184.51 L292.01,184.45 L292.73,184.39 L293.44,184.34 L294.15,184.28 L294.86,184.22 L295.56,184.17 L296.26,184.11 L296.96,184.05 L297.66,183.99 L298.35,183.94 L299.04,183.88 L299.72,183.82 L300.40,183.76 L301.08,183.70 L301.76,183.64 L302.43,183.58 L303.10,183.53 L303.77,183.47 L304.43,183.41 L305.10,183.35 L305.75,183.29 L306.41,183.23 L307.06,183.17 L307.71,183.11 L308.36,183.05 L309.00,182.99 L309.64,182.93 L310.28,182.87 L310.91,182.80 L311.54,182.74 L312.17,182.68 L312.80,182.62 L313.42,182.56 L314.04,182.50 L314.65,182.44 L315.27,182.38 L315.88,182.31 L316.49,182.25 L317.09,182.18 L317.69,182.11 L318.29,182.04 L318.89,181.96 L319.48,181.89 L320.07,181.81 L320.66,181.73 L321.24,181.65 L321.82,181.57 L322.40,181.48 L322.98,181.40 L323.55,181.31 L324.12,181.23 L324.69,181.14 L325.25,181.05 L325.81,180.96 L326.37,180.87 L326.93,180.78 L327.48,180.68 L328.03,180.59 L328.58,180.50 L329.12,180.40 L329.67,180.30 L330.20,180.20 L330.74,180.10 L331.27,180.00 L331.80,179.89 L332.33,179.78 L332.86,179.67 L333.38,179.56 L333.90,179.45 L334.41,179.34 L334.93,179.22 L335.44,179.11 L335.95,178.99 L336.45,178.87 L336.95,178.75 L337.45,178.63 L337.95,178.50 L338.45,178.38 L338.94,178.25 L339.43,178.13 L339.91,178.00 L340.40,177.86 L340.88,177.73 L341.36,177.58 L341.83,177.44 L342.30,177.29 L342.77,177.14 L343.24,176.99 L343.71,176.84 L344.17,176.68 L344.63,176.53 L345.08,176.37 L345.54,176.21 L345.99,176.06 L346.44,175.90 L346.89,175.75 L347.33,175.59 L347.77,175.44 L348.21,175.29 L348.64,175.13 L349.08,174.99 L349.51,174.84 L349.93,174.69 L350.36,174.55 L350.78,174.41 L351.20,174.28 L351.62,174.14 L352.03,174.01 L352.45,173.89 L352.86,173.76 L353.26,173.64 L353.67,173.52 L354.07,173.40 L354.47,173.28 L354.87,173.16 L355.26,173.05 L355.65,172.94 L356.04,172.82 L356.43,172.71 L356.81,172.60 L357.20,172.49 L357.57,172.38 L357.95,172.26 L358.33,172.15 L358.70,172.04 L359.07,171.93 L359.43,171.81 L359.80,171.70 L360.16,171.58 L360.52,171.47 L360.88,171.35 L361.23,171.23 L361.58,171.11 L361.93,170.99 L362.28,170.87 L362.62,170.74 L362.97,170.62 L363.31,170.49 L363.64,170.36 L363.98,170.23 L364.31,170.10 L364.64,169.97 L364.97,169.85 L365.30,169.72 L365.62,169.59 L365.94,169.46 L366.26,169.33 L366.58,169.20 L366.89,169.07 L367.20,168.94 L367.51,168.81 L367.82,168.68 L368.12,168.54 L368.42,168.41 L368.72,168.28 L369.02,168.14 L369.32,168.00 L369.61,167.87 L369.90,167.73 L370.19,167.59 L370.47,167.45 L370.76,167.31 L371.04,167.16 L371.32,167.02 L371.60,166.87 L371.87,166.72 L372.14,166.58 L372.41,166.43 L372.68,166.27 L372.95,166.12 L373.21,165.97 L373.47,165.81 L373.73,165.65 L373.99,165.50 L374.24,165.34 L374.50,165.18 L374.75,165.01 L374.99,164.85 L375.24,164.68 L375.48,164.52 L375.73,164.35 L375.97,164.18 L376.20,164.01 L376.44,163.83 L376.67,163.65 L376.90,163.47 L377.13,163.28 L377.36,163.10 L377.58,162.91 L377.81,162.71 L378.03,162.52 L378.24,162.32 L378.46,162.12 L378.68,161.92 L378.89,161.71 L379.10,161.51 L379.31,161.30 L379.51,161.09 L379.72,160.88 L379.92,160.66 L380.12,160.45 L380.32,160.23 L380.51,160.02 L380.71,159.80 L380.90,159.58 L381.09,159.36 L381.28,159.14 L381.46,158.92 L381.65,158.69 L381.83,158.47 L382.01,158.25 L382.19,158.02 L382.36,157.80 L382.54,157.57 L382.71,157.35 L382.88,157.12 L383.05,156.89 L383.22,156.67 L383.38,156.44 L383.54,156.22 L383.70,155.99 L383.86,155.77 L384.02,155.54 L384.18,155.32 L384.33,155.09 L384.48,154.87 L384.63,154.65 L384.78,154.43 L384.93,154.20 L385.07,153.98 L385.21,153.76 L385.35,153.54 L385.49,153.33 L385.63,153.10 L385.76,152.87 L385.90,152.64 L386.03,152.40 L386.16,152.16 L386.29,151.92 L386.42,151.67 L386.54,151.42 L386.66,151.17 L386.79,150.91 L386.91,150.66 L387.02,150.40 L387.14,150.15 L387.25,149.89 L387.37,149.63 L387.48,149.38 L387.59,149.12 L387.70,148.87 L387.80,148.62 L387.91,148.37 L388.01,148.12 L388.11,147.87 L388.21,147.63 L388.31,147.38 L388.41,147.14 L388.50,146.90 L388.60,146.67 L388.69,146.44 L388.78,146.21 L388.87,145.98 L388.95,145.76 L389.04,145.54 L389.13,145.32 L389.21,145.11 L389.29,144.90 L389.37,144.69 L389.45,144.49 L389.52,144.29 L389.60,144.09 L389.67,143.90 L389.75,143.71 L389.82,143.52 L389.89,143.34 L389.96,143.16 L390.02,142.99 L390.09,142.82 L390.15,142.65 L390.21,142.49 L390.28,142.33 L390.34,142.17 L390.39,142.02 L390.45,141.86 L390.51,141.71 L390.56,141.56 L390.62,141.41 L390.67,141.27 L390.72,141.13 L390.77,140.99 L390.82,140.85 L390.86,140.72 L390.91,140.59 L390.95,140.46 L391.00,140.34 L391.04,140.21 L391.08,140.09 L391.12,139.98 L391.16,139.87 L391.19,139.76 L391.23,139.65 L391.27,139.55 L391.30,139.45 L391.33,139.35 L391.36,139.25 L391.39,139.16 L391.42,139.07 L391.45,138.99 L391.48,138.91 L391.51,138.83 L391.53,138.75 L391.56,138.68 L391.58,138.61 L391.60,138.54 L391.62,138.48 L391.64,138.41 L391.66,138.36 L391.68,138.30 L391.70,138.25 L391.72,138.19 L391.73,138.15 L391.75,138.10 L391.76,138.06 L391.78,138.02 L391.79,137.98 L391.80,137.94 L391.81,137.91 L391.82,137.88 L391.83,137.85 L391.84,137.82 L391.85,137.80 L391.85,137.78 L391.86,137.76 L391.87,137.74 L391.87,137.72 L391.88,137.71 L391.88,137.69 L391.89,137.68 L391.89,137.67 L391.89,137.66 L391.89,137.66 L391.90,137.65 L391.90,137.65 L391.90,137.64 L391.90,137.64 L391.90,137.64 L391.90,137.64 L391.90,137.64" stroke="#006400"/>
<path d="M233.13,194.22 L236.14,194.22 L239.16,194.23 L242.19,194.23 L245.22,194.24 L248.26,194.24 L251.30,194.24 L251.30,194.24 L252.18,194.24 L253.06,194.24 L253.93,194.24 L254.80,194.24 L255.66,194.23 L256.53,194.23 L257.39,194.23 L258.24,194.22 L259.09,194.22 L259.94,194.21 L260.79,194.21 L261.63,194.20 L262.47,194.19 L263.31,194.19 L264.14,194.18 L264.97,194.17 L265.80,194.16 L266.62,194.15 L267.45,194.14 L268.26,194.13 L269.08,194.12 L269.89,194.11 L270.69,194.10 L271.50,194.09 L272.30,194.08 L273.10,194.06 L273.89,194.05 L274.68,194.04 L275.47,194.03 L276.26,194.01 L277.04,194.00 L277.82,193.98 L278.59,193.97 L279.37,193.96 L280.13,193.94 L280.90,193.93 L281.66,193.91 L282.42,193.89 L283.18,193.88 L283.93,193.86 L284.68,193.85 L285.43,193.83 L286.17,193.81 L286.92,193.80 L287.65,193.78 L288.39,193.76 L289.12,193.75 L289.85,193.73 L290.57,193.71 L291.30,193.69 L292.01,193.68 L292.73,193.66 L293.44,193.64 L294.15,193.62 L294.86,193.60 L295.56,193.59 L296.26,193.57 L296.96,193.55 L297.66,193.53 L298.35,193.51 L299.04,193.49 L299.72,193.47 L300.40,193.46 L301.08,193.44 L301.76,193.42 L302.43,193.40 L303.10,193.38 L303.77,193.36 L304.43,193.34 L305.10,193.32 L305.75,193.30 L306.41,193.29 L307.06,193.27 L307.71,193.25 L308.36,193.23 L309.00,193.21 L309.64,193.19 L310.28,193.17 L310.91,193.15 L311.54,193.13 L312.17,193.11 L312.80,193.10 L313.42,193.08 L314.04,193.06 L314.65,193.04 L315.27,193.02 L315.88,193.00 L316.49,192.98 L317.09,192.96 L317.69,192.94 L318.29,192.91 L318.89,192.89 L319.48,192.87 L320.07,192.84 L320.66,192.82 L321.24,192.79 L321.82,192.76 L322.40,192.74 L322.98,192.71 L323.55,192.68 L324.12,192.65 L324.69,192.62 L325.25,192.59 L325.81,192.56 L326.37,192.53 L326.93,192.50 L327.48,192.47 L328.03,192.44 L328.58,192.40 L329.12,192.37 L329.67,192.34 L330.20,192.30 L330.74,192.27 L331.27,192.24 L331.80,192.20 L332.33,192.17 L332.86,192.13 L333.38,192.10 L333.90,192.06 L334.41,192.02 L334.93,191.99 L335.44,191.95 L335.95,191.92 L336.45,191.88 L336.95,191.84 L337.45,191.80 L337.95,191.77 L338.45,191.73 L338.94,191.69 L339.43,191.65 L339.91,191.62 L340.40,191.58 L340.88,191.54 L341.36,191.50 L341.83,191.46 L342.30,191.42 L342.77,191.37 L343.24,191.33 L343.71,191.29 L344.17,191.25 L344.63,191.20 L345.08,191.16 L345.54,191.12 L345.99,191.07 L346.44,191.03 L346.89,190.98 L347.33,190.93 L347.77,190.89 L348.21,190.84 L348.64,190.79 L349.08,190.74 L349.51,190.69 L349.93,190.64 L350.36,190.59 L350.78,190.54 L351.20,190.49 L351.62,190.44 L352.03,190.39 L352.45,190.34 L352.86,190.29 L353.26,190.23 L353.67,190.18 L354.07,190.13 L354.47,190.07 L354.87,190.02 L355.26,189.96 L355.65,189.91 L356.04,189.85 L356.43,189.79 L356.81,189.74 L357.20,189.68 L357.57,189.62 L357.95,189.57 L358.33,189.51 L358.70,189.45 L359.07,189.39 L359.43,189.33 L359.80,189.27 L360.16,189.21 L360.52,189.15 L360.88,189.09 L361.23,189.03 L361.58,188.97 L361.93,188.91 L362.28,188.85 L362.62,188.79 L362.97,188.72 L363.31,188.66 L363.64,188.60 L363.98,188.54 L364.31,188.47 L364.64,188.41 L364.97,188.34 L365.30,188.27 L365.62,188.21 L365.94,188.14 L366.26,188.07 L366.58,188.00 L366.89,187.92 L367.20,187.85 L367.51,187.77 L367.82,187.70 L368.12,187.62 L368.42,187.54 L368.72,187.46 L369.02,187.38 L369.32,187.30 L369.61,187.22 L369.90,187.13 L370.19,187.05 L370.47,186.96 L370.76,186.87 L371.04,186.78 L371.32,186.69 L371.60,186.60 L371.87,186.51 L372.14,186.42 L372.41,186.32 L372.68,186.22 L372.95,186.13 L373.21,186.03 L373.47,185.93 L373.73,185.83 L373.99,185.73 L374.24,185.62 L374.50,185.52 L374.75,185.42 L374.99,185.31 L375.24,185.20 L375.48,185.10 L375.73,184.99 L375.97,184.88 L376.20,184.76 L376.44,184.64 L376.67,184.51 L376.90,184.39 L377.13,184.25 L377.36,184.11 L377.58,183.97 L377.81,183.83 L378.03,183.68 L378.24,183.53 L378.46,183.38 L378.68,183.22 L378.89,183.07 L379.10,182.91 L379.31,182.74 L379.51,182.58 L379.72,182.41 L379.92,182.24 L380.12,182.07 L380.32,181.90 L380.51,181.73 L380.71,181.55 L380.90,181.38 L381.09,181.20 L381.28,181.03 L381.46,180.85 L381.65,180.67 L381.83,180.49 L382.01,180.31 L382.19,180.13 L382.36,179.95 L382.54,179.77 L382.71,179.59 L382.88,179.41 L383.05,179.23 L383.22,179.05 L383.38,178.87 L383.54,178.69 L383.70,178.51 L383.86,178.33 L384.02,178.15 L384.18,177.98 L384.33,177.80 L384.48,177.62 L384.63,177.45 L384.78,177.27 L384.93,177.10 L385.07,176.93 L385.21,176.75 L385.35,176.58 L385.49,176.41 L385.63,176.24 L385.76,176.07 L385.90,175.89 L386.03,175.71 L386.16,175.52 L386.29,175.34 L386.42,175.15 L386.54,174.96 L386.66,174.77 L386.79,174.58 L386.91,174.39 L387.02,174.20 L387.14,174.00 L387.25,173.81 L387.37,173.62 L387.48,173.42 L387.59,173.23 L387.70,173.04 L387.80,172.85 L387.91,172.66 L388.01,172.47 L388.11,172.28 L388.21,172.09 L388.31,171.90 L388.41,171.72 L388.50,171.53 L388.60,171.35 L388.69,171.17 L388.78,170.99 L388.87,170.81 L388.95,170.64 L389.04,170.46 L389.13,170.29 L389.21,170.12 L389.29,169.95 L389.37,169.79 L389.45,169.62 L389.52,169.46 L389.60,169.30 L389.67,169.15 L389.75,168.99 L389.82,168.84 L389.89,168.69 L389.96,168.55 L390.02,168.40 L390.09,168.26 L390.15,168.12 L390.21,167.99 L390.28,167.85 L390.34,167.72 L390.39,167.58 L390.45,167.45 L390.51,167.32 L390.56,167.19 L390.62,167.06 L390.67,166.93 L390.72,166.80 L390.77,166.68 L390.82,166.55 L390.86,166.43 L390.91,166.32 L390.95,166.20 L391.00,166.09 L391.04,165.97 L391.08,165.87 L391.12,165.76 L391.16,165.66 L391.19,165.55 L391.23,165.46 L391.27,165.36 L391.30,165.27 L391.33,165.18 L391.36,165.09 L391.39,165.01 L391.42,164.92 L391.45,164.85 L391.48,164.77 L391.51,164.70 L391.53,164.62 L391.56,164.56 L391.58,164.49 L391.60,164.43 L391.62,164.37 L391.64,164.31 L391.66,164.26 L391.68,164.20 L391.70,164.15 L391.72,164.11 L391.73,164.06 L391.75,164.02 L391.76,163.98 L391.78,163.94 L391.79,163.91 L391.80,163.87 L391.81,163.84 L391.82,163.81 L391.83,163.79 L391.84,163.76 L391.85,163.74 L391.85,163.72 L391.86,163.70 L391.87,163.68 L391.87,163.66 L391.88,163.65 L391.88,163.64 L391.89,163.63 L391.89,163.62 L391.89,163.61 L391.89,163.60 L391.90,163.60 L391.90,163.60 L391.90,163.59 L391.90,163.59 L391.90,163.59 L391.90,163.59 L391.90,163.59" stroke="#8b008b"/>
<path d="M233.13,170.49 L236.14,170.38 L239.16,170.27 L242.19,170.16 L245.22,170.04 L248.26,169.93 L251.30,169.81 L251.30,169.81 L252.18,169.78 L253.06,169.74 L253.93,169.71 L254.80,169.67 L255.66,169.64 L256.53,169.60 L257.39,169.56 L258.24,169.53 L259.09,169.49 L259.94,169.45 L260.79,169.41 L261.63,169.37 L262.47,169.33 L263.31,169.29 L264.14,169.25 L264.97,169.21 L265.80,169.17 L266.62,169.13 L267.45,169.08 L268.26,169.04 L269.08,169.00 L269.89,168.95 L270.69,168.91 L271.50,168.86 L272.30,168.82 L273.10,168.77 L273.89,168.73 L274.68,168.68 L275.47,168.63 L276.26,168.58 L277.04,168.54 L277.82,168.49 L278.59,168.44 L279.37,168.39 L280.13,168.34 L280.90,168.29 L281.66,168.24 L282.42,168.19 L283.18,168.14 L283.93,168.09 L284.68,168.03 L285.43,167.98 L286.17,167.93 L286.92,167.88 L287.65,167.82 L288.39,167.77 L289.12,167.71 L289.85,167.66 L290.57,167.61 L291.30,167.55 L292.01,167.49 L292.73,167.44 L293.44,167.38 L294.15,167.33 L294.86,167.27 L295.56,167.21 L296.26,167.16 L296.96,167.10 L297.66,167.04 L298.35,166.98 L299.04,166.92 L299.72,166.86 L300.40,166.80 L301.08,166.75 L301.76,166.69 L302.43,166.63 L303.10,166.57 L303.77,166.51 L304.43,166.44 L305.10,166.38 L305.75,166.32 L306.41,166.26 L307.06,166.20 L307.71,166.14 L308.36,166.08 L309.00,166.01 L309.64,165.95 L310.28,165.89 L310.91,165.83 L311.54,165.76 L312.17,165.70 L312.80,165.64 L313.42,165.57 L314.04,165.51 L314.65,165.44 L315.27,165.38 L315.88,165.31 L316.49,165.25 L317.09,165.17 L317.69,165.10 L318.29,165.03 L318.89,164.95 L319.48,164.87 L320.07,164.79 L320.66,164.71 L321.24,164.63 L321.82,164.54 L322.40,164.45 L322.98,164.37 L323.55,164.28 L324.12,164.19 L324.69,164.10 L325.25,164.00 L325.81,163.91 L326.37,163.81 L326.93,163.72 L327.48,163.62 L328.03,163.52 L328.58,163.43 L329.12,163.33 L329.67,163.23 L330.20,163.13 L330.74,163.03 L331.27,162.93 L331.80,162.83 L332.33,162.73 L332.86,162.62 L333.38,162.52 L333.90,162.42 L334.41,162.32 L334.93,162.21 L335.44,162.11 L335.95,162.01 L336.45,161.90 L336.95,161.80 L337.45,161.70 L337.95,161.60 L338.45,161.49 L338.94,161.39 L339.43,161.29 L339.91,161.19 L340.40,161.08 L340.88,160.98 L341.36,160.88 L341.83,160.78 L342.30,160.68 L342.77,160.58 L343.24,160.47 L343.71,160.37 L344.17,160.27 L344.63,160.17 L345.08,160.07 L345.54,159.96 L345.99,159.86 L346.44,159.76 L346.89,159.65 L347.33,159.55 L347.77,159.44 L348.21,159.34 L348.64,159.23 L349.08,159.12 L349.51,159.02 L349.93,158.91 L350.36,158.80 L350.78,158.69 L351.20,158.58 L351.62,158.47 L352.03,158.36 L352.45,158.25 L352.86,158.14 L353.26,158.03 L353.67,157.91 L354.07,157.80 L354.47,157.68 L354.87,157.57 L355.26,157.45 L355.65,157.34 L356.04,157.22 L356.43,157.10 L356.81,156.98 L357.20,156.86 L357.57,156.74 L357.95,156.62 L358.33,156.50 L358.70,156.37 L359.07,156.25 L359.43,156.12 L359.80,156.00 L360.16,155.87 L360.52,155.75 L360.88,155.62 L361.23,155.49 L361.58,155.36 L361.93,155.23 L362.28,155.10 L362.62,154.97 L362.97,154.84 L363.31,154.71 L363.64,154.58 L363.98,154.44 L364.31,154.31 L364.64,154.17 L364.97,154.02 L365.30,153.88 L365.62,153.73 L365.94,153.58 L366.26,153.43 L366.58,153.28 L366.89,153.13 L367.20,152.97 L367.51,152.81 L367.82,152.65 L368.12,152.49 L368.42,152.32 L368.72,152.16 L369.02,151.99 L369.32,151.82 L369.61,151.65 L369.90,151.47 L370.19,151.30 L370.47,151.12 L370.76,150.95 L371.04,150.77 L371.32,150.59 L371.60,150.40 L371.87,150.22 L372.14,150.04 L372.41,149.85 L372.68,149.67 L372.95,149.48 L373.21,149.29 L373.47,149.10 L373.73,148.91 L373.99,148.72 L374.24,148.53 L374.50,148.33 L374.75,148.14 L374.99,147.94 L375.24,147.75 L375.48,147.55 L375.73,147.36 L375.97,147.16 L376.20,146.96 L376.44,146.76 L376.67,146.56 L376.90,146.35 L377.13,146.15 L377.36,145.94 L377.58,145.73 L377.81,145.52 L378.03,145.31 L378.24,145.10 L378.46,144.88 L378.68,144.67 L378.89,144.45 L379.10,144.23 L379.31,144.00 L379.51,143.78 L379.72,143.55 L379.92,143.33 L380.12,143.10 L380.32,142.86 L380.51,142.63 L380.71,142.40 L380.90,142.16 L381.09,141.92 L381.28,141.68 L381.46,141.44 L381.65,141.20 L381.83,140.96 L382.01,140.71 L382.19,140.46 L382.36,140.22 L382.54,139.97 L382.71,139.72 L382.88,139.47 L383.05,139.21 L383.22,138.96 L383.38,138.71 L383.54,138.45 L383.70,138.20 L383.86,137.94 L384.02,137.68 L384.18,137.43 L384.33,137.17 L384.48,136.91 L384.63,136.65 L384.78,136.39 L384.93,136.13 L385.07,135.88 L385.21,135.62 L385.35,135.36 L385.49,135.10 L385.63,134.83 L385.76,134.56 L385.90,134.28 L386.03,133.99 L386.16,133.70 L386.29,133.40 L386.42,133.10 L386.54,132.79 L386.66,132.48 L386.79,132.17 L386.91,131.85 L387.02,131.53 L387.14,131.21 L387.25,130.89 L387.37,130.56 L387.48,130.24 L387.59,129.91 L387.70,129.58 L387.80,129.26 L387.91,128.93 L388.01,128.60 L388.11,128.28 L388.21,127.95 L388.31,127.63 L388.41,127.30 L388.50,126.98 L388.60,126.66 L388.69,126.34 L388.78,126.03 L388.87,125.72 L388.95,125.41 L389.04,125.10 L389.13,124.79 L389.21,124.49 L389.29,124.19 L389.37,123.90 L389.45,123.60 L389.52,123.31 L389.60,123.03 L389.67,122.75 L389.75,122.47 L389.82,122.20 L389.89,121.93 L389.96,121.66 L390.02,121.40 L390.09,121.14 L390.15,120.89 L390.21,120.64 L390.28,120.39 L390.34,120.14 L390.39,119.89 L390.45,119.64 L390.51,119.39 L390.56,119.14 L390.62,118.89 L390.67,118.64 L390.72,118.39 L390.77,118.15 L390.82,117.91 L390.86,117.68 L390.91,117.44 L390.95,117.22 L391.00,116.99 L391.04,116.77 L391.08,116.56 L391.12,116.34 L391.16,116.14 L391.19,115.94 L391.23,115.74 L391.27,115.55 L391.30,115.37 L391.33,115.18 L391.36,115.01 L391.39,114.84 L391.42,114.68 L391.45,114.52 L391.48,114.36 L391.51,114.22 L391.53,114.07 L391.56,113.94 L391.58,113.81 L391.60,113.68 L391.62,113.56 L391.64,113.44 L391.66,113.33 L391.68,113.23 L391.70,113.13 L391.72,113.03 L391.73,112.94 L391.75,112.86 L391.76,112.78 L391.78,112.70 L391.79,112.63 L391.80,112.56 L391.81,112.50 L391.82,112.44 L391.83,112.39 L391.84,112.34 L391.85,112.29 L391.85,112.25 L391.86,112.21 L391.87,112.18 L391.87,112.15 L391.88,112.12 L391.88,112.09 L391.89,112.07 L391.89,112.05 L391.89,112.04 L391.89,112.03 L391.90,112.02 L391.90,112.01 L391.90,112.00 L391.90,112.00 L391.90,111.99 L391.90,111.99 L391.90,111.99" stroke="#ff8f1f"/>
<path d="M233.13,180.91 L236.14,180.85 L239.16,180.80 L242.19,180.74 L245.22,180.69 L248.26,180.64 L251.30,180.58 L251.30,180.58 L252.18,180.57 L253.06,180.55 L253.93,180.54 L254.80,180.52 L255.66,180.51 L256.53,180.49 L257.39,180.48 L258.24,180.46 L259.09,180.45 L259.94,180.43 L260.79,180.41 L261.63,180.40 L262.47,180.38 L263.31,180.36 L264.14,180.35 L264.97,180.33 L265.80,180.31 L266.62,180.30 L267.45,180.28 L268.26,180.26 L269.08,180.25 L269.89,180.23 L270.69,180.21 L271.50,180.19 L272.30,180.18 L273.10,180.16 L273.89,180.14 L274.68,180.12 L275.47,180.11 L276.26,180.09 L277.04,180.07 L277.82,180.05 L278.59,180.03 L279.37,180.02 L280.13,180.00 L280.90,179.98 L281.66,179.96 L282.42,179.94 L283.18,179.93 L283.93,179.91 L284.68,179.89 L285.43,179.87 L286.17,179.85 L286.92,179.83 L287.65,179.82 L288.39,179.80 L289.12,179.78 L289.85,179.76 L290.57,179.74 L291.30,179.72 L292.01,179.70 L292.73,179.69 L293.44,179.67 L294.15,179.65 L294.86,179.63 L295.56,179.61 L296.26,179.59 L296.96,179.57 L297.66,179.56 L298.35,179.54 L299.04,179.52 L299.72,179.50 L300.40,179.48 L301.08,179.46 L301.76,179.44 L302.43,179.43 L303.10,179.41 L303.77,179.39 L304.43,179.37 L305.10,179.35 L305.75,179.33 L306.41,179.32 L307.06,179.30 L307.71,179.28 L308.36,179.26 L309.00,179.24 L309.64,179.22 L310.28,179.20 L310.91,179.19 L311.54,179.17 L312.17,179.15 L312.80,179.13 L313.42,179.11 L314.04,179.10 L314.65,179.08 L315.27,179.06 L315.88,179.04 L316.49,179.02 L317.09,179.01 L317.69,178.99 L318.29,178.98 L318.89,178.96 L319.48,178.95 L320.07,178.93 L320.66,178.91 L321.24,178.90 L321.82,178.88 L322.40,178.86 L322.98,178.84 L323.55,178.82 L324.12,178.80 L324.69,178.78 L325.25,178.76 L325.81,178.73 L326.37,178.70 L326.93,178.68 L327.48,178.65 L328.03,178.61 L328.58,178.58 L329.12,178.53 L329.67,178.47 L330.20,178.40 L330.74,178.32 L331.27,178.23 L331.80,178.14 L332.33,178.04 L332.86,177.94 L333.38,177.83 L333.90,177.72 L334.41,177.60 L334.93,177.49 L335.44,177.37 L335.95,177.25 L336.45,177.13 L336.95,177.02 L337.45,176.90 L337.95,176.79 L338.45,176.68 L338.94,176.57 L339.43,176.46 L339.91,176.36 L340.40,176.26 L340.88,176.16 L341.36,176.06 L341.83,175.96 L342.30,175.86 L342.77,175.76 L343.24,175.66 L343.71,175.56 L344.17,175.46 L344.63,175.37 L345.08,175.27 L345.54,175.17 L345.99,175.08 L346.44,174.98 L346.89,174.88 L347.33,174.78 L347.77,174.69 L348.21,174.59 L348.64,174.49 L349.08,174.40 L349.51,174.30 L349.93,174.20 L350.36,174.10 L350.78,174.00 L351.20,173.91 L351.62,173.81 L352.03,173.71 L352.45,173.61 L352.86,173.51 L353.26,173.41 L353.67,173.31 L354.07,173.20 L354.47,173.10 L354.87,173.00 L355.26,172.90 L355.65,172.79 L356.04,172.69 L356.43,172.58 L356.81,172.48 L357.20,172.37 L357.57,172.27 L357.95,172.16 L358.33,172.05 L358.70,171.94 L359.07,171.84 L359.43,171.73 L359.80,171.62 L360.16,171.51 L360.52,171.39 L360.88,171.28 L361.23,171.17 L361.58,171.06 L361.93,170.94 L362.28,170.83 L362.62,170.71 L362.97,170.60 L363.31,170.48 L363.64,170.37 L363.98,170.25 L364.31,170.13 L364.64,170.01 L364.97,169.89 L365.30,169.77 L365.62,169.64 L365.94,169.52 L366.26,169.39 L366.58,169.27 L366.89,169.14 L367.20,169.01 L367.51,168.88 L367.82,168.75 L368.12,168.61 L368.42,168.48 L368.72,168.34 L369.02,168.20 L369.32,168.07 L369.61,167.93 L369.90,167.78 L370.19,167.64 L370.47,167.50 L370.76,167.35 L371.04,167.20 L371.32,167.06 L371.60,166.91 L371.87,166.76 L372.14,166.60 L372.41,166.45 L372.68,166.30 L372.95,166.14 L373.21,165.98 L373.47,165.82 L373.73,165.67 L373.99,165.50 L374.24,165.34 L374.50,165.18 L374.75,165.02 L374.99,164.85 L375.24,164.69 L375.48,164.52 L375.73,164.35 L375.97,164.18 L376.20,164.01 L376.44,163.83 L376.67,163.65 L376.90,163.47 L377.13,163.28 L377.36,163.10 L377.58,162.91 L377.81,162.71 L378.03,162.52 L378.24,162.32 L378.46,162.12 L378.68,161.92 L378.89,161.71 L379.10,161.51 L379.31,161.30 L379.51,161.09 L379.72,160.88 L379.92,160.66 L380.12,160.45 L380.32,160.23 L380.51,160.02 L380.71,159.80 L380.90,159.58 L381.09,159.36 L381.28,159.14 L381.46,158.92 L381.65,158.69 L381.83,158.47 L382.01,158.25 L382.19,158.02 L382.36,157.80 L382.54,157.57 L382.71,157.35 L382.88,157.12 L383.05,156.89 L383.22,156.67 L383.38,156.44 L383.54,156.22 L383.70,155.99 L383.86,155.77 L384.02,155.54 L384.18,155.32 L384.33,155.09 L384.48,154.87 L384.63,154.65 L384.78,154.43 L384.93,154.20 L385.07,153.98 L385.21,153.76 L385.35,153.54 L385.49,153.33 L385.63,153.10 L385.76,152.87 L385.90,152.64 L386.03,152.40 L386.16,152.16 L386.29,151.92 L386.42,151.67 L386.54,151.42 L386.66,151.17 L386.79,150.91 L386.91,150.66 L387.02,150.40 L387.14,150.15 L387.25,149.89 L387.37,149.63 L387.48,149.38 L387.59,149.12 L387.70,148.87 L387.80,148.62 L387.91,148.37 L388.01,148.12 L388.11,147.87 L388.21,147.63 L388.31,147.38 L388.41,147.14 L388.50,146.90 L388.60,146.67 L388.69,146.44 L388.78,146.21 L388.87,145.98 L388.95,145.76 L389.04,145.54 L389.13,145.32 L389.21,145.11 L389.29,144.90 L389.37,144.69 L389.45,144.49 L389.52,144.29 L389.60,144.09 L389.67,143.90 L389.75,143.71 L389.82,143.52 L389.89,143.34 L389.96,143.16 L390.02,142.99 L390.09,142.82 L390.15,142.65 L390.21,142.49 L390.28,142.33 L390.34,142.17 L390.39,142.02 L390.45,141.86 L390.51,141.71 L390.56,141.56 L390.62,141.41 L390.67,141.27 L390.72,141.13 L390.77,140.99 L390.82,140.85 L390.86,140.72 L390.91,140.59 L390.95,140.46 L391.00,140.34 L391.04,140.21 L391.08,140.09 L391.12,139.98 L391.16,139.87 L391.19,139.76 L391.23,139.65 L391.27,139.55 L391.30,139.45 L391.33,139.35 L391.36,139.25 L391.39,139.16 L391.42,139.07 L391.45,138.99 L391.48,138.91 L391.51,138.83 L391.53,138.75 L391.56,138.68 L391.58,138.61 L391.60,138.54 L391.62,138.48 L391.64,138.41 L391.66,138.36 L391.68,138.30 L391.70,138.25 L391.72,138.19 L391.73,138.15 L391.75,138.10 L391.76,138.06 L391.78,138.02 L391.79,137.98 L391.80,137.94 L391.81,137.91 L391.82,137.88 L391.83,137.85 L391.84,137.82 L391.85,137.80 L391.85,137.78 L391.86,137.76 L391.87,137.74 L391.87,137.72 L391.88,137.71 L391.88,137.69 L391.89,137.68 L391.89,137.67 L391.89,137.66 L391.89,137.66 L391.90,137.65 L391.90,137.65 L391.90,137.64 L391.90,137.64 L391.90,137.64 L391.90,137.64 L391.90,137.64" stroke="#1e90ff"/>
<path d="M233.13,166.98 L236.14,166.92 L239.16,166.86 L242.19,166.80 L245.22,166.74 L248.26,166.68 L251.30,166.62 L251.30,166.62 L252.18,166.61 L253.06,166.59 L253.93,166.58 L254.80,166.56 L255.66,166.55 L256.53,166.53 L257.39,166.52 L258.24,166.50 L259.09,166.49 L259.94,166.47 L260.79,166.46 L261.63,166.44 L262.47,166.43 L263.31,166.41 L264.14,166.40 L264.97,166.38 L265.80,166.37 L266.62,166.35 L267.45,166.34 L268.26,166.32 L269.08,166.30 L269.89,166.29 L270.69,166.27 L271.50,166.26 L272.30,166.24 L273.10,166.22 L273.89,166.21 L274.68,166.19 L275.47,166.17 L276.26,166.16 L277.04,166.14 L277.82,166.12 L278.59,166.11 L279.37,166.09 L280.13,166.07 L280.90,166.05 L281.66,166.03 L282.42,166.01 L283.18,166.00 L283.93,165.98 L284.68,165.96 L285.43,165.94 L286.17,165.92 L286.92,165.90 L287.65,165.88 L288.39,165.86 L289.12,165.84 L289.85,165.82 L290.57,165.79 L291.30,165.77 L292.01,165.75 L292.73,165.73 L293.44,165.71 L294.15,165.68 L294.86,165.66 L295.56,165.64 L296.26,165.61 L296.96,165.59 L297.66,165.56 L298.35,165.54 L299.04,165.51 L299.72,165.49 L300.40,165.46 L301.08,165.44 L301.76,165.41 L302.43,165.38 L303.10,165.36 L303.77,165.33 L304.43,165.30 L305.10,165.27 L305.75,165.25 L306.41,165.22 L307.06,165.19 L307.71,165.16 L308.36,165.13 L309.00,165.10 L309.64,165.07 L310.28,165.04 L310.91,165.01 L311.54,164.98 L312.17,164.95 L312.80,164.92 L313.42,164.89 L314.04,164.85 L314.65,164.82 L315.27,164.79 L315.88,164.75 L316.49,164.71 L317.09,164.66 L317.69,164.62 L318.29,164.56 L318.89,164.51 L319.48,164.45 L320.07,164.38 L320.66,164.32 L321.24,164.25 L321.82,164.18 L322.40,164.11 L322.98,164.03 L323.55,163.95 L324.12,163.87 L324.69,163.79 L325.25,163.70 L325.81,163.62 L326.37,163.53 L326.93,163.44 L327.48,163.35 L328.03,163.26 L328.58,163.17 L329.12,163.07 L329.67,162.98 L330.20,162.88 L330.74,162.79 L331.27,162.69 L331.80,162.59 L332.33,162.50 L332.86,162.40 L333.38,162.30 L333.90,162.20 L334.41,162.10 L334.93,162.01 L335.44,161.91 L335.95,161.81 L336.45,161.71 L336.95,161.62 L337.45,161.52 L337.95,161.42 L338.45,161.33 L338.94,161.23 L339.43,161.14 L339.91,161.04 L340.40,160.95 L340.88,160.86 L341.36,160.76 L341.83,160.67 L342.30,160.57 L342.77,160.47 L343.24,160.38 L343.71,160.28 L344.17,160.18 L344.63,160.08 L345.08,159.99 L345.54,159.89 L345.99,159.79 L346.44,159.69 L346.89,159.58 L347.33,159.48 L347.77,159.38 L348.21,159.28 L348.64,159.17 L349.08,159.07 L349.51,158.97 L349.93,158.86 L350.36,158.75 L350.78,158.65 L351.20,158.54 L351.62,158.43 L352.03,158.32 L352.45,158.21 L352.86,158.10 L353.26,157.99 L353.67,157.88 L354.07,157.76 L354.47,157.65 L354.87,157.54 L355.26,157.42 L355.65,157.31 L356.04,157.19 L356.43,157.07 L356.81,156.95 L357.20,156.83 L357.57,156.72 L357.95,156.59 L358.33,156.47 L358.70,156.35 L359.07,156.23 L359.43,156.11 L359.80,155.98 L360.16,155.86 L360.52,155.73 L360.88,155.61 L361.23,155.48 L361.58,155.35 L361.93,155.23 L362.28,155.10 L362.62,154.97 L362.97,154.84 L363.31,154.71 L363.64,154.58 L363.98,154.45 L364.31,154.31 L364.64,154.17 L364.97,154.03 L365.30,153.89 L365.62,153.74 L365.94,153.59 L366.26,153.44 L366.58,153.29 L366.89,153.14 L367.20,152.98 L367.51,152.82 L367.82,152.66 L368.12,152.50 L368.42,152.33 L368.72,152.17 L369.02,152.00 L369.32,151.83 L369.61,151.66 L369.90,151.48 L370.19,151.31 L370.47,151.13 L370.76,150.95 L371.04,150.77 L371.32,150.59 L371.60,150.41 L371.87,150.23 L372.14,150.04 L372.41,149.86 L372.68,149.67 L372.95,149.48 L373.21,149.29 L373.47,149.10 L373.73,148.91 L373.99,148.72 L374.24,148.53 L374.50,148.33 L374.75,148.14 L374.99,147.94 L375.24,147.75 L375.48,147.55 L375.73,147.36 L375.97,147.16 L376.20,146.96 L376.44,146.76 L376.67,146.56 L376.90,146.35 L377.13,146.15 L377.36,145.94 L377.58,145.73 L377.81,145.52 L378.03,145.31 L378.24,145.10 L378.46,144.88 L378.68,144.67 L378.89,144.45 L379.10,144.23 L379.31,144.00 L379.51,143.78 L379.72,143.55 L379.92,143.33 L380.12,143.10 L380.32,142.86 L380.51,142.63 L380.71,142.40 L380.90,142.16 L381.09,141.92 L381.28,141.68 L381.46,141.44 L381.65,141.20 L381.83,140.96 L382.01,140.71 L382.19,140.46 L382.36,140.22 L382.54,139.97 L382.71,139.72 L382.88,139.47 L383.05,139.21 L383.22,138.96 L383.38,138.71 L383.54,138.45 L383.70,138.20 L383.86,137.94 L384.02,137.68 L384.18,137.43 L384.33,137.17 L384.48,136.91 L384.63,136.65 L384.78,136.39 L384.93,136.13 L385.07,135.88 L385.21,135.62 L385.35,135.36 L385.49,135.10 L385.63,134.83 L385.76,134.56 L385.90,134.28 L386.03,133.99 L386.16,133.70 L386.29,133.40 L386.42,133.10 L386.54,132.79 L386.66,132.48 L386.79,132.17 L386.91,131.85 L387.02,131.53 L387.14,131.21 L387.25,130.89 L387.37,130.56 L387.48,130.24 L387.59,129.91 L387.70,129.58 L387.80,129.26 L387.91,128.93 L388.01,128.60 L388.11,128.28 L388.21,127.95 L388.31,127.63 L388.41,127.30 L388.50,126.98 L388.60,126.66 L388.69,126.34 L388.78,126.03 L388.87,125.72 L388.95,125.41 L389.04,125.10 L389.13,124.79 L389.21,124.49 L389.29,124.19 L389.37,123.90 L389.45,123.60 L389.52,123.31 L389.60,123.03 L389.67,122.75 L389.75,122.47 L389.82,122.20 L389.89,121.93 L389.96,121.66 L390.02,121.40 L390.09,121.14 L390.15,120.89 L390.21,120.64 L390.28,120.39 L390.34,120.14 L390.39,119.89 L390.45,119.64 L390.51,119.39 L390.56,119.14 L390.62,118.89 L390.67,118.64 L390.72,118.39 L390.77,118.15 L390.82,117.91 L390.86,117.68 L390.91,117.44 L390.95,117.22 L391.00,116.99 L391.04,116.77 L391.08,116.56 L391.12,116.34 L391.16,116.14 L391.19,115.94 L391.23,115.74 L391.27,115.55 L391.30,115.37 L391.33,115.18 L391.36,115.01 L391.39,114.84 L391.42,114.68 L391.45,114.52 L391.48,114.36 L391.51,114.22 L391.53,114.07 L391.56,113.94 L391.58,113.81 L391.60,113.68 L391.62,113.56 L391.64,113.44 L391.66,113.33 L391.68,113.23 L391.70,113.13 L391.72,113.03 L391.73,112.94 L391.75,112.86 L391.76,112.78 L391.78,112.70 L391.79,112.63 L391.80,112.56 L391.81,112.50 L391.82,112.44 L391.83,112.39 L391.84,112.34 L391.85,112.29 L391.85,112.25 L391.86,112.21 L391.87,112.18 L391.87,112.15 L391.88,112.12 L391.88,112.09 L391.89,112.07 L391.89,112.05 L391.89,112.04 L391.89,112.03 L391.90,112.02 L391.90,112.01 L391.90,112.00 L391.90,112.00 L391.90,111.99 L391.90,111.99 L391.90,111.99" stroke="#00eeee"/>
</g>
<g stroke="#666" stroke-width="0.8" fill="none">
<rect x="251.3" y="112.0" width="140.60" height="139.30"/>
<line x1="251.30" y1="251.3" x2="251.30" y2="249.3"/>
<line x1="251.30" y1="112.0" x2="251.30" y2="114.0"/>
<line x1="258.33" y1="251.3" x2="258.33" y2="250.10000000000002"/>
<line x1="258.33" y1="112.0" x2="258.33" y2="113.2"/>
<line x1="265.36" y1="251.3" x2="265.36" y2="250.10000000000002"/>
<line x1="265.36" y1="112.0" x2="265.36" y2="113.2"/>
<line x1="272.39" y1="251.3" x2="272.39" y2="250.10000000000002"/>
<line x1="272.39" y1="112.0" x2="272.39" y2="113.2"/>
<line x1="279.42" y1="251.3" x2="279.42" y2="249.3"/>
<line x1="279.42" y1="112.0" x2="279.42" y2="114.0"/>
<line x1="286.45" y1="251.3" x2="286.45" y2="250.10000000000002"/>
<line x1="286.45" y1="112.0" x2="286.45" y2="113.2"/>
<line x1="293.48" y1="251.3" x2="293.48" y2="250.10000000000002"/>
<line x1="293.48" y1="112.0" x2="293.48" y2="113.2"/>
<line x1="300.51" y1="251.3" x2="300.51" y2="250.10000000000002"/>
<line x1="300.51" y1="112.0" x2="300.51" y2="113.2"/>
<line x1="307.54" y1="251.3" x2="307.54" y2="249.3"/>
<line x1="307.54" y1="112.0" x2="307.54" y2="114.0"/>
<line x1="314.57" y1="251.3" x2="314.57" y2="250.10000000000002"/>
<line x1="314.57" y1="112.0" x2="314.57" y2="113.2"/>
<line x1="321.60" y1="251.3" x2="321.60" y2="250.10000000000002"/>
<line x1="321.60" y1="112.0" x2="321.60" y2="113.2"/>
<line x1="328.63" y1="251.3" x2="328.63" y2="250.10000000000002"/>
<line x1="328.63" y1="112.0" x2="328.63" y2="113.2"/>
<line x1="335.66" y1="251.3" x2="335.66" y2="249.3"/>
<line x1="335.66" y1="112.0" x2="335.66" y2="114.0"/>
<line x1="342.69" y1="251.3" x2="342.69" y2="250.10000000000002"/>
<line x1="342.69" y1="112.0" x2="342.69" y2="113.2"/>
<line x1="349.72" y1="251.3" x2="349.72" y2="250.10000000000002"/>
<line x1="349.72" y1="112.0" x2="349.72" y2="113.2"/>
<line x1="356.75" y1="251.3" x2="356.75" y2="250.10000000000002"/>
<line x1="356.75" y1="112.0" x2="356.75" y2="113.2"/>
<line x1="363.78" y1="251.3" x2="363.78" y2="249.3"/>
<line x1="363.78" y1="112.0" x2="363.78" y2="114.0"/>
<line x1="370.81" y1="251.3" x2="370.81" y2="250.10000000000002"/>
<line x1="370.81" y1="112.0" x2="370.81" y2="113.2"/>
<line x1="377.84" y1="251.3" x2="377.84" y2="250.10000000000002"/>
<line x1="377.84" y1="112.0" x2="377.84" y2="113.2"/>
<line x1="384.87" y1="251.3" x2="384.87" y2="250.10000000000002"/>
<line x1="384.87" y1="112.0" x2="384.87" y2="113.2"/>
<line x1="391.90" y1="251.3" x2="391.90" y2="249.3"/>
<line x1="391.90" y1="112.0" x2="391.90" y2="114.0"/>
<line x1="251.3" y1="251.30" x2="253.3" y2="251.30"/>
<line x1="391.9" y1="251.30" x2="389.9" y2="251.30"/>
<line x1="251.3" y1="243.71" x2="252.5" y2="243.71"/>
<line x1="391.9" y1="243.71" x2="390.7" y2="243.71"/>
<line x1="251.3" y1="236.12" x2="252.5" y2="236.12"/>
<line x1="391.9" y1="236.12" x2="390.7" y2="236.12"/>
<line x1="251.3" y1="228.54" x2="252.5" y2="228.54"/>
<line x1="391.9" y1="228.54" x2="390.7" y2="228.54"/>
<line x1="251.3" y1="220.95" x2="253.3" y2="220.95"/>
<line x1="391.9" y1="220.95" x2="389.9" y2="220.95"/>
<line x1="251.3" y1="213.36" x2="252.5" y2="213.36"/>
<line x1="391.9" y1="213.36" x2="390.7" y2="213.36"/>
<line x1="251.3" y1="205.78" x2="252.5" y2="205.78"/>
<line x1="391.9" y1="205.78" x2="390.7" y2="205.78"/>
<line x1="251.3" y1="198.19" x2="252.5" y2="198.19"/>
<line x1="391.9" y1="198.19" x2="390.7" y2="198.19"/>
<line x1="251.3" y1="190.60" x2="253.3" y2="190.60"/>
<line x1="391.9" y1="190.60" x2="389.9" y2="190.60"/>
<line x1="251.3" y1="183.01" x2="252.5" y2="183.01"/>
<line x1="391.9" y1="183.01" x2="390.7" y2="183.01"/>
<line x1="251.3" y1="175.43" x2="252.5" y2="175.43"/>
<line x1="391.9" y1="175.43" x2="390.7" y2="175.43"/>
<line x1="251.3" y1="167.84" x2="252.5" y2="167.84"/>
<line x1="391.9" y1="167.84" x2="390.7" y2="167.84"/>
<line x1="251.3" y1="160.25" x2="253.3" y2="160.25"/>
<line x1="391.9" y1="160.25" x2="389.9" y2="160.25"/>
<line x1="251.3" y1="152.66" x2="252.5" y2="152.66"/>
<line x1="391.9" y1="152.66" x2="390.7" y2="152.66"/>
<line x1="251.3" y1="145.08" x2="252.5" y2="145.08"/>
<line x1="391.9" y1="145.08" x2="390.7" y2="145.08"/>
<line x1="251.3" y1="137.49" x2="252.5" y2="137.49"/>
<line x1="391.9" y1="137.49" x2="390.7" y2="137.49"/>
<line x1="251.3" y1="129.90" x2="253.3" y2="129.90"/>
<line x1="391.9" y1="129.90" x2="389.9" y2="129.90"/>
<line x1="251.3" y1="122.31" x2="252.5" y2="122.31"/>
<line x1="391.9" y1="122.31" x2="390.7" y2="122.31"/>
<line x1="251.3" y1="114.73" x2="252.5" y2="114.73"/>
<line x1="391.9" y1="114.73" x2="390.7" y2="114.73"/>
</g>
<g fill="#666" opacity="0.99">
<text x="69.5" y="383.0" text-anchor="middle" font-size="13.8">0.4</text>
<text x="125.5" y="383.0" text-anchor="middle" font-size="13.8">0.5</text>
<text x="181.5" y="383.0" text-anchor="middle" font-size="13.8">0.6</text>
<text x="237.5" y="383.0" text-anchor="middle" font-size="13.8">0.7</text>
<text x="293.5" y="383.0" text-anchor="middle" font-size="13.8">0.8</text>
<text x="349.5" y="383.0" text-anchor="middle" font-size="13.8">0.9</text>
<text x="405.5" y="383.0" text-anchor="middle" font-size="13.8">1.0</text>
<text x="43.6" y="370.9" text-anchor="end" font-size="13.8">0</text>
<text x="43.6" y="281.2" text-anchor="end" font-size="13.8">1000</text>
<text x="43.6" y="191.5" text-anchor="end" font-size="13.8">2000</text>
<text x="43.6" y="101.8" text-anchor="end" font-size="13.8">3000</text>
<text x="43.6" y="12.1" text-anchor="end" font-size="13.8">4000</text>
<text x="251.3" y="265.0" text-anchor="middle" font-size="11.4">0.90</text>
<text x="279.4" y="265.0" text-anchor="middle" font-size="11.4">0.92</text>
<text x="307.5" y="265.0" text-anchor="middle" font-size="11.4">0.94</text>
<text x="335.7" y="265.0" text-anchor="middle" font-size="11.4">0.96</text>
<text x="363.8" y="265.0" text-anchor="middle" font-size="11.4">0.98</text>
<text x="391.9" y="265.0" text-anchor="middle" font-size="11.4">1.00</text>
<text x="247.3" y="255.2" text-anchor="end" font-size="11.4">0</text>
<text x="247.3" y="224.9" text-anchor="end" font-size="11.4">200</text>
<text x="247.3" y="194.5" text-anchor="end" font-size="11.4">400</text>
<text x="247.3" y="164.2" text-anchor="end" font-size="11.4">600</text>
<text x="247.3" y="133.8" text-anchor="end" font-size="11.4">800</text>
</g>
<g opacity="0.99">
<rect x="103.8" y="16.1" width="257.8" height="18.5" fill="#fcfcfc" stroke="#d9d9d9" stroke-width="0.8"/>
<line x1="107.1" y1="25.9" x2="123.3" y2="25.9" stroke="#ff0d0d" stroke-width="1.5"/>
<text x="131.4" y="30.6" font-size="14" fill="#222" >K=1</text>
<line x1="168.3" y1="25.9" x2="184.8" y2="25.9" stroke="#32cd32" stroke-width="1.5"/>
<text x="192.9" y="30.6" font-size="14" fill="#222" >K=<tspan dx="1.3">−</tspan><tspan dx="0.9">1</tspan></text>
<line x1="239.3" y1="25.9" x2="255.7" y2="25.9" stroke="#0a0aff" stroke-width="1.5"/>
<text x="263.8" y="30.6" font-size="14" fill="#222" >K=2</text>
<line x1="300.9" y1="25.9" x2="317.3" y2="25.9" stroke="#ff0aff" stroke-width="1.5"/>
<text x="325.4" y="30.6" font-size="14" fill="#222" >K=<tspan dx="1.3">−</tspan><tspan dx="0.9">2</tspan></text>
<rect x="103.8" y="39.2" width="257.8" height="18.5" fill="#fcfcfc" stroke="#d9d9d9" stroke-width="0.8"/>
<line x1="107.1" y1="49.0" x2="123.3" y2="49.0" stroke="#a5713c" stroke-width="1.5"/>
<text x="131.4" y="53.7" font-size="14" fill="#222" >K=3</text>
<line x1="168.3" y1="49.0" x2="184.8" y2="49.0" stroke="#006400" stroke-width="1.5"/>
<text x="192.9" y="53.7" font-size="14" fill="#222" >K=<tspan dx="1.3">−</tspan><tspan dx="0.9">3</tspan></text>
<line x1="239.3" y1="49.0" x2="255.7" y2="49.0" stroke="#8b008b" stroke-width="1.5"/>
<text x="263.8" y="53.7" font-size="14" fill="#222" >K=4</text>
<line x1="300.9" y1="49.0" x2="317.3" y2="49.0" stroke="#ff8f1f" stroke-width="1.5"/>
<text x="325.4" y="53.7" font-size="14" fill="#222" >K=<tspan dx="1.3">−</tspan><tspan dx="0.9">4</tspan></text>
<rect x="108.4" y="62.1" width="177.7" height="18.8" fill="#fcfcfc" stroke="#d9d9d9" stroke-width="0.8"/>
<line x1="111.5" y1="72.3" x2="127.7" y2="72.3" stroke="#1e90ff" stroke-width="1.5"/>
<text x="135.6" y="77.0" font-size="14" fill="#222" >K=5</text>
<line x1="172.6" y1="72.3" x2="189.0" y2="72.3" stroke="#00eeee" stroke-width="1.5"/>
<text x="197.0" y="77.0" font-size="14" fill="#222" >K=6</text>
<line x1="234.0" y1="72.3" x2="250.2" y2="72.3" stroke="#000000" stroke-width="1.5"/>
<text x="258.0" y="77.0" font-size="14" fill="#222" >K=0</text>
<text x="1.2" y="192.1" font-size="13.8" fill="#666">E</text>
<path d="M3.0,181.1 C3.6,179.8 4.6,179.7 5.4,180.4 C6.2,181.1 7.2,181.0 7.8,179.7" fill="none" stroke="#666" stroke-width="0.8"/>
<text x="221" y="405.4" font-size="14" font-style="italic" fill="#555">&#x3D6;</text>
</g>
</svg>
</body></html>
